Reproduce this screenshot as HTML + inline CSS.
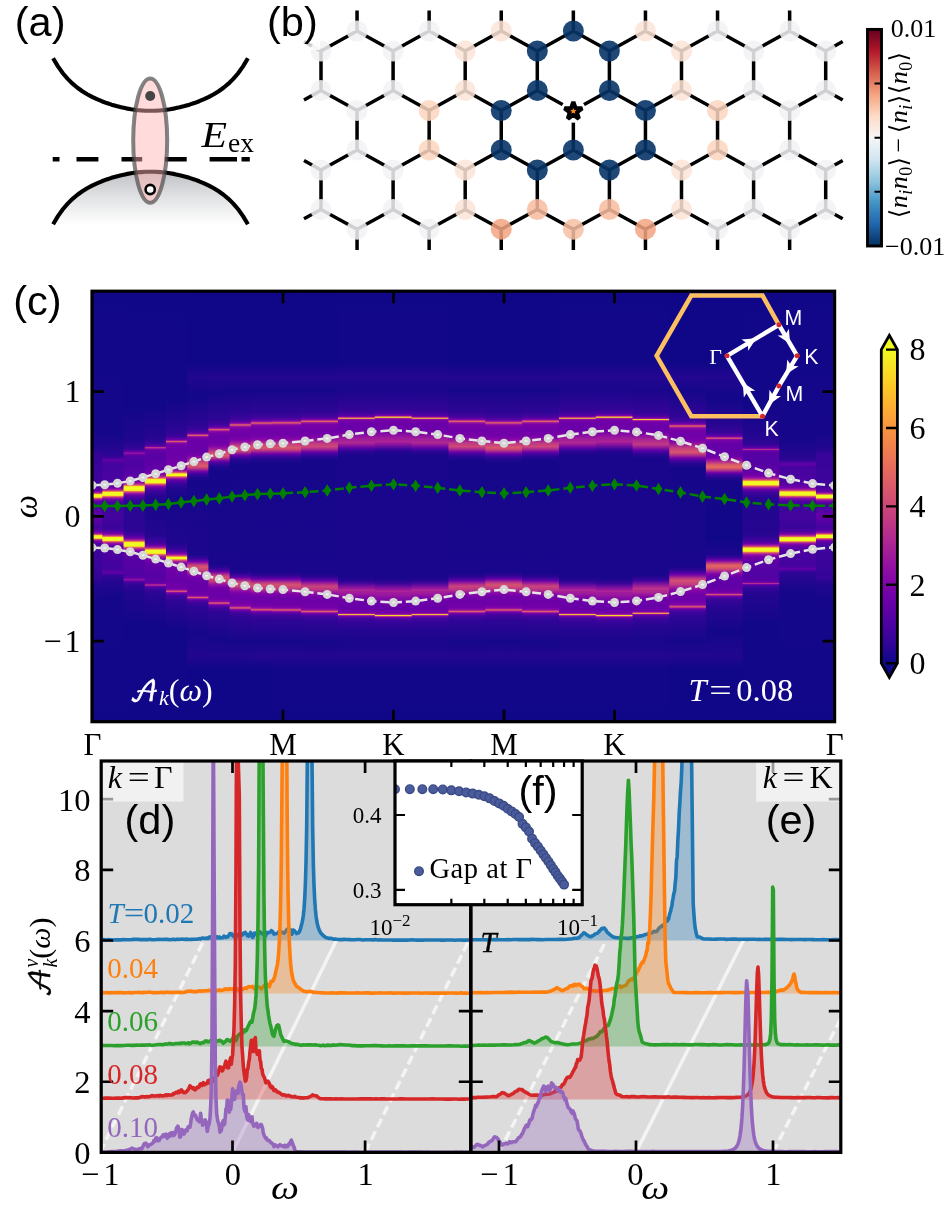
<!DOCTYPE html>
<html><head><meta charset="utf-8"><title>figure</title>
<style>html,body{margin:0;padding:0;background:#fff}svg{display:block}</style></head>
<body>
<svg width="945" height="1208" viewBox="0 0 945 1208">
<rect width="945" height="1208" fill="#fff"/>
<defs><linearGradient id="gval" x1="0" y1="0" x2="0" y2="1"><stop offset="0" stop-color="#bfc0c4"/><stop offset="0.45" stop-color="#dfe0e2"/><stop offset="1" stop-color="#ffffff"/></linearGradient></defs>
<text x="14.8" y="36.2" font-family='"Liberation Sans","DejaVu Sans",sans-serif' font-size="41.5">(a)</text>
<path d="M53.1,224.25L57.97,216.08L62.84,209.29L67.71,203.6L72.58,198.81L77.45,194.75L82.32,191.27L87.19,188.26L92.06,185.63L96.93,183.32L101.8,181.27L106.67,179.45L111.54,177.84L116.41,176.42L121.28,175.18L126.15,174.13L131.02,173.26L135.89,172.58L140.76,172.09L145.63,171.8L150.5,171.7L155.37,171.8L160.24,172.09L165.11,172.58L169.98,173.26L174.85,174.13L179.72,175.18L184.59,176.42L189.46,177.84L194.33,179.45L199.2,181.27L204.07,183.32L208.94,185.63L213.81,188.26L218.68,191.27L223.55,194.75L228.42,198.81L233.29,203.6L238.16,209.29L243.03,216.08L247.9,224.25Z" fill="url(#gval)"/>
<path d="M53.1,58.25L57.97,66.42L62.84,73.21L67.71,78.9L72.58,83.69L77.45,87.75L82.32,91.23L87.19,94.24L92.06,96.87L96.93,99.18L101.8,101.23L106.67,103.05L111.54,104.66L116.41,106.08L121.28,107.32L126.15,108.37L131.02,109.24L135.89,109.92L140.76,110.41L145.63,110.7L150.5,110.8L155.37,110.7L160.24,110.41L165.11,109.92L169.98,109.24L174.85,108.37L179.72,107.32L184.59,106.08L189.46,104.66L194.33,103.05L199.2,101.23L204.07,99.18L208.94,96.87L213.81,94.24L218.68,91.23L223.55,87.75L228.42,83.69L233.29,78.9L238.16,73.21L243.03,66.42L247.9,58.25" fill="none" stroke="#000" stroke-width="4.1" stroke-linejoin="round"/>
<path d="M53.1,224.25L57.97,216.08L62.84,209.29L67.71,203.6L72.58,198.81L77.45,194.75L82.32,191.27L87.19,188.26L92.06,185.63L96.93,183.32L101.8,181.27L106.67,179.45L111.54,177.84L116.41,176.42L121.28,175.18L126.15,174.13L131.02,173.26L135.89,172.58L140.76,172.09L145.63,171.8L150.5,171.7L155.37,171.8L160.24,172.09L165.11,172.58L169.98,173.26L174.85,174.13L179.72,175.18L184.59,176.42L189.46,177.84L194.33,179.45L199.2,181.27L204.07,183.32L208.94,185.63L213.81,188.26L218.68,191.27L223.55,194.75L228.42,198.81L233.29,203.6L238.16,209.29L243.03,216.08L247.9,224.25" fill="none" stroke="#000" stroke-width="4.1" stroke-linejoin="round"/>
<path d="M52.7,159.3H59.5M76.5,159.3H98.4M121.5,159.3H142.2M164.8,159.3H186.7M209.6,159.3H237M241.5,159.3H249.8" stroke="#000" stroke-width="4.6" fill="none"/>
<ellipse cx="150.2" cy="140.6" rx="17" ry="62.2" fill="#ffb4b4" fill-opacity="0.48" stroke="#4a4a4a" stroke-opacity="0.68" stroke-width="4"/>
<circle cx="150.2" cy="96" r="5" fill="#454545"/>
<circle cx="150.2" cy="189.5" r="4.6" fill="#fff" stroke="#000" stroke-width="2.6"/>
<text transform="translate(201.5,147.2) scale(1.16,1)" font-family='"Liberation Serif","DejaVu Serif","DejaVu Math TeX Gyre",serif' font-size="36" font-style="italic">E</text><text x="228" y="152.2" font-family='"Liberation Serif","DejaVu Serif","DejaVu Math TeX Gyre",serif' font-size="27.5">ex</text>
<path d="M357.05,31V10.5M357.05,229.2V250M357.05,110.5V150M429.15,31V10.5M429.15,229.2V250M429.15,110.5V150M501.25,31V10.5M501.25,229.2V250M501.25,110.5V150M573.35,31V10.5M573.35,229.2V250M573.35,110.5V150M645.45,31V10.5M645.45,229.2V250M645.45,110.5V150M717.55,31V10.5M717.55,229.2V250M717.55,110.5V150M789.65,31V10.5M789.65,229.2V250M789.65,110.5V150M321,51V90.5M321,170V209.5M393.1,51V90.5M393.1,170V209.5M465.2,51V90.5M465.2,170V209.5M537.3,51V90.5M537.3,170V209.5M609.4,51V90.5M609.4,170V209.5M681.5,51V90.5M681.5,170V209.5M753.6,51V90.5M753.6,170V209.5M825.7,51V90.5M825.7,170V209.5M321,51L304,41.57M321,51L357.05,31M393.1,51L357.05,31M393.1,51L429.15,31M465.2,51L429.15,31M465.2,51L501.25,31M537.3,51L501.25,31M537.3,51L573.35,31M609.4,51L573.35,31M609.4,51L645.45,31M681.5,51L645.45,31M681.5,51L717.55,31M753.6,51L717.55,31M753.6,51L789.65,31M825.7,51L789.65,31M825.7,51L842.7,41.57M321,90.5L304,99.93M321,90.5L357.05,110.5M393.1,90.5L357.05,110.5M393.1,90.5L429.15,110.5M465.2,90.5L429.15,110.5M465.2,90.5L501.25,110.5M537.3,90.5L501.25,110.5M537.3,90.5L573.35,110.5M609.4,90.5L573.35,110.5M609.4,90.5L645.45,110.5M681.5,90.5L645.45,110.5M681.5,90.5L717.55,110.5M753.6,90.5L717.55,110.5M753.6,90.5L789.65,110.5M825.7,90.5L789.65,110.5M825.7,90.5L842.7,99.93M321,170L304,160.57M321,170L357.05,150M393.1,170L357.05,150M393.1,170L429.15,150M465.2,170L429.15,150M465.2,170L501.25,150M537.3,170L501.25,150M537.3,170L573.35,150M609.4,170L573.35,150M609.4,170L645.45,150M681.5,170L645.45,150M681.5,170L717.55,150M753.6,170L717.55,150M753.6,170L789.65,150M825.7,170L789.65,150M825.7,170L842.7,160.57M321,209.5L304,218.79M321,209.5L357.05,229.2M393.1,209.5L357.05,229.2M393.1,209.5L429.15,229.2M465.2,209.5L429.15,229.2M465.2,209.5L501.25,229.2M537.3,209.5L501.25,229.2M537.3,209.5L573.35,229.2M609.4,209.5L573.35,229.2M609.4,209.5L645.45,229.2M681.5,209.5L645.45,229.2M681.5,209.5L717.55,229.2M753.6,209.5L717.55,229.2M753.6,209.5L789.65,229.2M825.7,209.5L789.65,229.2M825.7,209.5L842.7,218.79" stroke="#000" stroke-width="3.5" fill="none"/>
<circle cx="357.05" cy="31" r="10.5" fill="#f2f2f5" fill-opacity="0.86"/>
<circle cx="429.15" cy="31" r="10.5" fill="#f2f2f5" fill-opacity="0.86"/>
<circle cx="501.25" cy="31" r="10.5" fill="#fbe4d6" fill-opacity="0.86"/>
<circle cx="573.35" cy="31" r="10.5" fill="#073467" fill-opacity="0.9"/>
<circle cx="645.45" cy="31" r="10.5" fill="#fbe4d6" fill-opacity="0.86"/>
<circle cx="717.55" cy="31" r="10.5" fill="#f2f2f5" fill-opacity="0.86"/>
<circle cx="789.65" cy="31" r="10.5" fill="#f2f2f5" fill-opacity="0.86"/>
<circle cx="321" cy="51" r="10.5" fill="#f2f2f5" fill-opacity="0.86"/>
<circle cx="393.1" cy="51" r="10.5" fill="#f2f2f5" fill-opacity="0.86"/>
<circle cx="465.2" cy="51" r="10.5" fill="#fbe4d6" fill-opacity="0.86"/>
<circle cx="537.3" cy="51" r="10.5" fill="#073467" fill-opacity="0.9"/>
<circle cx="609.4" cy="51" r="10.5" fill="#073467" fill-opacity="0.9"/>
<circle cx="681.5" cy="51" r="10.5" fill="#fbe4d6" fill-opacity="0.86"/>
<circle cx="753.6" cy="51" r="10.5" fill="#f2f2f5" fill-opacity="0.86"/>
<circle cx="825.7" cy="51" r="10.5" fill="#f2f2f5" fill-opacity="0.86"/>
<circle cx="321" cy="90.5" r="10.5" fill="#f2f2f5" fill-opacity="0.86"/>
<circle cx="393.1" cy="90.5" r="10.5" fill="#f2f2f5" fill-opacity="0.86"/>
<circle cx="465.2" cy="90.5" r="10.5" fill="#fbe4d6" fill-opacity="0.86"/>
<circle cx="537.3" cy="90.5" r="10.5" fill="#073467" fill-opacity="0.9"/>
<circle cx="609.4" cy="90.5" r="10.5" fill="#073467" fill-opacity="0.9"/>
<circle cx="681.5" cy="90.5" r="10.5" fill="#fbe4d6" fill-opacity="0.86"/>
<circle cx="753.6" cy="90.5" r="10.5" fill="#f2f2f5" fill-opacity="0.86"/>
<circle cx="825.7" cy="90.5" r="10.5" fill="#f2f2f5" fill-opacity="0.86"/>
<circle cx="357.05" cy="110.5" r="10.5" fill="#f2f2f5" fill-opacity="0.86"/>
<circle cx="429.15" cy="110.5" r="10.5" fill="#fcd5bf" fill-opacity="0.86"/>
<circle cx="501.25" cy="110.5" r="10.5" fill="#073467" fill-opacity="0.9"/>
<circle cx="645.45" cy="110.5" r="10.5" fill="#073467" fill-opacity="0.9"/>
<circle cx="717.55" cy="110.5" r="10.5" fill="#fcd5bf" fill-opacity="0.86"/>
<circle cx="789.65" cy="110.5" r="10.5" fill="#f2f2f5" fill-opacity="0.86"/>
<circle cx="357.05" cy="150" r="10.5" fill="#f2f2f5" fill-opacity="0.86"/>
<circle cx="429.15" cy="150" r="10.5" fill="#fcd5bf" fill-opacity="0.86"/>
<circle cx="501.25" cy="150" r="10.5" fill="#073467" fill-opacity="0.9"/>
<circle cx="573.35" cy="150" r="10.5" fill="#073467" fill-opacity="0.9"/>
<circle cx="645.45" cy="150" r="10.5" fill="#073467" fill-opacity="0.9"/>
<circle cx="717.55" cy="150" r="10.5" fill="#fcd5bf" fill-opacity="0.86"/>
<circle cx="789.65" cy="150" r="10.5" fill="#f2f2f5" fill-opacity="0.86"/>
<circle cx="321" cy="170" r="10.5" fill="#f2f2f5" fill-opacity="0.86"/>
<circle cx="393.1" cy="170" r="10.5" fill="#f2f2f5" fill-opacity="0.86"/>
<circle cx="465.2" cy="170" r="10.5" fill="#fbe4d6" fill-opacity="0.86"/>
<circle cx="537.3" cy="170" r="10.5" fill="#073467" fill-opacity="0.9"/>
<circle cx="609.4" cy="170" r="10.5" fill="#073467" fill-opacity="0.9"/>
<circle cx="681.5" cy="170" r="10.5" fill="#fbe4d6" fill-opacity="0.86"/>
<circle cx="753.6" cy="170" r="10.5" fill="#f2f2f5" fill-opacity="0.86"/>
<circle cx="825.7" cy="170" r="10.5" fill="#f2f2f5" fill-opacity="0.86"/>
<circle cx="321" cy="209.5" r="10.5" fill="#f2f2f5" fill-opacity="0.86"/>
<circle cx="393.1" cy="209.5" r="10.5" fill="#f2f2f5" fill-opacity="0.86"/>
<circle cx="465.2" cy="209.5" r="10.5" fill="#fbe4d6" fill-opacity="0.86"/>
<circle cx="537.3" cy="209.5" r="10.5" fill="#f8bb9e" fill-opacity="0.86"/>
<circle cx="609.4" cy="209.5" r="10.5" fill="#f8bb9e" fill-opacity="0.86"/>
<circle cx="681.5" cy="209.5" r="10.5" fill="#fbe4d6" fill-opacity="0.86"/>
<circle cx="753.6" cy="209.5" r="10.5" fill="#f2f2f5" fill-opacity="0.86"/>
<circle cx="825.7" cy="209.5" r="10.5" fill="#f2f2f5" fill-opacity="0.86"/>
<circle cx="357.05" cy="229.2" r="10.5" fill="#f2f2f5" fill-opacity="0.86"/>
<circle cx="429.15" cy="229.2" r="10.5" fill="#f2f2f5" fill-opacity="0.86"/>
<circle cx="501.25" cy="229.2" r="10.5" fill="#f3a481" fill-opacity="0.86"/>
<circle cx="573.35" cy="229.2" r="10.5" fill="#f8bfa4" fill-opacity="0.86"/>
<circle cx="645.45" cy="229.2" r="10.5" fill="#f3a481" fill-opacity="0.86"/>
<circle cx="717.55" cy="229.2" r="10.5" fill="#f2f2f5" fill-opacity="0.86"/>
<circle cx="789.65" cy="229.2" r="10.5" fill="#f2f2f5" fill-opacity="0.86"/>
<circle cx="573.35" cy="110.5" r="12.2" fill="#fff"/>
<polygon points="573.35,101.9 575.52,108.21 582.19,108.33 576.87,112.34 578.82,118.72 573.35,114.9 567.88,118.72 569.83,112.34 564.51,108.33 571.18,108.21" fill="#000" stroke="#000" stroke-width="4.2" stroke-linejoin="bevel"/>
<polygon points="573.35,107.9 574.23,109.99 576.49,110.18 574.78,111.66 575.29,113.87 573.35,112.7 571.41,113.87 571.92,111.66 570.21,110.18 572.47,109.99" fill="#ff8c1a"/>
<rect x="264" y="2" width="56" height="48" fill="#fff" fill-opacity="0.8"/>
<text x="267" y="36.2" font-family='"Liberation Sans","DejaVu Sans",sans-serif' font-size="41.5">(b)</text>
<defs><linearGradient id="grdbu" x1="0" y1="1" x2="0" y2="0">
<stop offset="0.00" stop-color="#053061"/>
<stop offset="0.05" stop-color="#124984"/>
<stop offset="0.10" stop-color="#2065ab"/>
<stop offset="0.15" stop-color="#327cb7"/>
<stop offset="0.20" stop-color="#4393c3"/>
<stop offset="0.25" stop-color="#6bacd1"/>
<stop offset="0.30" stop-color="#90c4dd"/>
<stop offset="0.35" stop-color="#b1d5e7"/>
<stop offset="0.40" stop-color="#d1e5f0"/>
<stop offset="0.45" stop-color="#e4eef4"/>
<stop offset="0.50" stop-color="#f7f6f6"/>
<stop offset="0.55" stop-color="#fae9df"/>
<stop offset="0.60" stop-color="#fddbc7"/>
<stop offset="0.65" stop-color="#f8bfa4"/>
<stop offset="0.70" stop-color="#f3a481"/>
<stop offset="0.75" stop-color="#e48066"/>
<stop offset="0.80" stop-color="#d6604d"/>
<stop offset="0.85" stop-color="#c43b3c"/>
<stop offset="0.90" stop-color="#b1182b"/>
<stop offset="0.95" stop-color="#8a0b25"/>
<stop offset="1.00" stop-color="#67001f"/>
</linearGradient></defs>
<rect x="867.5" y="29.4" width="14" height="216.6" fill="url(#grdbu)" stroke="#000" stroke-width="2.9"/>
<path d="M874.5,83.6H881.5M874.5,137.7H881.5M874.5,191.8H881.5" stroke="#000" stroke-width="2"/>
<text x="890.7" y="36.5" font-family='"Liberation Serif","DejaVu Serif","DejaVu Math TeX Gyre",serif' font-size="26">0.01</text>
<text x="885" y="254.8" font-family='"Liberation Serif","DejaVu Serif","DejaVu Math TeX Gyre",serif' font-size="26">−0.01</text>
<text id="cblabel" transform="translate(907.3,134.8) rotate(-90)" text-anchor="middle" letter-spacing="0.45" font-family='"Liberation Serif","DejaVu Serif","DejaVu Math TeX Gyre",serif' font-size="26" font-style="italic"><tspan font-style="normal" font-size="24.5">⟨</tspan>n<tspan font-size="18" dy="5">i</tspan><tspan dy="-5">n</tspan><tspan font-size="18" dy="5" font-style="normal">0</tspan><tspan dy="-5" font-style="normal" font-size="24.5">⟩</tspan><tspan font-style="normal" dx="4">−</tspan><tspan font-style="normal" font-size="24.5" dx="4">⟨</tspan>n<tspan font-size="18" dy="5">i</tspan><tspan dy="-5" font-style="normal" font-size="24.5">⟩⟨</tspan>n<tspan font-size="18" dy="5" font-style="normal">0</tspan><tspan dy="-5" font-style="normal" font-size="24.5">⟩</tspan></text>
<defs>
<linearGradient id="hc0" gradientUnits="userSpaceOnUse" x1="0" y1="291.2" x2="0" y2="721.7">
<stop offset="0.0000" stop-color="#100788"/>
<stop offset="0.3252" stop-color="#16078a"/>
<stop offset="0.3635" stop-color="#20068f"/>
<stop offset="0.3786" stop-color="#350498"/>
<stop offset="0.4495" stop-color="#3f049c"/>
<stop offset="0.4599" stop-color="#5502a4"/>
<stop offset="0.4634" stop-color="#6700a8"/>
<stop offset="0.4657" stop-color="#8004a8"/>
<stop offset="0.4681" stop-color="#a82296"/>
<stop offset="0.4692" stop-color="#c5407e"/>
<stop offset="0.4704" stop-color="#e56b5d"/>
<stop offset="0.4715" stop-color="#febb2b"/>
<stop offset="0.4727" stop-color="#f0f921"/>
<stop offset="0.4785" stop-color="#f0f921"/>
<stop offset="0.4797" stop-color="#f89540"/>
<stop offset="0.4808" stop-color="#da5a6a"/>
<stop offset="0.4820" stop-color="#bc3587"/>
<stop offset="0.4832" stop-color="#a21d9a"/>
<stop offset="0.4866" stop-color="#6f00a8"/>
<stop offset="0.4901" stop-color="#5502a4"/>
<stop offset="0.4994" stop-color="#41049d"/>
<stop offset="0.5180" stop-color="#6001a6"/>
<stop offset="0.5250" stop-color="#6300a7"/>
<stop offset="0.5494" stop-color="#41049d"/>
<stop offset="0.5563" stop-color="#5502a4"/>
<stop offset="0.5610" stop-color="#7d03a8"/>
<stop offset="0.5633" stop-color="#a31e9a"/>
<stop offset="0.5645" stop-color="#be3885"/>
<stop offset="0.5656" stop-color="#dd5e66"/>
<stop offset="0.5679" stop-color="#f0f921"/>
<stop offset="0.5738" stop-color="#f0f921"/>
<stop offset="0.5761" stop-color="#db5c68"/>
<stop offset="0.5772" stop-color="#bb3488"/>
<stop offset="0.5796" stop-color="#8a09a5"/>
<stop offset="0.5819" stop-color="#6e00a8"/>
<stop offset="0.5854" stop-color="#5601a4"/>
<stop offset="0.5958" stop-color="#3f049c"/>
<stop offset="0.6667" stop-color="#350498"/>
<stop offset="0.6818" stop-color="#20068f"/>
<stop offset="0.7178" stop-color="#16078a"/>
<stop offset="1.0000" stop-color="#100788"/>
</linearGradient>
<linearGradient id="hc1" gradientUnits="userSpaceOnUse" x1="0" y1="291.2" x2="0" y2="721.7">
<stop offset="0.0000" stop-color="#100788"/>
<stop offset="0.3368" stop-color="#16078a"/>
<stop offset="0.3810" stop-color="#2c0594"/>
<stop offset="0.3868" stop-color="#3c049b"/>
<stop offset="0.3926" stop-color="#6600a7"/>
<stop offset="0.3972" stop-color="#4c02a1"/>
<stop offset="0.4030" stop-color="#44039e"/>
<stop offset="0.4413" stop-color="#4b03a1"/>
<stop offset="0.4530" stop-color="#6001a6"/>
<stop offset="0.4564" stop-color="#7100a8"/>
<stop offset="0.4599" stop-color="#8f0da4"/>
<stop offset="0.4623" stop-color="#b32c8e"/>
<stop offset="0.4634" stop-color="#c9447a"/>
<stop offset="0.4646" stop-color="#e3685f"/>
<stop offset="0.4657" stop-color="#fba238"/>
<stop offset="0.4669" stop-color="#f0f921"/>
<stop offset="0.4739" stop-color="#f0f921"/>
<stop offset="0.4750" stop-color="#fbd724"/>
<stop offset="0.4762" stop-color="#f3874a"/>
<stop offset="0.4774" stop-color="#d9586a"/>
<stop offset="0.4797" stop-color="#a82296"/>
<stop offset="0.4832" stop-color="#7701a8"/>
<stop offset="0.4890" stop-color="#4e02a2"/>
<stop offset="0.4994" stop-color="#3a049a"/>
<stop offset="0.5215" stop-color="#44039e"/>
<stop offset="0.5494" stop-color="#3a049a"/>
<stop offset="0.5575" stop-color="#4e02a2"/>
<stop offset="0.5633" stop-color="#7701a8"/>
<stop offset="0.5656" stop-color="#9511a1"/>
<stop offset="0.5679" stop-color="#c13b82"/>
<stop offset="0.5691" stop-color="#da5b69"/>
<stop offset="0.5703" stop-color="#f58c46"/>
<stop offset="0.5714" stop-color="#f8e125"/>
<stop offset="0.5726" stop-color="#f0f921"/>
<stop offset="0.5784" stop-color="#f0f921"/>
<stop offset="0.5796" stop-color="#f7e225"/>
<stop offset="0.5807" stop-color="#f58c46"/>
<stop offset="0.5819" stop-color="#da5b69"/>
<stop offset="0.5830" stop-color="#c13b82"/>
<stop offset="0.5842" stop-color="#ab2494"/>
<stop offset="0.5865" stop-color="#8a09a5"/>
<stop offset="0.5923" stop-color="#6100a7"/>
<stop offset="0.6028" stop-color="#4c02a1"/>
<stop offset="0.6423" stop-color="#43039e"/>
<stop offset="0.6481" stop-color="#4903a0"/>
<stop offset="0.6539" stop-color="#6300a7"/>
<stop offset="0.6585" stop-color="#3f049c"/>
<stop offset="0.6655" stop-color="#2a0593"/>
<stop offset="0.7062" stop-color="#16078a"/>
<stop offset="1.0000" stop-color="#100788"/>
</linearGradient>
<linearGradient id="hc2" gradientUnits="userSpaceOnUse" x1="0" y1="291.2" x2="0" y2="721.7">
<stop offset="0.0000" stop-color="#100788"/>
<stop offset="0.2718" stop-color="#130789"/>
<stop offset="0.3449" stop-color="#20068f"/>
<stop offset="0.3612" stop-color="#2c0594"/>
<stop offset="0.3682" stop-color="#3e049c"/>
<stop offset="0.3728" stop-color="#6100a7"/>
<stop offset="0.3751" stop-color="#8e0ca4"/>
<stop offset="0.3763" stop-color="#9a169f"/>
<stop offset="0.3798" stop-color="#6600a7"/>
<stop offset="0.3844" stop-color="#5302a3"/>
<stop offset="0.4019" stop-color="#4e02a2"/>
<stop offset="0.4262" stop-color="#5801a4"/>
<stop offset="0.4390" stop-color="#6e00a8"/>
<stop offset="0.4425" stop-color="#7e03a8"/>
<stop offset="0.4460" stop-color="#9a169f"/>
<stop offset="0.4483" stop-color="#b6308b"/>
<stop offset="0.4506" stop-color="#de5f65"/>
<stop offset="0.4518" stop-color="#f3874a"/>
<stop offset="0.4530" stop-color="#fdc627"/>
<stop offset="0.4541" stop-color="#f0f921"/>
<stop offset="0.4623" stop-color="#f0f921"/>
<stop offset="0.4634" stop-color="#fcce25"/>
<stop offset="0.4646" stop-color="#f58b47"/>
<stop offset="0.4657" stop-color="#de5f65"/>
<stop offset="0.4669" stop-color="#c7427c"/>
<stop offset="0.4692" stop-color="#a01a9c"/>
<stop offset="0.4739" stop-color="#6900a8"/>
<stop offset="0.4797" stop-color="#46039f"/>
<stop offset="0.4866" stop-color="#330597"/>
<stop offset="0.4959" stop-color="#2a0593"/>
<stop offset="0.5540" stop-color="#2c0594"/>
<stop offset="0.5656" stop-color="#41049d"/>
<stop offset="0.5703" stop-color="#5801a4"/>
<stop offset="0.5738" stop-color="#7201a8"/>
<stop offset="0.5772" stop-color="#a01a9c"/>
<stop offset="0.5796" stop-color="#c8437b"/>
<stop offset="0.5807" stop-color="#df6263"/>
<stop offset="0.5819" stop-color="#f68d45"/>
<stop offset="0.5830" stop-color="#fbd524"/>
<stop offset="0.5842" stop-color="#f0f921"/>
<stop offset="0.5923" stop-color="#f0f921"/>
<stop offset="0.5947" stop-color="#ec7754"/>
<stop offset="0.5958" stop-color="#d5546e"/>
<stop offset="0.5970" stop-color="#c23c81"/>
<stop offset="0.5993" stop-color="#a11b9b"/>
<stop offset="0.6028" stop-color="#8104a7"/>
<stop offset="0.6063" stop-color="#6f00a8"/>
<stop offset="0.6179" stop-color="#5801a4"/>
<stop offset="0.6609" stop-color="#5002a2"/>
<stop offset="0.6667" stop-color="#6600a7"/>
<stop offset="0.6702" stop-color="#9613a1"/>
<stop offset="0.6736" stop-color="#5b01a5"/>
<stop offset="0.6783" stop-color="#3a049a"/>
<stop offset="0.6852" stop-color="#2c0594"/>
<stop offset="0.6980" stop-color="#220690"/>
<stop offset="0.7666" stop-color="#130789"/>
<stop offset="1.0000" stop-color="#100788"/>
</linearGradient>
<linearGradient id="hc3" gradientUnits="userSpaceOnUse" x1="0" y1="291.2" x2="0" y2="721.7">
<stop offset="0.0000" stop-color="#100788"/>
<stop offset="0.2660" stop-color="#130789"/>
<stop offset="0.3380" stop-color="#260591"/>
<stop offset="0.3508" stop-color="#330597"/>
<stop offset="0.3577" stop-color="#4e02a2"/>
<stop offset="0.3600" stop-color="#6600a7"/>
<stop offset="0.3612" stop-color="#7d03a8"/>
<stop offset="0.3635" stop-color="#c6417d"/>
<stop offset="0.3647" stop-color="#b12a90"/>
<stop offset="0.3659" stop-color="#8a09a5"/>
<stop offset="0.3670" stop-color="#7501a8"/>
<stop offset="0.3705" stop-color="#6001a6"/>
<stop offset="0.3833" stop-color="#5801a4"/>
<stop offset="0.4111" stop-color="#6100a7"/>
<stop offset="0.4228" stop-color="#7501a8"/>
<stop offset="0.4262" stop-color="#8606a6"/>
<stop offset="0.4297" stop-color="#a11b9b"/>
<stop offset="0.4321" stop-color="#be3885"/>
<stop offset="0.4332" stop-color="#d04d73"/>
<stop offset="0.4344" stop-color="#e56a5d"/>
<stop offset="0.4355" stop-color="#f9983e"/>
<stop offset="0.4367" stop-color="#f8e125"/>
<stop offset="0.4379" stop-color="#f0f921"/>
<stop offset="0.4448" stop-color="#f0f921"/>
<stop offset="0.4460" stop-color="#fdc229"/>
<stop offset="0.4472" stop-color="#f1834c"/>
<stop offset="0.4483" stop-color="#da5b69"/>
<stop offset="0.4495" stop-color="#c43e7f"/>
<stop offset="0.4518" stop-color="#9d189d"/>
<stop offset="0.4541" stop-color="#7d03a8"/>
<stop offset="0.4576" stop-color="#5e01a6"/>
<stop offset="0.4646" stop-color="#3c049b"/>
<stop offset="0.4762" stop-color="#260591"/>
<stop offset="0.4971" stop-color="#19068c"/>
<stop offset="0.5679" stop-color="#240691"/>
<stop offset="0.5830" stop-color="#3f049c"/>
<stop offset="0.5877" stop-color="#5502a4"/>
<stop offset="0.5912" stop-color="#7100a8"/>
<stop offset="0.5947" stop-color="#9d189d"/>
<stop offset="0.5970" stop-color="#c5407e"/>
<stop offset="0.5981" stop-color="#db5c68"/>
<stop offset="0.5993" stop-color="#f3854b"/>
<stop offset="0.6005" stop-color="#fdc627"/>
<stop offset="0.6016" stop-color="#f0f921"/>
<stop offset="0.6086" stop-color="#f0f921"/>
<stop offset="0.6098" stop-color="#fdc527"/>
<stop offset="0.6109" stop-color="#f3854b"/>
<stop offset="0.6121" stop-color="#dd5e66"/>
<stop offset="0.6132" stop-color="#c9447a"/>
<stop offset="0.6156" stop-color="#a82296"/>
<stop offset="0.6179" stop-color="#910ea3"/>
<stop offset="0.6214" stop-color="#7b02a8"/>
<stop offset="0.6330" stop-color="#6100a7"/>
<stop offset="0.6609" stop-color="#5601a4"/>
<stop offset="0.6760" stop-color="#5e01a6"/>
<stop offset="0.6794" stop-color="#7501a8"/>
<stop offset="0.6806" stop-color="#8e0ca4"/>
<stop offset="0.6818" stop-color="#b42e8d"/>
<stop offset="0.6829" stop-color="#bf3984"/>
<stop offset="0.6841" stop-color="#9613a1"/>
<stop offset="0.6852" stop-color="#7501a8"/>
<stop offset="0.6864" stop-color="#6100a7"/>
<stop offset="0.6887" stop-color="#4b03a1"/>
<stop offset="0.6945" stop-color="#350498"/>
<stop offset="0.7062" stop-color="#280592"/>
<stop offset="0.7735" stop-color="#130789"/>
<stop offset="1.0000" stop-color="#100788"/>
</linearGradient>
<linearGradient id="hc4" gradientUnits="userSpaceOnUse" x1="0" y1="291.2" x2="0" y2="721.7">
<stop offset="0.0000" stop-color="#100788"/>
<stop offset="0.2532" stop-color="#130789"/>
<stop offset="0.3229" stop-color="#2c0594"/>
<stop offset="0.3357" stop-color="#3a049a"/>
<stop offset="0.3426" stop-color="#5901a5"/>
<stop offset="0.3449" stop-color="#7201a8"/>
<stop offset="0.3461" stop-color="#8707a6"/>
<stop offset="0.3473" stop-color="#a82296"/>
<stop offset="0.3484" stop-color="#d45270"/>
<stop offset="0.3496" stop-color="#de5f65"/>
<stop offset="0.3508" stop-color="#b83289"/>
<stop offset="0.3519" stop-color="#9814a0"/>
<stop offset="0.3542" stop-color="#7d03a8"/>
<stop offset="0.3566" stop-color="#7401a8"/>
<stop offset="0.3705" stop-color="#6a00a8"/>
<stop offset="0.4030" stop-color="#7201a8"/>
<stop offset="0.4123" stop-color="#8305a7"/>
<stop offset="0.4158" stop-color="#9410a2"/>
<stop offset="0.4181" stop-color="#aa2395"/>
<stop offset="0.4204" stop-color="#cb4679"/>
<stop offset="0.4216" stop-color="#e16462"/>
<stop offset="0.4228" stop-color="#f89441"/>
<stop offset="0.4239" stop-color="#f8df25"/>
<stop offset="0.4251" stop-color="#f0f921"/>
<stop offset="0.4286" stop-color="#f0f724"/>
<stop offset="0.4297" stop-color="#fba238"/>
<stop offset="0.4309" stop-color="#e56b5d"/>
<stop offset="0.4321" stop-color="#cc4778"/>
<stop offset="0.4332" stop-color="#b52f8c"/>
<stop offset="0.4355" stop-color="#8f0da4"/>
<stop offset="0.4379" stop-color="#7401a8"/>
<stop offset="0.4413" stop-color="#5601a4"/>
<stop offset="0.4495" stop-color="#310597"/>
<stop offset="0.4611" stop-color="#20068f"/>
<stop offset="0.4855" stop-color="#16078a"/>
<stop offset="0.5854" stop-color="#20068f"/>
<stop offset="0.5993" stop-color="#38049a"/>
<stop offset="0.6039" stop-color="#4e02a2"/>
<stop offset="0.6086" stop-color="#7201a8"/>
<stop offset="0.6121" stop-color="#a11b9b"/>
<stop offset="0.6144" stop-color="#cc4977"/>
<stop offset="0.6156" stop-color="#e76e5b"/>
<stop offset="0.6167" stop-color="#fca636"/>
<stop offset="0.6179" stop-color="#f0f921"/>
<stop offset="0.6214" stop-color="#f0f921"/>
<stop offset="0.6225" stop-color="#fdc328"/>
<stop offset="0.6237" stop-color="#f1814d"/>
<stop offset="0.6249" stop-color="#d9586a"/>
<stop offset="0.6272" stop-color="#b12a90"/>
<stop offset="0.6295" stop-color="#9814a0"/>
<stop offset="0.6318" stop-color="#8808a6"/>
<stop offset="0.6411" stop-color="#7201a8"/>
<stop offset="0.6725" stop-color="#6700a8"/>
<stop offset="0.6899" stop-color="#7100a8"/>
<stop offset="0.6922" stop-color="#7b02a8"/>
<stop offset="0.6945" stop-color="#9a169f"/>
<stop offset="0.6969" stop-color="#de5f65"/>
<stop offset="0.6980" stop-color="#c8437b"/>
<stop offset="0.6992" stop-color="#9d189d"/>
<stop offset="0.7003" stop-color="#8004a8"/>
<stop offset="0.7027" stop-color="#6001a6"/>
<stop offset="0.7085" stop-color="#3f049c"/>
<stop offset="0.7201" stop-color="#2e0595"/>
<stop offset="0.7851" stop-color="#130789"/>
<stop offset="1.0000" stop-color="#100788"/>
</linearGradient>
<linearGradient id="hc5" gradientUnits="userSpaceOnUse" x1="0" y1="291.2" x2="0" y2="721.7">
<stop offset="0.0000" stop-color="#100788"/>
<stop offset="0.1696" stop-color="#100788"/>
<stop offset="0.1986" stop-color="#220690"/>
<stop offset="0.2439" stop-color="#130789"/>
<stop offset="0.3113" stop-color="#2e0595"/>
<stop offset="0.3229" stop-color="#3e049c"/>
<stop offset="0.3287" stop-color="#5e01a6"/>
<stop offset="0.3310" stop-color="#7b02a8"/>
<stop offset="0.3322" stop-color="#9613a1"/>
<stop offset="0.3345" stop-color="#e56b5d"/>
<stop offset="0.3357" stop-color="#d24f71"/>
<stop offset="0.3368" stop-color="#aa2395"/>
<stop offset="0.3380" stop-color="#8f0da4"/>
<stop offset="0.3391" stop-color="#8104a7"/>
<stop offset="0.3426" stop-color="#7100a8"/>
<stop offset="0.3496" stop-color="#6900a8"/>
<stop offset="0.3717" stop-color="#6900a8"/>
<stop offset="0.3810" stop-color="#7401a8"/>
<stop offset="0.3879" stop-color="#910ea3"/>
<stop offset="0.3984" stop-color="#cc4977"/>
<stop offset="0.4042" stop-color="#d5546e"/>
<stop offset="0.4053" stop-color="#dd5e66"/>
<stop offset="0.4100" stop-color="#c9447a"/>
<stop offset="0.4193" stop-color="#6e00a8"/>
<stop offset="0.4239" stop-color="#44039e"/>
<stop offset="0.4309" stop-color="#240691"/>
<stop offset="0.4402" stop-color="#16078a"/>
<stop offset="0.6121" stop-color="#1d068e"/>
<stop offset="0.6190" stop-color="#310597"/>
<stop offset="0.6237" stop-color="#4e02a2"/>
<stop offset="0.6283" stop-color="#7a02a8"/>
<stop offset="0.6365" stop-color="#c7427c"/>
<stop offset="0.6411" stop-color="#da5a6a"/>
<stop offset="0.6423" stop-color="#d24f71"/>
<stop offset="0.6481" stop-color="#c8437b"/>
<stop offset="0.6597" stop-color="#8606a6"/>
<stop offset="0.6655" stop-color="#7100a8"/>
<stop offset="0.6760" stop-color="#6600a7"/>
<stop offset="0.7003" stop-color="#6a00a8"/>
<stop offset="0.7050" stop-color="#7201a8"/>
<stop offset="0.7073" stop-color="#8004a8"/>
<stop offset="0.7085" stop-color="#8f0da4"/>
<stop offset="0.7096" stop-color="#ad2793"/>
<stop offset="0.7108" stop-color="#d6556d"/>
<stop offset="0.7120" stop-color="#de5f65"/>
<stop offset="0.7131" stop-color="#b42e8d"/>
<stop offset="0.7143" stop-color="#8d0ba5"/>
<stop offset="0.7166" stop-color="#6600a7"/>
<stop offset="0.7224" stop-color="#3f049c"/>
<stop offset="0.7329" stop-color="#2e0595"/>
<stop offset="0.7956" stop-color="#16078a"/>
<stop offset="0.8479" stop-color="#220690"/>
<stop offset="0.8757" stop-color="#100788"/>
<stop offset="1.0000" stop-color="#100788"/>
</linearGradient>
<linearGradient id="hc6" gradientUnits="userSpaceOnUse" x1="0" y1="291.2" x2="0" y2="721.7">
<stop offset="0.0000" stop-color="#100788"/>
<stop offset="0.1696" stop-color="#100788"/>
<stop offset="0.1986" stop-color="#240691"/>
<stop offset="0.2346" stop-color="#16078a"/>
<stop offset="0.2973" stop-color="#2e0595"/>
<stop offset="0.3089" stop-color="#3e049c"/>
<stop offset="0.3148" stop-color="#5b01a5"/>
<stop offset="0.3182" stop-color="#8a09a5"/>
<stop offset="0.3194" stop-color="#a82296"/>
<stop offset="0.3206" stop-color="#ce4b75"/>
<stop offset="0.3217" stop-color="#e26660"/>
<stop offset="0.3240" stop-color="#aa2395"/>
<stop offset="0.3252" stop-color="#9410a2"/>
<stop offset="0.3264" stop-color="#8606a6"/>
<stop offset="0.3298" stop-color="#7501a8"/>
<stop offset="0.3380" stop-color="#6c00a8"/>
<stop offset="0.3508" stop-color="#6e00a8"/>
<stop offset="0.3589" stop-color="#7d03a8"/>
<stop offset="0.3647" stop-color="#9814a0"/>
<stop offset="0.3740" stop-color="#cc4778"/>
<stop offset="0.3798" stop-color="#d5536f"/>
<stop offset="0.3810" stop-color="#db5c68"/>
<stop offset="0.3856" stop-color="#c8437b"/>
<stop offset="0.3949" stop-color="#6e00a8"/>
<stop offset="0.3995" stop-color="#44039e"/>
<stop offset="0.4065" stop-color="#240691"/>
<stop offset="0.4158" stop-color="#16078a"/>
<stop offset="0.6341" stop-color="#19068c"/>
<stop offset="0.6411" stop-color="#280592"/>
<stop offset="0.6469" stop-color="#44039e"/>
<stop offset="0.6516" stop-color="#6e00a8"/>
<stop offset="0.6609" stop-color="#c6417d"/>
<stop offset="0.6655" stop-color="#d8576b"/>
<stop offset="0.6667" stop-color="#d14e72"/>
<stop offset="0.6725" stop-color="#c7427c"/>
<stop offset="0.6818" stop-color="#9410a2"/>
<stop offset="0.6876" stop-color="#7801a8"/>
<stop offset="0.6945" stop-color="#6c00a8"/>
<stop offset="0.7073" stop-color="#6a00a8"/>
<stop offset="0.7154" stop-color="#7100a8"/>
<stop offset="0.7201" stop-color="#8405a7"/>
<stop offset="0.7213" stop-color="#9410a2"/>
<stop offset="0.7224" stop-color="#ad2793"/>
<stop offset="0.7236" stop-color="#cf4c74"/>
<stop offset="0.7247" stop-color="#de6164"/>
<stop offset="0.7271" stop-color="#9d189d"/>
<stop offset="0.7282" stop-color="#8104a7"/>
<stop offset="0.7305" stop-color="#6100a7"/>
<stop offset="0.7364" stop-color="#3f049c"/>
<stop offset="0.7468" stop-color="#2e0595"/>
<stop offset="0.8072" stop-color="#16078a"/>
<stop offset="0.8479" stop-color="#220690"/>
<stop offset="0.8757" stop-color="#100788"/>
<stop offset="1.0000" stop-color="#100788"/>
</linearGradient>
<linearGradient id="hc7" gradientUnits="userSpaceOnUse" x1="0" y1="291.2" x2="0" y2="721.7">
<stop offset="0.0000" stop-color="#100788"/>
<stop offset="0.1684" stop-color="#100788"/>
<stop offset="0.1986" stop-color="#240691"/>
<stop offset="0.2288" stop-color="#16078a"/>
<stop offset="0.2811" stop-color="#2a0593"/>
<stop offset="0.2962" stop-color="#3c049b"/>
<stop offset="0.3031" stop-color="#5901a5"/>
<stop offset="0.3066" stop-color="#8405a7"/>
<stop offset="0.3078" stop-color="#9e199d"/>
<stop offset="0.3101" stop-color="#da5b69"/>
<stop offset="0.3113" stop-color="#da5a6a"/>
<stop offset="0.3136" stop-color="#a51f99"/>
<stop offset="0.3159" stop-color="#8707a6"/>
<stop offset="0.3206" stop-color="#7501a8"/>
<stop offset="0.3310" stop-color="#6f00a8"/>
<stop offset="0.3403" stop-color="#7401a8"/>
<stop offset="0.3461" stop-color="#8104a7"/>
<stop offset="0.3508" stop-color="#9613a1"/>
<stop offset="0.3600" stop-color="#c9447a"/>
<stop offset="0.3659" stop-color="#d35171"/>
<stop offset="0.3670" stop-color="#da5b69"/>
<stop offset="0.3717" stop-color="#c8437b"/>
<stop offset="0.3810" stop-color="#6f00a8"/>
<stop offset="0.3856" stop-color="#46039f"/>
<stop offset="0.3926" stop-color="#240691"/>
<stop offset="0.4019" stop-color="#16078a"/>
<stop offset="0.6469" stop-color="#19068c"/>
<stop offset="0.6551" stop-color="#280592"/>
<stop offset="0.6609" stop-color="#46039f"/>
<stop offset="0.6655" stop-color="#6f00a8"/>
<stop offset="0.6748" stop-color="#c6417d"/>
<stop offset="0.6794" stop-color="#d7566c"/>
<stop offset="0.6806" stop-color="#cf4c74"/>
<stop offset="0.6852" stop-color="#c9447a"/>
<stop offset="0.6957" stop-color="#920fa3"/>
<stop offset="0.7003" stop-color="#7e03a8"/>
<stop offset="0.7062" stop-color="#7100a8"/>
<stop offset="0.7154" stop-color="#6c00a8"/>
<stop offset="0.7259" stop-color="#7401a8"/>
<stop offset="0.7305" stop-color="#8606a6"/>
<stop offset="0.7329" stop-color="#a62098"/>
<stop offset="0.7352" stop-color="#da5a6a"/>
<stop offset="0.7364" stop-color="#d35171"/>
<stop offset="0.7387" stop-color="#9511a1"/>
<stop offset="0.7398" stop-color="#7d03a8"/>
<stop offset="0.7422" stop-color="#6001a6"/>
<stop offset="0.7480" stop-color="#3f049c"/>
<stop offset="0.7584" stop-color="#2e0595"/>
<stop offset="0.8142" stop-color="#16078a"/>
<stop offset="0.8479" stop-color="#220690"/>
<stop offset="0.8757" stop-color="#100788"/>
<stop offset="1.0000" stop-color="#100788"/>
</linearGradient>
<linearGradient id="hc8" gradientUnits="userSpaceOnUse" x1="0" y1="291.2" x2="0" y2="721.7">
<stop offset="0.0000" stop-color="#100788"/>
<stop offset="0.1684" stop-color="#100788"/>
<stop offset="0.1986" stop-color="#240691"/>
<stop offset="0.2288" stop-color="#16078a"/>
<stop offset="0.2811" stop-color="#2e0595"/>
<stop offset="0.2927" stop-color="#3e049c"/>
<stop offset="0.2985" stop-color="#5801a4"/>
<stop offset="0.3020" stop-color="#8004a8"/>
<stop offset="0.3031" stop-color="#9613a1"/>
<stop offset="0.3055" stop-color="#d5546e"/>
<stop offset="0.3066" stop-color="#de5f65"/>
<stop offset="0.3089" stop-color="#ab2494"/>
<stop offset="0.3101" stop-color="#9613a1"/>
<stop offset="0.3124" stop-color="#8104a7"/>
<stop offset="0.3171" stop-color="#7401a8"/>
<stop offset="0.3264" stop-color="#6f00a8"/>
<stop offset="0.3357" stop-color="#7201a8"/>
<stop offset="0.3426" stop-color="#8104a7"/>
<stop offset="0.3473" stop-color="#9613a1"/>
<stop offset="0.3566" stop-color="#c9447a"/>
<stop offset="0.3624" stop-color="#d35171"/>
<stop offset="0.3635" stop-color="#da5b69"/>
<stop offset="0.3682" stop-color="#c8437b"/>
<stop offset="0.3775" stop-color="#6f00a8"/>
<stop offset="0.3833" stop-color="#3f049c"/>
<stop offset="0.3902" stop-color="#220690"/>
<stop offset="0.3995" stop-color="#16078a"/>
<stop offset="0.6504" stop-color="#19068c"/>
<stop offset="0.6585" stop-color="#280592"/>
<stop offset="0.6643" stop-color="#46039f"/>
<stop offset="0.6690" stop-color="#6f00a8"/>
<stop offset="0.6783" stop-color="#c6417d"/>
<stop offset="0.6829" stop-color="#d7566c"/>
<stop offset="0.6841" stop-color="#cf4c74"/>
<stop offset="0.6887" stop-color="#c9447a"/>
<stop offset="0.6992" stop-color="#920fa3"/>
<stop offset="0.7038" stop-color="#7d03a8"/>
<stop offset="0.7108" stop-color="#6f00a8"/>
<stop offset="0.7201" stop-color="#6c00a8"/>
<stop offset="0.7294" stop-color="#7201a8"/>
<stop offset="0.7340" stop-color="#8004a8"/>
<stop offset="0.7364" stop-color="#9613a1"/>
<stop offset="0.7375" stop-color="#ac2694"/>
<stop offset="0.7398" stop-color="#db5c68"/>
<stop offset="0.7410" stop-color="#cc4977"/>
<stop offset="0.7422" stop-color="#ab2494"/>
<stop offset="0.7433" stop-color="#8e0ca4"/>
<stop offset="0.7445" stop-color="#7801a8"/>
<stop offset="0.7468" stop-color="#5c01a6"/>
<stop offset="0.7526" stop-color="#3f049c"/>
<stop offset="0.7619" stop-color="#2f0596"/>
<stop offset="0.8153" stop-color="#16078a"/>
<stop offset="0.8479" stop-color="#240691"/>
<stop offset="0.8757" stop-color="#100788"/>
<stop offset="1.0000" stop-color="#100788"/>
</linearGradient>
<linearGradient id="hc9" gradientUnits="userSpaceOnUse" x1="0" y1="291.2" x2="0" y2="721.7">
<stop offset="0.0000" stop-color="#100788"/>
<stop offset="0.1684" stop-color="#100788"/>
<stop offset="0.1986" stop-color="#240691"/>
<stop offset="0.2288" stop-color="#16078a"/>
<stop offset="0.2811" stop-color="#2e0595"/>
<stop offset="0.2927" stop-color="#3f049c"/>
<stop offset="0.2985" stop-color="#5c01a6"/>
<stop offset="0.3020" stop-color="#8a09a5"/>
<stop offset="0.3031" stop-color="#a51f99"/>
<stop offset="0.3055" stop-color="#de5f65"/>
<stop offset="0.3066" stop-color="#d5536f"/>
<stop offset="0.3078" stop-color="#b83289"/>
<stop offset="0.3089" stop-color="#a01a9c"/>
<stop offset="0.3113" stop-color="#8606a6"/>
<stop offset="0.3159" stop-color="#7501a8"/>
<stop offset="0.3252" stop-color="#6f00a8"/>
<stop offset="0.3357" stop-color="#7201a8"/>
<stop offset="0.3426" stop-color="#8104a7"/>
<stop offset="0.3473" stop-color="#9613a1"/>
<stop offset="0.3566" stop-color="#c9447a"/>
<stop offset="0.3624" stop-color="#d35171"/>
<stop offset="0.3635" stop-color="#da5b69"/>
<stop offset="0.3682" stop-color="#c8437b"/>
<stop offset="0.3775" stop-color="#6f00a8"/>
<stop offset="0.3833" stop-color="#3f049c"/>
<stop offset="0.3902" stop-color="#220690"/>
<stop offset="0.3995" stop-color="#16078a"/>
<stop offset="0.6504" stop-color="#19068c"/>
<stop offset="0.6585" stop-color="#280592"/>
<stop offset="0.6643" stop-color="#46039f"/>
<stop offset="0.6690" stop-color="#6f00a8"/>
<stop offset="0.6783" stop-color="#c6417d"/>
<stop offset="0.6829" stop-color="#d7566c"/>
<stop offset="0.6841" stop-color="#cf4c74"/>
<stop offset="0.6887" stop-color="#c9447a"/>
<stop offset="0.6992" stop-color="#920fa3"/>
<stop offset="0.7038" stop-color="#7d03a8"/>
<stop offset="0.7096" stop-color="#7100a8"/>
<stop offset="0.7189" stop-color="#6c00a8"/>
<stop offset="0.7294" stop-color="#7100a8"/>
<stop offset="0.7340" stop-color="#7d03a8"/>
<stop offset="0.7364" stop-color="#8e0ca4"/>
<stop offset="0.7375" stop-color="#a01a9c"/>
<stop offset="0.7398" stop-color="#d5546e"/>
<stop offset="0.7410" stop-color="#d8576b"/>
<stop offset="0.7433" stop-color="#9c179e"/>
<stop offset="0.7445" stop-color="#8305a7"/>
<stop offset="0.7468" stop-color="#6300a7"/>
<stop offset="0.7526" stop-color="#41049d"/>
<stop offset="0.7631" stop-color="#2f0596"/>
<stop offset="0.8153" stop-color="#16078a"/>
<stop offset="0.8479" stop-color="#240691"/>
<stop offset="0.8757" stop-color="#130789"/>
<stop offset="1.0000" stop-color="#100788"/>
</linearGradient>
<linearGradient id="hc10" gradientUnits="userSpaceOnUse" x1="0" y1="291.2" x2="0" y2="721.7">
<stop offset="0.0000" stop-color="#100788"/>
<stop offset="0.1684" stop-color="#100788"/>
<stop offset="0.1986" stop-color="#240691"/>
<stop offset="0.2276" stop-color="#16078a"/>
<stop offset="0.2787" stop-color="#2e0595"/>
<stop offset="0.2904" stop-color="#41049d"/>
<stop offset="0.2962" stop-color="#6400a7"/>
<stop offset="0.2985" stop-color="#8606a6"/>
<stop offset="0.2997" stop-color="#a21d9a"/>
<stop offset="0.3020" stop-color="#e56a5d"/>
<stop offset="0.3031" stop-color="#d9586a"/>
<stop offset="0.3043" stop-color="#b6308b"/>
<stop offset="0.3055" stop-color="#9c179e"/>
<stop offset="0.3078" stop-color="#8305a7"/>
<stop offset="0.3101" stop-color="#7801a8"/>
<stop offset="0.3240" stop-color="#6e00a8"/>
<stop offset="0.3368" stop-color="#7801a8"/>
<stop offset="0.3426" stop-color="#8d0ba5"/>
<stop offset="0.3542" stop-color="#c33d80"/>
<stop offset="0.3589" stop-color="#c7427c"/>
<stop offset="0.3600" stop-color="#cf4c74"/>
<stop offset="0.3647" stop-color="#bb3488"/>
<stop offset="0.3740" stop-color="#6600a7"/>
<stop offset="0.3786" stop-color="#41049d"/>
<stop offset="0.3856" stop-color="#240691"/>
<stop offset="0.3949" stop-color="#16078a"/>
<stop offset="0.6551" stop-color="#19068c"/>
<stop offset="0.6620" stop-color="#260591"/>
<stop offset="0.6678" stop-color="#41049d"/>
<stop offset="0.6725" stop-color="#6600a7"/>
<stop offset="0.6818" stop-color="#b83289"/>
<stop offset="0.6864" stop-color="#cc4778"/>
<stop offset="0.6876" stop-color="#c33d80"/>
<stop offset="0.6922" stop-color="#bf3984"/>
<stop offset="0.7038" stop-color="#8808a6"/>
<stop offset="0.7096" stop-color="#7501a8"/>
<stop offset="0.7213" stop-color="#6c00a8"/>
<stop offset="0.7352" stop-color="#7401a8"/>
<stop offset="0.7398" stop-color="#8b0aa5"/>
<stop offset="0.7410" stop-color="#9d189d"/>
<stop offset="0.7422" stop-color="#ba3388"/>
<stop offset="0.7433" stop-color="#da5b69"/>
<stop offset="0.7445" stop-color="#de5f65"/>
<stop offset="0.7468" stop-color="#9814a0"/>
<stop offset="0.7480" stop-color="#7e03a8"/>
<stop offset="0.7503" stop-color="#6001a6"/>
<stop offset="0.7561" stop-color="#3f049c"/>
<stop offset="0.7654" stop-color="#2f0596"/>
<stop offset="0.8165" stop-color="#16078a"/>
<stop offset="0.8479" stop-color="#240691"/>
<stop offset="0.8757" stop-color="#130789"/>
<stop offset="1.0000" stop-color="#100788"/>
</linearGradient>
<linearGradient id="hc11" gradientUnits="userSpaceOnUse" x1="0" y1="291.2" x2="0" y2="721.7">
<stop offset="0.0000" stop-color="#100788"/>
<stop offset="0.1684" stop-color="#130789"/>
<stop offset="0.1986" stop-color="#240691"/>
<stop offset="0.2276" stop-color="#19068c"/>
<stop offset="0.2787" stop-color="#350498"/>
<stop offset="0.2869" stop-color="#4c02a1"/>
<stop offset="0.2892" stop-color="#5c01a6"/>
<stop offset="0.2915" stop-color="#7a02a8"/>
<stop offset="0.2927" stop-color="#9a169f"/>
<stop offset="0.2938" stop-color="#de6164"/>
<stop offset="0.2950" stop-color="#f0f921"/>
<stop offset="0.2962" stop-color="#da5b69"/>
<stop offset="0.2973" stop-color="#9e199d"/>
<stop offset="0.2985" stop-color="#8606a6"/>
<stop offset="0.2997" stop-color="#7b02a8"/>
<stop offset="0.3043" stop-color="#6e00a8"/>
<stop offset="0.3171" stop-color="#6900a8"/>
<stop offset="0.3275" stop-color="#7100a8"/>
<stop offset="0.3438" stop-color="#a31e9a"/>
<stop offset="0.3496" stop-color="#a82296"/>
<stop offset="0.3508" stop-color="#b32c8e"/>
<stop offset="0.3554" stop-color="#a11b9b"/>
<stop offset="0.3647" stop-color="#5b01a5"/>
<stop offset="0.3693" stop-color="#3c049b"/>
<stop offset="0.3751" stop-color="#260591"/>
<stop offset="0.3833" stop-color="#19068c"/>
<stop offset="0.6632" stop-color="#19068c"/>
<stop offset="0.6713" stop-color="#260591"/>
<stop offset="0.6771" stop-color="#3c049b"/>
<stop offset="0.6911" stop-color="#9e199d"/>
<stop offset="0.6957" stop-color="#b12a90"/>
<stop offset="0.6969" stop-color="#a51f99"/>
<stop offset="0.7015" stop-color="#a11b9b"/>
<stop offset="0.7131" stop-color="#7b02a8"/>
<stop offset="0.7201" stop-color="#6c00a8"/>
<stop offset="0.7364" stop-color="#6700a8"/>
<stop offset="0.7456" stop-color="#7201a8"/>
<stop offset="0.7480" stop-color="#8606a6"/>
<stop offset="0.7491" stop-color="#a31e9a"/>
<stop offset="0.7503" stop-color="#e97158"/>
<stop offset="0.7515" stop-color="#f0f921"/>
<stop offset="0.7526" stop-color="#ca457a"/>
<stop offset="0.7538" stop-color="#8e0ca4"/>
<stop offset="0.7549" stop-color="#7401a8"/>
<stop offset="0.7573" stop-color="#5801a4"/>
<stop offset="0.7607" stop-color="#44039e"/>
<stop offset="0.7654" stop-color="#370499"/>
<stop offset="0.7840" stop-color="#260591"/>
<stop offset="0.8165" stop-color="#19068c"/>
<stop offset="0.8479" stop-color="#240691"/>
<stop offset="0.8757" stop-color="#130789"/>
<stop offset="1.0000" stop-color="#100788"/>
</linearGradient>
<linearGradient id="hc12" gradientUnits="userSpaceOnUse" x1="0" y1="291.2" x2="0" y2="721.7">
<stop offset="0.0000" stop-color="#100788"/>
<stop offset="0.1684" stop-color="#130789"/>
<stop offset="0.1986" stop-color="#240691"/>
<stop offset="0.2276" stop-color="#19068c"/>
<stop offset="0.2764" stop-color="#350498"/>
<stop offset="0.2846" stop-color="#4e02a2"/>
<stop offset="0.2869" stop-color="#6001a6"/>
<stop offset="0.2892" stop-color="#8305a7"/>
<stop offset="0.2904" stop-color="#ab2494"/>
<stop offset="0.2915" stop-color="#f68d45"/>
<stop offset="0.2927" stop-color="#f0f921"/>
<stop offset="0.2950" stop-color="#ae2892"/>
<stop offset="0.2962" stop-color="#8e0ca4"/>
<stop offset="0.2985" stop-color="#7801a8"/>
<stop offset="0.3031" stop-color="#6e00a8"/>
<stop offset="0.3252" stop-color="#7100a8"/>
<stop offset="0.3415" stop-color="#a01a9c"/>
<stop offset="0.3473" stop-color="#a51f99"/>
<stop offset="0.3484" stop-color="#b02991"/>
<stop offset="0.3531" stop-color="#9d189d"/>
<stop offset="0.3670" stop-color="#3c049b"/>
<stop offset="0.3728" stop-color="#260591"/>
<stop offset="0.3810" stop-color="#19068c"/>
<stop offset="0.6655" stop-color="#19068c"/>
<stop offset="0.6736" stop-color="#260591"/>
<stop offset="0.6794" stop-color="#3c049b"/>
<stop offset="0.6934" stop-color="#9c179e"/>
<stop offset="0.6980" stop-color="#ac2694"/>
<stop offset="0.6992" stop-color="#a11b9b"/>
<stop offset="0.7038" stop-color="#9e199d"/>
<stop offset="0.7224" stop-color="#6c00a8"/>
<stop offset="0.7387" stop-color="#6700a8"/>
<stop offset="0.7480" stop-color="#7701a8"/>
<stop offset="0.7503" stop-color="#8f0da4"/>
<stop offset="0.7515" stop-color="#b42e8d"/>
<stop offset="0.7526" stop-color="#fca835"/>
<stop offset="0.7538" stop-color="#f0f921"/>
<stop offset="0.7549" stop-color="#e16462"/>
<stop offset="0.7561" stop-color="#9d189d"/>
<stop offset="0.7573" stop-color="#7b02a8"/>
<stop offset="0.7607" stop-color="#5102a3"/>
<stop offset="0.7677" stop-color="#370499"/>
<stop offset="0.7863" stop-color="#260591"/>
<stop offset="0.8177" stop-color="#19068c"/>
<stop offset="0.8479" stop-color="#240691"/>
<stop offset="0.8769" stop-color="#130789"/>
<stop offset="1.0000" stop-color="#100788"/>
</linearGradient>
<linearGradient id="hc13" gradientUnits="userSpaceOnUse" x1="0" y1="291.2" x2="0" y2="721.7">
<stop offset="0.0000" stop-color="#100788"/>
<stop offset="0.1684" stop-color="#130789"/>
<stop offset="0.1986" stop-color="#240691"/>
<stop offset="0.2276" stop-color="#19068c"/>
<stop offset="0.2787" stop-color="#350498"/>
<stop offset="0.2869" stop-color="#4c02a1"/>
<stop offset="0.2892" stop-color="#5c01a6"/>
<stop offset="0.2915" stop-color="#7a02a8"/>
<stop offset="0.2927" stop-color="#9a169f"/>
<stop offset="0.2938" stop-color="#de6164"/>
<stop offset="0.2950" stop-color="#f0f921"/>
<stop offset="0.2962" stop-color="#da5b69"/>
<stop offset="0.2973" stop-color="#9e199d"/>
<stop offset="0.2985" stop-color="#8606a6"/>
<stop offset="0.2997" stop-color="#7b02a8"/>
<stop offset="0.3043" stop-color="#6e00a8"/>
<stop offset="0.3171" stop-color="#6900a8"/>
<stop offset="0.3275" stop-color="#7100a8"/>
<stop offset="0.3438" stop-color="#a31e9a"/>
<stop offset="0.3496" stop-color="#a82296"/>
<stop offset="0.3508" stop-color="#b32c8e"/>
<stop offset="0.3554" stop-color="#a11b9b"/>
<stop offset="0.3647" stop-color="#5b01a5"/>
<stop offset="0.3693" stop-color="#3c049b"/>
<stop offset="0.3751" stop-color="#260591"/>
<stop offset="0.3833" stop-color="#19068c"/>
<stop offset="0.6632" stop-color="#19068c"/>
<stop offset="0.6713" stop-color="#260591"/>
<stop offset="0.6771" stop-color="#3c049b"/>
<stop offset="0.6911" stop-color="#9e199d"/>
<stop offset="0.6957" stop-color="#b12a90"/>
<stop offset="0.6969" stop-color="#a51f99"/>
<stop offset="0.7015" stop-color="#a11b9b"/>
<stop offset="0.7131" stop-color="#7b02a8"/>
<stop offset="0.7201" stop-color="#6c00a8"/>
<stop offset="0.7364" stop-color="#6700a8"/>
<stop offset="0.7456" stop-color="#7201a8"/>
<stop offset="0.7480" stop-color="#8606a6"/>
<stop offset="0.7491" stop-color="#a31e9a"/>
<stop offset="0.7503" stop-color="#e97158"/>
<stop offset="0.7515" stop-color="#f0f921"/>
<stop offset="0.7526" stop-color="#ca457a"/>
<stop offset="0.7538" stop-color="#8e0ca4"/>
<stop offset="0.7549" stop-color="#7401a8"/>
<stop offset="0.7573" stop-color="#5801a4"/>
<stop offset="0.7607" stop-color="#44039e"/>
<stop offset="0.7654" stop-color="#370499"/>
<stop offset="0.7840" stop-color="#260591"/>
<stop offset="0.8165" stop-color="#19068c"/>
<stop offset="0.8479" stop-color="#240691"/>
<stop offset="0.8757" stop-color="#130789"/>
<stop offset="1.0000" stop-color="#100788"/>
</linearGradient>
<linearGradient id="hc14" gradientUnits="userSpaceOnUse" x1="0" y1="291.2" x2="0" y2="721.7">
<stop offset="0.0000" stop-color="#100788"/>
<stop offset="0.1684" stop-color="#100788"/>
<stop offset="0.1986" stop-color="#240691"/>
<stop offset="0.2276" stop-color="#16078a"/>
<stop offset="0.2787" stop-color="#2e0595"/>
<stop offset="0.2904" stop-color="#41049d"/>
<stop offset="0.2962" stop-color="#6400a7"/>
<stop offset="0.2985" stop-color="#8606a6"/>
<stop offset="0.2997" stop-color="#a21d9a"/>
<stop offset="0.3020" stop-color="#e56a5d"/>
<stop offset="0.3031" stop-color="#d9586a"/>
<stop offset="0.3043" stop-color="#b6308b"/>
<stop offset="0.3055" stop-color="#9c179e"/>
<stop offset="0.3078" stop-color="#8305a7"/>
<stop offset="0.3101" stop-color="#7801a8"/>
<stop offset="0.3240" stop-color="#6e00a8"/>
<stop offset="0.3368" stop-color="#7801a8"/>
<stop offset="0.3426" stop-color="#8d0ba5"/>
<stop offset="0.3542" stop-color="#c33d80"/>
<stop offset="0.3589" stop-color="#c7427c"/>
<stop offset="0.3600" stop-color="#cf4c74"/>
<stop offset="0.3647" stop-color="#bb3488"/>
<stop offset="0.3740" stop-color="#6600a7"/>
<stop offset="0.3786" stop-color="#41049d"/>
<stop offset="0.3856" stop-color="#240691"/>
<stop offset="0.3949" stop-color="#16078a"/>
<stop offset="0.6551" stop-color="#19068c"/>
<stop offset="0.6620" stop-color="#260591"/>
<stop offset="0.6678" stop-color="#41049d"/>
<stop offset="0.6725" stop-color="#6600a7"/>
<stop offset="0.6818" stop-color="#b83289"/>
<stop offset="0.6864" stop-color="#cc4778"/>
<stop offset="0.6876" stop-color="#c33d80"/>
<stop offset="0.6922" stop-color="#bf3984"/>
<stop offset="0.7038" stop-color="#8808a6"/>
<stop offset="0.7096" stop-color="#7501a8"/>
<stop offset="0.7213" stop-color="#6c00a8"/>
<stop offset="0.7352" stop-color="#7401a8"/>
<stop offset="0.7398" stop-color="#8b0aa5"/>
<stop offset="0.7410" stop-color="#9d189d"/>
<stop offset="0.7422" stop-color="#ba3388"/>
<stop offset="0.7433" stop-color="#da5b69"/>
<stop offset="0.7445" stop-color="#de5f65"/>
<stop offset="0.7468" stop-color="#9814a0"/>
<stop offset="0.7480" stop-color="#7e03a8"/>
<stop offset="0.7503" stop-color="#6001a6"/>
<stop offset="0.7561" stop-color="#3f049c"/>
<stop offset="0.7654" stop-color="#2f0596"/>
<stop offset="0.8165" stop-color="#16078a"/>
<stop offset="0.8479" stop-color="#240691"/>
<stop offset="0.8757" stop-color="#130789"/>
<stop offset="1.0000" stop-color="#100788"/>
</linearGradient>
<linearGradient id="hc15" gradientUnits="userSpaceOnUse" x1="0" y1="291.2" x2="0" y2="721.7">
<stop offset="0.0000" stop-color="#100788"/>
<stop offset="0.1684" stop-color="#100788"/>
<stop offset="0.1986" stop-color="#240691"/>
<stop offset="0.2288" stop-color="#16078a"/>
<stop offset="0.2811" stop-color="#2e0595"/>
<stop offset="0.2927" stop-color="#3f049c"/>
<stop offset="0.2985" stop-color="#5c01a6"/>
<stop offset="0.3020" stop-color="#8a09a5"/>
<stop offset="0.3031" stop-color="#a51f99"/>
<stop offset="0.3055" stop-color="#de5f65"/>
<stop offset="0.3066" stop-color="#d5536f"/>
<stop offset="0.3078" stop-color="#b83289"/>
<stop offset="0.3089" stop-color="#a01a9c"/>
<stop offset="0.3113" stop-color="#8606a6"/>
<stop offset="0.3159" stop-color="#7501a8"/>
<stop offset="0.3252" stop-color="#6f00a8"/>
<stop offset="0.3357" stop-color="#7201a8"/>
<stop offset="0.3426" stop-color="#8104a7"/>
<stop offset="0.3473" stop-color="#9613a1"/>
<stop offset="0.3566" stop-color="#c9447a"/>
<stop offset="0.3624" stop-color="#d35171"/>
<stop offset="0.3635" stop-color="#da5b69"/>
<stop offset="0.3682" stop-color="#c8437b"/>
<stop offset="0.3775" stop-color="#6f00a8"/>
<stop offset="0.3833" stop-color="#3f049c"/>
<stop offset="0.3902" stop-color="#220690"/>
<stop offset="0.3995" stop-color="#16078a"/>
<stop offset="0.6504" stop-color="#19068c"/>
<stop offset="0.6585" stop-color="#280592"/>
<stop offset="0.6643" stop-color="#46039f"/>
<stop offset="0.6690" stop-color="#6f00a8"/>
<stop offset="0.6783" stop-color="#c6417d"/>
<stop offset="0.6829" stop-color="#d7566c"/>
<stop offset="0.6841" stop-color="#cf4c74"/>
<stop offset="0.6887" stop-color="#c9447a"/>
<stop offset="0.6992" stop-color="#920fa3"/>
<stop offset="0.7038" stop-color="#7d03a8"/>
<stop offset="0.7096" stop-color="#7100a8"/>
<stop offset="0.7189" stop-color="#6c00a8"/>
<stop offset="0.7294" stop-color="#7100a8"/>
<stop offset="0.7340" stop-color="#7d03a8"/>
<stop offset="0.7364" stop-color="#8e0ca4"/>
<stop offset="0.7375" stop-color="#a01a9c"/>
<stop offset="0.7398" stop-color="#d5546e"/>
<stop offset="0.7410" stop-color="#d8576b"/>
<stop offset="0.7433" stop-color="#9c179e"/>
<stop offset="0.7445" stop-color="#8305a7"/>
<stop offset="0.7468" stop-color="#6300a7"/>
<stop offset="0.7526" stop-color="#41049d"/>
<stop offset="0.7631" stop-color="#2f0596"/>
<stop offset="0.8153" stop-color="#16078a"/>
<stop offset="0.8479" stop-color="#240691"/>
<stop offset="0.8757" stop-color="#130789"/>
<stop offset="1.0000" stop-color="#100788"/>
</linearGradient>
<linearGradient id="hc16" gradientUnits="userSpaceOnUse" x1="0" y1="291.2" x2="0" y2="721.7">
<stop offset="0.0000" stop-color="#100788"/>
<stop offset="0.1684" stop-color="#100788"/>
<stop offset="0.1986" stop-color="#240691"/>
<stop offset="0.2276" stop-color="#16078a"/>
<stop offset="0.2787" stop-color="#2e0595"/>
<stop offset="0.2904" stop-color="#41049d"/>
<stop offset="0.2962" stop-color="#6400a7"/>
<stop offset="0.2985" stop-color="#8606a6"/>
<stop offset="0.2997" stop-color="#a21d9a"/>
<stop offset="0.3020" stop-color="#e56a5d"/>
<stop offset="0.3031" stop-color="#d9586a"/>
<stop offset="0.3043" stop-color="#b6308b"/>
<stop offset="0.3055" stop-color="#9c179e"/>
<stop offset="0.3078" stop-color="#8305a7"/>
<stop offset="0.3101" stop-color="#7801a8"/>
<stop offset="0.3240" stop-color="#6e00a8"/>
<stop offset="0.3368" stop-color="#7801a8"/>
<stop offset="0.3426" stop-color="#8d0ba5"/>
<stop offset="0.3542" stop-color="#c33d80"/>
<stop offset="0.3589" stop-color="#c7427c"/>
<stop offset="0.3600" stop-color="#cf4c74"/>
<stop offset="0.3647" stop-color="#bb3488"/>
<stop offset="0.3740" stop-color="#6600a7"/>
<stop offset="0.3786" stop-color="#41049d"/>
<stop offset="0.3856" stop-color="#240691"/>
<stop offset="0.3949" stop-color="#16078a"/>
<stop offset="0.6551" stop-color="#19068c"/>
<stop offset="0.6620" stop-color="#260591"/>
<stop offset="0.6678" stop-color="#41049d"/>
<stop offset="0.6725" stop-color="#6600a7"/>
<stop offset="0.6818" stop-color="#b83289"/>
<stop offset="0.6864" stop-color="#cc4778"/>
<stop offset="0.6876" stop-color="#c33d80"/>
<stop offset="0.6922" stop-color="#bf3984"/>
<stop offset="0.7038" stop-color="#8808a6"/>
<stop offset="0.7096" stop-color="#7501a8"/>
<stop offset="0.7213" stop-color="#6c00a8"/>
<stop offset="0.7352" stop-color="#7401a8"/>
<stop offset="0.7398" stop-color="#8b0aa5"/>
<stop offset="0.7410" stop-color="#9d189d"/>
<stop offset="0.7422" stop-color="#ba3388"/>
<stop offset="0.7433" stop-color="#da5b69"/>
<stop offset="0.7445" stop-color="#de5f65"/>
<stop offset="0.7468" stop-color="#9814a0"/>
<stop offset="0.7480" stop-color="#7e03a8"/>
<stop offset="0.7503" stop-color="#6001a6"/>
<stop offset="0.7561" stop-color="#3f049c"/>
<stop offset="0.7654" stop-color="#2f0596"/>
<stop offset="0.8165" stop-color="#16078a"/>
<stop offset="0.8479" stop-color="#240691"/>
<stop offset="0.8757" stop-color="#130789"/>
<stop offset="1.0000" stop-color="#100788"/>
</linearGradient>
<linearGradient id="hc17" gradientUnits="userSpaceOnUse" x1="0" y1="291.2" x2="0" y2="721.7">
<stop offset="0.0000" stop-color="#100788"/>
<stop offset="0.1684" stop-color="#130789"/>
<stop offset="0.1986" stop-color="#240691"/>
<stop offset="0.2276" stop-color="#19068c"/>
<stop offset="0.2787" stop-color="#350498"/>
<stop offset="0.2869" stop-color="#4c02a1"/>
<stop offset="0.2892" stop-color="#5c01a6"/>
<stop offset="0.2915" stop-color="#7a02a8"/>
<stop offset="0.2927" stop-color="#9a169f"/>
<stop offset="0.2938" stop-color="#de6164"/>
<stop offset="0.2950" stop-color="#f0f921"/>
<stop offset="0.2962" stop-color="#da5b69"/>
<stop offset="0.2973" stop-color="#9e199d"/>
<stop offset="0.2985" stop-color="#8606a6"/>
<stop offset="0.2997" stop-color="#7b02a8"/>
<stop offset="0.3043" stop-color="#6e00a8"/>
<stop offset="0.3171" stop-color="#6900a8"/>
<stop offset="0.3275" stop-color="#7100a8"/>
<stop offset="0.3438" stop-color="#a31e9a"/>
<stop offset="0.3496" stop-color="#a82296"/>
<stop offset="0.3508" stop-color="#b32c8e"/>
<stop offset="0.3554" stop-color="#a11b9b"/>
<stop offset="0.3647" stop-color="#5b01a5"/>
<stop offset="0.3693" stop-color="#3c049b"/>
<stop offset="0.3751" stop-color="#260591"/>
<stop offset="0.3833" stop-color="#19068c"/>
<stop offset="0.6632" stop-color="#19068c"/>
<stop offset="0.6713" stop-color="#260591"/>
<stop offset="0.6771" stop-color="#3c049b"/>
<stop offset="0.6911" stop-color="#9e199d"/>
<stop offset="0.6957" stop-color="#b12a90"/>
<stop offset="0.6969" stop-color="#a51f99"/>
<stop offset="0.7015" stop-color="#a11b9b"/>
<stop offset="0.7131" stop-color="#7b02a8"/>
<stop offset="0.7201" stop-color="#6c00a8"/>
<stop offset="0.7364" stop-color="#6700a8"/>
<stop offset="0.7456" stop-color="#7201a8"/>
<stop offset="0.7480" stop-color="#8606a6"/>
<stop offset="0.7491" stop-color="#a31e9a"/>
<stop offset="0.7503" stop-color="#e97158"/>
<stop offset="0.7515" stop-color="#f0f921"/>
<stop offset="0.7526" stop-color="#ca457a"/>
<stop offset="0.7538" stop-color="#8e0ca4"/>
<stop offset="0.7549" stop-color="#7401a8"/>
<stop offset="0.7573" stop-color="#5801a4"/>
<stop offset="0.7607" stop-color="#44039e"/>
<stop offset="0.7654" stop-color="#370499"/>
<stop offset="0.7840" stop-color="#260591"/>
<stop offset="0.8165" stop-color="#19068c"/>
<stop offset="0.8479" stop-color="#240691"/>
<stop offset="0.8757" stop-color="#130789"/>
<stop offset="1.0000" stop-color="#100788"/>
</linearGradient>
<linearGradient id="hc18" gradientUnits="userSpaceOnUse" x1="0" y1="291.2" x2="0" y2="721.7">
<stop offset="0.0000" stop-color="#100788"/>
<stop offset="0.1684" stop-color="#130789"/>
<stop offset="0.1986" stop-color="#240691"/>
<stop offset="0.2276" stop-color="#19068c"/>
<stop offset="0.2764" stop-color="#350498"/>
<stop offset="0.2846" stop-color="#4e02a2"/>
<stop offset="0.2869" stop-color="#6001a6"/>
<stop offset="0.2892" stop-color="#8305a7"/>
<stop offset="0.2904" stop-color="#ab2494"/>
<stop offset="0.2915" stop-color="#f68d45"/>
<stop offset="0.2927" stop-color="#f0f921"/>
<stop offset="0.2950" stop-color="#ae2892"/>
<stop offset="0.2962" stop-color="#8e0ca4"/>
<stop offset="0.2985" stop-color="#7801a8"/>
<stop offset="0.3031" stop-color="#6e00a8"/>
<stop offset="0.3252" stop-color="#7100a8"/>
<stop offset="0.3415" stop-color="#a01a9c"/>
<stop offset="0.3473" stop-color="#a51f99"/>
<stop offset="0.3484" stop-color="#b02991"/>
<stop offset="0.3531" stop-color="#9d189d"/>
<stop offset="0.3670" stop-color="#3c049b"/>
<stop offset="0.3728" stop-color="#260591"/>
<stop offset="0.3810" stop-color="#19068c"/>
<stop offset="0.6655" stop-color="#19068c"/>
<stop offset="0.6736" stop-color="#260591"/>
<stop offset="0.6794" stop-color="#3c049b"/>
<stop offset="0.6934" stop-color="#9c179e"/>
<stop offset="0.6980" stop-color="#ac2694"/>
<stop offset="0.6992" stop-color="#a11b9b"/>
<stop offset="0.7038" stop-color="#9e199d"/>
<stop offset="0.7224" stop-color="#6c00a8"/>
<stop offset="0.7387" stop-color="#6700a8"/>
<stop offset="0.7480" stop-color="#7701a8"/>
<stop offset="0.7503" stop-color="#8f0da4"/>
<stop offset="0.7515" stop-color="#b42e8d"/>
<stop offset="0.7526" stop-color="#fca835"/>
<stop offset="0.7538" stop-color="#f0f921"/>
<stop offset="0.7549" stop-color="#e16462"/>
<stop offset="0.7561" stop-color="#9d189d"/>
<stop offset="0.7573" stop-color="#7b02a8"/>
<stop offset="0.7607" stop-color="#5102a3"/>
<stop offset="0.7677" stop-color="#370499"/>
<stop offset="0.7863" stop-color="#260591"/>
<stop offset="0.8177" stop-color="#19068c"/>
<stop offset="0.8479" stop-color="#240691"/>
<stop offset="0.8769" stop-color="#130789"/>
<stop offset="1.0000" stop-color="#100788"/>
</linearGradient>
<linearGradient id="hc19" gradientUnits="userSpaceOnUse" x1="0" y1="291.2" x2="0" y2="721.7">
<stop offset="0.0000" stop-color="#100788"/>
<stop offset="0.1684" stop-color="#130789"/>
<stop offset="0.1986" stop-color="#240691"/>
<stop offset="0.2288" stop-color="#19068c"/>
<stop offset="0.2822" stop-color="#350498"/>
<stop offset="0.2904" stop-color="#4e02a2"/>
<stop offset="0.2927" stop-color="#6001a6"/>
<stop offset="0.2950" stop-color="#8004a8"/>
<stop offset="0.2962" stop-color="#a72197"/>
<stop offset="0.2973" stop-color="#f58c46"/>
<stop offset="0.2985" stop-color="#f1f525"/>
<stop offset="0.2997" stop-color="#c7427c"/>
<stop offset="0.3008" stop-color="#9613a1"/>
<stop offset="0.3020" stop-color="#8305a7"/>
<stop offset="0.3031" stop-color="#7801a8"/>
<stop offset="0.3078" stop-color="#6c00a8"/>
<stop offset="0.3206" stop-color="#6a00a8"/>
<stop offset="0.3298" stop-color="#7501a8"/>
<stop offset="0.3473" stop-color="#b12a90"/>
<stop offset="0.3531" stop-color="#b7318a"/>
<stop offset="0.3542" stop-color="#c23c81"/>
<stop offset="0.3589" stop-color="#b22b8f"/>
<stop offset="0.3693" stop-color="#6300a7"/>
<stop offset="0.3740" stop-color="#43039e"/>
<stop offset="0.3810" stop-color="#260591"/>
<stop offset="0.3891" stop-color="#19068c"/>
<stop offset="0.6574" stop-color="#19068c"/>
<stop offset="0.6655" stop-color="#260591"/>
<stop offset="0.6725" stop-color="#43039e"/>
<stop offset="0.6864" stop-color="#aa2395"/>
<stop offset="0.6922" stop-color="#be3885"/>
<stop offset="0.6934" stop-color="#b42e8d"/>
<stop offset="0.6992" stop-color="#ad2793"/>
<stop offset="0.7108" stop-color="#8104a7"/>
<stop offset="0.7178" stop-color="#6f00a8"/>
<stop offset="0.7329" stop-color="#6700a8"/>
<stop offset="0.7422" stop-color="#7201a8"/>
<stop offset="0.7445" stop-color="#8104a7"/>
<stop offset="0.7456" stop-color="#99159f"/>
<stop offset="0.7468" stop-color="#d35171"/>
<stop offset="0.7480" stop-color="#f0f921"/>
<stop offset="0.7491" stop-color="#e06363"/>
<stop offset="0.7503" stop-color="#99159f"/>
<stop offset="0.7515" stop-color="#7801a8"/>
<stop offset="0.7549" stop-color="#5102a3"/>
<stop offset="0.7619" stop-color="#370499"/>
<stop offset="0.7816" stop-color="#240691"/>
<stop offset="0.8153" stop-color="#19068c"/>
<stop offset="0.8479" stop-color="#240691"/>
<stop offset="0.8757" stop-color="#130789"/>
<stop offset="1.0000" stop-color="#100788"/>
</linearGradient>
<linearGradient id="hc20" gradientUnits="userSpaceOnUse" x1="0" y1="291.2" x2="0" y2="721.7">
<stop offset="0.0000" stop-color="#100788"/>
<stop offset="0.1684" stop-color="#100788"/>
<stop offset="0.1986" stop-color="#240691"/>
<stop offset="0.2311" stop-color="#16078a"/>
<stop offset="0.2880" stop-color="#2e0595"/>
<stop offset="0.2997" stop-color="#3e049c"/>
<stop offset="0.3055" stop-color="#5801a4"/>
<stop offset="0.3089" stop-color="#8004a8"/>
<stop offset="0.3101" stop-color="#9613a1"/>
<stop offset="0.3124" stop-color="#d5546e"/>
<stop offset="0.3136" stop-color="#de5f65"/>
<stop offset="0.3159" stop-color="#ab2494"/>
<stop offset="0.3182" stop-color="#8a09a5"/>
<stop offset="0.3229" stop-color="#7501a8"/>
<stop offset="0.3310" stop-color="#6f00a8"/>
<stop offset="0.3415" stop-color="#7201a8"/>
<stop offset="0.3496" stop-color="#8104a7"/>
<stop offset="0.3659" stop-color="#c9447a"/>
<stop offset="0.3717" stop-color="#d04d73"/>
<stop offset="0.3728" stop-color="#d9586a"/>
<stop offset="0.3775" stop-color="#c9447a"/>
<stop offset="0.3879" stop-color="#7201a8"/>
<stop offset="0.3937" stop-color="#44039e"/>
<stop offset="0.4007" stop-color="#260591"/>
<stop offset="0.4111" stop-color="#16078a"/>
<stop offset="0.6388" stop-color="#19068c"/>
<stop offset="0.6469" stop-color="#2a0593"/>
<stop offset="0.6527" stop-color="#44039e"/>
<stop offset="0.6585" stop-color="#7201a8"/>
<stop offset="0.6678" stop-color="#c13b82"/>
<stop offset="0.6736" stop-color="#d5546e"/>
<stop offset="0.6748" stop-color="#cc4977"/>
<stop offset="0.6806" stop-color="#c43e7f"/>
<stop offset="0.6911" stop-color="#9511a1"/>
<stop offset="0.6969" stop-color="#7e03a8"/>
<stop offset="0.7050" stop-color="#6f00a8"/>
<stop offset="0.7154" stop-color="#6c00a8"/>
<stop offset="0.7236" stop-color="#7401a8"/>
<stop offset="0.7282" stop-color="#8808a6"/>
<stop offset="0.7305" stop-color="#ac2694"/>
<stop offset="0.7329" stop-color="#db5c68"/>
<stop offset="0.7340" stop-color="#cc4977"/>
<stop offset="0.7352" stop-color="#ac2694"/>
<stop offset="0.7364" stop-color="#8e0ca4"/>
<stop offset="0.7375" stop-color="#7801a8"/>
<stop offset="0.7398" stop-color="#5c01a6"/>
<stop offset="0.7456" stop-color="#3f049c"/>
<stop offset="0.7549" stop-color="#2f0596"/>
<stop offset="0.8130" stop-color="#16078a"/>
<stop offset="0.8479" stop-color="#220690"/>
<stop offset="0.8757" stop-color="#100788"/>
<stop offset="1.0000" stop-color="#100788"/>
</linearGradient>
<linearGradient id="hc21" gradientUnits="userSpaceOnUse" x1="0" y1="291.2" x2="0" y2="721.7">
<stop offset="0.0000" stop-color="#100788"/>
<stop offset="0.1696" stop-color="#100788"/>
<stop offset="0.1986" stop-color="#220690"/>
<stop offset="0.2474" stop-color="#130789"/>
<stop offset="0.3159" stop-color="#2a0593"/>
<stop offset="0.3287" stop-color="#3a049a"/>
<stop offset="0.3357" stop-color="#5c01a6"/>
<stop offset="0.3380" stop-color="#7b02a8"/>
<stop offset="0.3391" stop-color="#99159f"/>
<stop offset="0.3403" stop-color="#c6417d"/>
<stop offset="0.3415" stop-color="#de6164"/>
<stop offset="0.3438" stop-color="#99159f"/>
<stop offset="0.3449" stop-color="#8405a7"/>
<stop offset="0.3473" stop-color="#7201a8"/>
<stop offset="0.3566" stop-color="#6400a7"/>
<stop offset="0.3763" stop-color="#6400a7"/>
<stop offset="0.3833" stop-color="#6a00a8"/>
<stop offset="0.3891" stop-color="#8104a7"/>
<stop offset="0.3937" stop-color="#a11b9b"/>
<stop offset="0.4019" stop-color="#d6556d"/>
<stop offset="0.4065" stop-color="#e16462"/>
<stop offset="0.4077" stop-color="#e87059"/>
<stop offset="0.4123" stop-color="#d5546e"/>
<stop offset="0.4216" stop-color="#7401a8"/>
<stop offset="0.4262" stop-color="#46039f"/>
<stop offset="0.4321" stop-color="#280592"/>
<stop offset="0.4413" stop-color="#16078a"/>
<stop offset="0.5761" stop-color="#100788"/>
<stop offset="0.6109" stop-color="#1d068e"/>
<stop offset="0.6167" stop-color="#310597"/>
<stop offset="0.6214" stop-color="#5002a2"/>
<stop offset="0.6260" stop-color="#8104a7"/>
<stop offset="0.6341" stop-color="#d45270"/>
<stop offset="0.6388" stop-color="#e56a5d"/>
<stop offset="0.6400" stop-color="#dd5e66"/>
<stop offset="0.6446" stop-color="#d24f71"/>
<stop offset="0.6527" stop-color="#9c179e"/>
<stop offset="0.6574" stop-color="#7d03a8"/>
<stop offset="0.6632" stop-color="#6900a8"/>
<stop offset="0.6702" stop-color="#6100a7"/>
<stop offset="0.6899" stop-color="#6300a7"/>
<stop offset="0.6992" stop-color="#7100a8"/>
<stop offset="0.7015" stop-color="#8405a7"/>
<stop offset="0.7027" stop-color="#9c179e"/>
<stop offset="0.7038" stop-color="#c43e7f"/>
<stop offset="0.7050" stop-color="#da5b69"/>
<stop offset="0.7073" stop-color="#8e0ca4"/>
<stop offset="0.7085" stop-color="#7401a8"/>
<stop offset="0.7108" stop-color="#5801a4"/>
<stop offset="0.7166" stop-color="#3a049a"/>
<stop offset="0.7282" stop-color="#2a0593"/>
<stop offset="0.7921" stop-color="#130789"/>
<stop offset="0.8479" stop-color="#220690"/>
<stop offset="0.8757" stop-color="#100788"/>
<stop offset="1.0000" stop-color="#100788"/>
</linearGradient>
<linearGradient id="hc22" gradientUnits="userSpaceOnUse" x1="0" y1="291.2" x2="0" y2="721.7">
<stop offset="0.0000" stop-color="#100788"/>
<stop offset="0.2706" stop-color="#130789"/>
<stop offset="0.3426" stop-color="#260591"/>
<stop offset="0.3554" stop-color="#310597"/>
<stop offset="0.3624" stop-color="#4e02a2"/>
<stop offset="0.3647" stop-color="#6900a8"/>
<stop offset="0.3659" stop-color="#8a09a5"/>
<stop offset="0.3670" stop-color="#bc3587"/>
<stop offset="0.3682" stop-color="#b12a90"/>
<stop offset="0.3693" stop-color="#8305a7"/>
<stop offset="0.3705" stop-color="#6c00a8"/>
<stop offset="0.3740" stop-color="#5901a5"/>
<stop offset="0.3891" stop-color="#5302a3"/>
<stop offset="0.4158" stop-color="#5c01a6"/>
<stop offset="0.4274" stop-color="#7100a8"/>
<stop offset="0.4309" stop-color="#8104a7"/>
<stop offset="0.4344" stop-color="#9d189d"/>
<stop offset="0.4367" stop-color="#bb3488"/>
<stop offset="0.4379" stop-color="#cd4a76"/>
<stop offset="0.4390" stop-color="#e3685f"/>
<stop offset="0.4402" stop-color="#f89441"/>
<stop offset="0.4413" stop-color="#f9dd25"/>
<stop offset="0.4425" stop-color="#f0f921"/>
<stop offset="0.4495" stop-color="#f0f921"/>
<stop offset="0.4506" stop-color="#febd2a"/>
<stop offset="0.4518" stop-color="#f07f4f"/>
<stop offset="0.4530" stop-color="#d9586a"/>
<stop offset="0.4541" stop-color="#c23c81"/>
<stop offset="0.4564" stop-color="#9a169f"/>
<stop offset="0.4611" stop-color="#6400a7"/>
<stop offset="0.4681" stop-color="#3f049c"/>
<stop offset="0.4762" stop-color="#2c0594"/>
<stop offset="0.4890" stop-color="#220690"/>
<stop offset="0.5645" stop-color="#260591"/>
<stop offset="0.5784" stop-color="#3f049c"/>
<stop offset="0.5830" stop-color="#5502a4"/>
<stop offset="0.5865" stop-color="#6f00a8"/>
<stop offset="0.5900" stop-color="#9a169f"/>
<stop offset="0.5923" stop-color="#c33d80"/>
<stop offset="0.5935" stop-color="#da5a6a"/>
<stop offset="0.5947" stop-color="#f1834c"/>
<stop offset="0.5958" stop-color="#fdc328"/>
<stop offset="0.5970" stop-color="#f0f921"/>
<stop offset="0.6039" stop-color="#f0f921"/>
<stop offset="0.6051" stop-color="#fec029"/>
<stop offset="0.6063" stop-color="#f1814d"/>
<stop offset="0.6074" stop-color="#da5b69"/>
<stop offset="0.6086" stop-color="#c6417d"/>
<stop offset="0.6109" stop-color="#a51f99"/>
<stop offset="0.6132" stop-color="#8d0ba5"/>
<stop offset="0.6167" stop-color="#7701a8"/>
<stop offset="0.6283" stop-color="#5c01a6"/>
<stop offset="0.6551" stop-color="#5102a3"/>
<stop offset="0.6725" stop-color="#5801a4"/>
<stop offset="0.6760" stop-color="#6c00a8"/>
<stop offset="0.6771" stop-color="#8707a6"/>
<stop offset="0.6783" stop-color="#b6308b"/>
<stop offset="0.6794" stop-color="#b02991"/>
<stop offset="0.6806" stop-color="#7e03a8"/>
<stop offset="0.6818" stop-color="#6300a7"/>
<stop offset="0.6841" stop-color="#4b03a1"/>
<stop offset="0.6899" stop-color="#330597"/>
<stop offset="0.7015" stop-color="#260591"/>
<stop offset="0.7689" stop-color="#130789"/>
<stop offset="1.0000" stop-color="#100788"/>
</linearGradient>
<linearGradient id="hc23" gradientUnits="userSpaceOnUse" x1="0" y1="291.2" x2="0" y2="721.7">
<stop offset="0.0000" stop-color="#100788"/>
<stop offset="0.3449" stop-color="#16078a"/>
<stop offset="0.3891" stop-color="#2a0593"/>
<stop offset="0.3949" stop-color="#3a049a"/>
<stop offset="0.4019" stop-color="#6600a7"/>
<stop offset="0.4053" stop-color="#5002a2"/>
<stop offset="0.4111" stop-color="#46039f"/>
<stop offset="0.4413" stop-color="#4c02a1"/>
<stop offset="0.4530" stop-color="#6300a7"/>
<stop offset="0.4564" stop-color="#7401a8"/>
<stop offset="0.4599" stop-color="#9613a1"/>
<stop offset="0.4623" stop-color="#be3885"/>
<stop offset="0.4634" stop-color="#d5546e"/>
<stop offset="0.4646" stop-color="#f0804e"/>
<stop offset="0.4657" stop-color="#fccd25"/>
<stop offset="0.4669" stop-color="#f0f921"/>
<stop offset="0.4739" stop-color="#f0f921"/>
<stop offset="0.4762" stop-color="#e66c5c"/>
<stop offset="0.4774" stop-color="#cc4778"/>
<stop offset="0.4785" stop-color="#b42e8d"/>
<stop offset="0.4820" stop-color="#7d03a8"/>
<stop offset="0.4878" stop-color="#5002a2"/>
<stop offset="0.4983" stop-color="#3a049a"/>
<stop offset="0.5215" stop-color="#44039e"/>
<stop offset="0.5494" stop-color="#3a049a"/>
<stop offset="0.5587" stop-color="#5002a2"/>
<stop offset="0.5645" stop-color="#7d03a8"/>
<stop offset="0.5668" stop-color="#a01a9c"/>
<stop offset="0.5691" stop-color="#cd4a76"/>
<stop offset="0.5703" stop-color="#e87059"/>
<stop offset="0.5726" stop-color="#f0f921"/>
<stop offset="0.5796" stop-color="#f0f921"/>
<stop offset="0.5819" stop-color="#e87059"/>
<stop offset="0.5830" stop-color="#cd4a76"/>
<stop offset="0.5842" stop-color="#b52f8c"/>
<stop offset="0.5865" stop-color="#910ea3"/>
<stop offset="0.5889" stop-color="#7801a8"/>
<stop offset="0.5923" stop-color="#6400a7"/>
<stop offset="0.6039" stop-color="#4b03a1"/>
<stop offset="0.6353" stop-color="#44039e"/>
<stop offset="0.6400" stop-color="#4b03a1"/>
<stop offset="0.6446" stop-color="#6400a7"/>
<stop offset="0.6504" stop-color="#3e049c"/>
<stop offset="0.6562" stop-color="#2c0594"/>
<stop offset="0.6980" stop-color="#16078a"/>
<stop offset="1.0000" stop-color="#100788"/>
</linearGradient>
<linearGradient id="hc24" gradientUnits="userSpaceOnUse" x1="0" y1="291.2" x2="0" y2="721.7">
<stop offset="0.0000" stop-color="#100788"/>
<stop offset="0.3252" stop-color="#16078a"/>
<stop offset="0.3635" stop-color="#20068f"/>
<stop offset="0.3798" stop-color="#370499"/>
<stop offset="0.4506" stop-color="#3f049c"/>
<stop offset="0.4623" stop-color="#5801a4"/>
<stop offset="0.4657" stop-color="#6f00a8"/>
<stop offset="0.4681" stop-color="#8d0ba5"/>
<stop offset="0.4704" stop-color="#bd3786"/>
<stop offset="0.4715" stop-color="#dd5e66"/>
<stop offset="0.4739" stop-color="#f0f921"/>
<stop offset="0.4797" stop-color="#f0f921"/>
<stop offset="0.4820" stop-color="#e26561"/>
<stop offset="0.4832" stop-color="#c33d80"/>
<stop offset="0.4843" stop-color="#a82296"/>
<stop offset="0.4855" stop-color="#920fa3"/>
<stop offset="0.4878" stop-color="#7201a8"/>
<stop offset="0.4913" stop-color="#5801a4"/>
<stop offset="0.4959" stop-color="#48039f"/>
<stop offset="0.5006" stop-color="#44039e"/>
<stop offset="0.5180" stop-color="#6100a7"/>
<stop offset="0.5250" stop-color="#6300a7"/>
<stop offset="0.5482" stop-color="#44039e"/>
<stop offset="0.5552" stop-color="#5601a4"/>
<stop offset="0.5598" stop-color="#8104a7"/>
<stop offset="0.5621" stop-color="#aa2395"/>
<stop offset="0.5633" stop-color="#c5407e"/>
<stop offset="0.5645" stop-color="#e56a5d"/>
<stop offset="0.5656" stop-color="#feb72d"/>
<stop offset="0.5668" stop-color="#f0f921"/>
<stop offset="0.5714" stop-color="#f0f921"/>
<stop offset="0.5726" stop-color="#f0f921"/>
<stop offset="0.5738" stop-color="#f48948"/>
<stop offset="0.5749" stop-color="#d35171"/>
<stop offset="0.5761" stop-color="#b42e8d"/>
<stop offset="0.5784" stop-color="#8606a6"/>
<stop offset="0.5807" stop-color="#6a00a8"/>
<stop offset="0.5842" stop-color="#5502a4"/>
<stop offset="0.5947" stop-color="#3f049c"/>
<stop offset="0.6667" stop-color="#350498"/>
<stop offset="0.6818" stop-color="#20068f"/>
<stop offset="0.7178" stop-color="#16078a"/>
<stop offset="1.0000" stop-color="#100788"/>
</linearGradient>
</defs>
<rect x="92.0" y="291.2" width="742.6" height="430.5" fill="#0d0887"/>
<rect x="91.7" y="291.2" width="11.21" height="430.5" fill="url(#hc0)"/>
<rect x="102.31" y="291.2" width="21.82" height="430.5" fill="url(#hc1)"/>
<rect x="123.53" y="291.2" width="21.82" height="430.5" fill="url(#hc2)"/>
<rect x="144.75" y="291.2" width="21.82" height="430.5" fill="url(#hc3)"/>
<rect x="165.97" y="291.2" width="21.82" height="430.5" fill="url(#hc4)"/>
<rect x="187.19" y="291.2" width="21.82" height="430.5" fill="url(#hc5)"/>
<rect x="208.41" y="291.2" width="21.82" height="430.5" fill="url(#hc6)"/>
<rect x="229.63" y="291.2" width="21.82" height="430.5" fill="url(#hc7)"/>
<rect x="250.85" y="291.2" width="21.82" height="430.5" fill="url(#hc8)"/>
<rect x="272.07" y="291.2" width="29.63" height="430.5" fill="url(#hc9)"/>
<rect x="301.1" y="291.2" width="37.44" height="430.5" fill="url(#hc10)"/>
<rect x="337.94" y="291.2" width="37.43" height="430.5" fill="url(#hc11)"/>
<rect x="374.77" y="291.2" width="37.43" height="430.5" fill="url(#hc12)"/>
<rect x="411.61" y="291.2" width="37.44" height="430.5" fill="url(#hc13)"/>
<rect x="448.44" y="291.2" width="37.43" height="430.5" fill="url(#hc14)"/>
<rect x="485.27" y="291.2" width="37.44" height="430.5" fill="url(#hc15)"/>
<rect x="522.11" y="291.2" width="37.43" height="430.5" fill="url(#hc16)"/>
<rect x="558.95" y="291.2" width="37.43" height="430.5" fill="url(#hc17)"/>
<rect x="595.78" y="291.2" width="37.36" height="430.5" fill="url(#hc18)"/>
<rect x="632.54" y="291.2" width="37.28" height="430.5" fill="url(#hc19)"/>
<rect x="669.22" y="291.2" width="37.28" height="430.5" fill="url(#hc20)"/>
<rect x="705.9" y="291.2" width="37.28" height="430.5" fill="url(#hc21)"/>
<rect x="742.58" y="291.2" width="37.28" height="430.5" fill="url(#hc22)"/>
<rect x="779.26" y="291.2" width="37.28" height="430.5" fill="url(#hc23)"/>
<rect x="815.94" y="291.2" width="18.96" height="430.5" fill="url(#hc24)"/>
<clipPath id="clipc"><rect x="92.0" y="291.2" width="742.6" height="430.5"/></clipPath>
<g clip-path="url(#clipc)">
<path d="M92,485.2L104.73,484.8L117.47,483.2L130.2,481L142.93,477.5L155.67,473.7L168.4,469.8L181.13,465.7L193.87,461.6L206.6,457.1L219.33,453.7L232.07,449.8L244.8,447L257.53,444.8L270.27,443.8L283,443.2L305.1,441L327.2,438.4L349.3,434.6L371.4,431.7L393.5,430.3L415.6,431.7L437.7,434.6L459.8,438.4L481.9,441L504,443.2L526.1,441L548.2,438.4L570.3,434.6L592.4,431.7L614.5,430.3L636.51,431.9L658.52,435.4L680.53,441.2L702.54,448.2L724.55,456.8L746.56,465.2L768.57,473.1L790.58,479.2L812.59,483.6L834.6,485.5" fill="none" stroke="#e6e6e8" stroke-width="2.5" stroke-dasharray="8.9,3.83" stroke-dashoffset="10.8"/>
<path d="M92,547.6L104.73,548L117.47,549.6L130.2,551.8L142.93,555.3L155.67,559.1L168.4,563L181.13,567.1L193.87,571.2L206.6,575.7L219.33,579.1L232.07,583L244.8,585.8L257.53,588L270.27,589L283,589.6L305.1,591.8L327.2,594.4L349.3,598.2L371.4,601.1L393.5,602.5L415.6,601.1L437.7,598.2L459.8,594.4L481.9,591.8L504,589.6L526.1,591.8L548.2,594.4L570.3,598.2L592.4,601.1L614.5,602.5L636.51,600.9L658.52,597.4L680.53,591.6L702.54,584.6L724.55,576L746.56,567.6L768.57,559.7L790.58,553.6L812.59,549.2L834.6,547.3" fill="none" stroke="#e6e6e8" stroke-width="2.5" stroke-dasharray="8.9,3.83" stroke-dashoffset="10.8"/>
<circle cx="92" cy="485.2" r="4.5" fill="#d6d6d6"/>
<circle cx="104.73" cy="484.8" r="4.5" fill="#d6d6d6"/>
<circle cx="117.47" cy="483.2" r="4.5" fill="#d6d6d6"/>
<circle cx="130.2" cy="481" r="4.5" fill="#d6d6d6"/>
<circle cx="142.93" cy="477.5" r="4.5" fill="#d6d6d6"/>
<circle cx="155.67" cy="473.7" r="4.5" fill="#d6d6d6"/>
<circle cx="168.4" cy="469.8" r="4.5" fill="#d6d6d6"/>
<circle cx="181.13" cy="465.7" r="4.5" fill="#d6d6d6"/>
<circle cx="193.87" cy="461.6" r="4.5" fill="#d6d6d6"/>
<circle cx="206.6" cy="457.1" r="4.5" fill="#d6d6d6"/>
<circle cx="219.33" cy="453.7" r="4.5" fill="#d6d6d6"/>
<circle cx="232.07" cy="449.8" r="4.5" fill="#d6d6d6"/>
<circle cx="244.8" cy="447" r="4.5" fill="#d6d6d6"/>
<circle cx="257.53" cy="444.8" r="4.5" fill="#d6d6d6"/>
<circle cx="270.27" cy="443.8" r="4.5" fill="#d6d6d6"/>
<circle cx="283" cy="443.2" r="4.5" fill="#d6d6d6"/>
<circle cx="305.1" cy="441" r="4.5" fill="#d6d6d6"/>
<circle cx="327.2" cy="438.4" r="4.5" fill="#d6d6d6"/>
<circle cx="349.3" cy="434.6" r="4.5" fill="#d6d6d6"/>
<circle cx="371.4" cy="431.7" r="4.5" fill="#d6d6d6"/>
<circle cx="393.5" cy="430.3" r="4.5" fill="#d6d6d6"/>
<circle cx="415.6" cy="431.7" r="4.5" fill="#d6d6d6"/>
<circle cx="437.7" cy="434.6" r="4.5" fill="#d6d6d6"/>
<circle cx="459.8" cy="438.4" r="4.5" fill="#d6d6d6"/>
<circle cx="481.9" cy="441" r="4.5" fill="#d6d6d6"/>
<circle cx="504" cy="443.2" r="4.5" fill="#d6d6d6"/>
<circle cx="526.1" cy="441" r="4.5" fill="#d6d6d6"/>
<circle cx="548.2" cy="438.4" r="4.5" fill="#d6d6d6"/>
<circle cx="570.3" cy="434.6" r="4.5" fill="#d6d6d6"/>
<circle cx="592.4" cy="431.7" r="4.5" fill="#d6d6d6"/>
<circle cx="614.5" cy="430.3" r="4.5" fill="#d6d6d6"/>
<circle cx="636.51" cy="431.9" r="4.5" fill="#d6d6d6"/>
<circle cx="658.52" cy="435.4" r="4.5" fill="#d6d6d6"/>
<circle cx="680.53" cy="441.2" r="4.5" fill="#d6d6d6"/>
<circle cx="702.54" cy="448.2" r="4.5" fill="#d6d6d6"/>
<circle cx="724.55" cy="456.8" r="4.5" fill="#d6d6d6"/>
<circle cx="746.56" cy="465.2" r="4.5" fill="#d6d6d6"/>
<circle cx="768.57" cy="473.1" r="4.5" fill="#d6d6d6"/>
<circle cx="790.58" cy="479.2" r="4.5" fill="#d6d6d6"/>
<circle cx="812.59" cy="483.6" r="4.5" fill="#d6d6d6"/>
<circle cx="834.6" cy="485.5" r="4.5" fill="#d6d6d6"/>
<circle cx="92" cy="547.6" r="4.5" fill="#d6d6d6"/>
<circle cx="104.73" cy="548" r="4.5" fill="#d6d6d6"/>
<circle cx="117.47" cy="549.6" r="4.5" fill="#d6d6d6"/>
<circle cx="130.2" cy="551.8" r="4.5" fill="#d6d6d6"/>
<circle cx="142.93" cy="555.3" r="4.5" fill="#d6d6d6"/>
<circle cx="155.67" cy="559.1" r="4.5" fill="#d6d6d6"/>
<circle cx="168.4" cy="563" r="4.5" fill="#d6d6d6"/>
<circle cx="181.13" cy="567.1" r="4.5" fill="#d6d6d6"/>
<circle cx="193.87" cy="571.2" r="4.5" fill="#d6d6d6"/>
<circle cx="206.6" cy="575.7" r="4.5" fill="#d6d6d6"/>
<circle cx="219.33" cy="579.1" r="4.5" fill="#d6d6d6"/>
<circle cx="232.07" cy="583" r="4.5" fill="#d6d6d6"/>
<circle cx="244.8" cy="585.8" r="4.5" fill="#d6d6d6"/>
<circle cx="257.53" cy="588" r="4.5" fill="#d6d6d6"/>
<circle cx="270.27" cy="589" r="4.5" fill="#d6d6d6"/>
<circle cx="283" cy="589.6" r="4.5" fill="#d6d6d6"/>
<circle cx="305.1" cy="591.8" r="4.5" fill="#d6d6d6"/>
<circle cx="327.2" cy="594.4" r="4.5" fill="#d6d6d6"/>
<circle cx="349.3" cy="598.2" r="4.5" fill="#d6d6d6"/>
<circle cx="371.4" cy="601.1" r="4.5" fill="#d6d6d6"/>
<circle cx="393.5" cy="602.5" r="4.5" fill="#d6d6d6"/>
<circle cx="415.6" cy="601.1" r="4.5" fill="#d6d6d6"/>
<circle cx="437.7" cy="598.2" r="4.5" fill="#d6d6d6"/>
<circle cx="459.8" cy="594.4" r="4.5" fill="#d6d6d6"/>
<circle cx="481.9" cy="591.8" r="4.5" fill="#d6d6d6"/>
<circle cx="504" cy="589.6" r="4.5" fill="#d6d6d6"/>
<circle cx="526.1" cy="591.8" r="4.5" fill="#d6d6d6"/>
<circle cx="548.2" cy="594.4" r="4.5" fill="#d6d6d6"/>
<circle cx="570.3" cy="598.2" r="4.5" fill="#d6d6d6"/>
<circle cx="592.4" cy="601.1" r="4.5" fill="#d6d6d6"/>
<circle cx="614.5" cy="602.5" r="4.5" fill="#d6d6d6"/>
<circle cx="636.51" cy="600.9" r="4.5" fill="#d6d6d6"/>
<circle cx="658.52" cy="597.4" r="4.5" fill="#d6d6d6"/>
<circle cx="680.53" cy="591.6" r="4.5" fill="#d6d6d6"/>
<circle cx="702.54" cy="584.6" r="4.5" fill="#d6d6d6"/>
<circle cx="724.55" cy="576" r="4.5" fill="#d6d6d6"/>
<circle cx="746.56" cy="567.6" r="4.5" fill="#d6d6d6"/>
<circle cx="768.57" cy="559.7" r="4.5" fill="#d6d6d6"/>
<circle cx="790.58" cy="553.6" r="4.5" fill="#d6d6d6"/>
<circle cx="812.59" cy="549.2" r="4.5" fill="#d6d6d6"/>
<circle cx="834.6" cy="547.3" r="4.5" fill="#d6d6d6"/>
<path d="M91.2,485.2h1.6M103.93,484.8h1.6M116.67,483.2h1.6M129.4,481h1.6M142.13,477.5h1.6M154.87,473.7h1.6M167.6,469.8h1.6M180.33,465.7h1.6M193.07,461.6h1.6M205.8,457.1h1.6M218.53,453.7h1.6M231.27,449.8h1.6M244,447h1.6M256.73,444.8h1.6M269.47,443.8h1.6M282.2,443.2h1.6M304.3,441h1.6M326.4,438.4h1.6M348.5,434.6h1.6M370.6,431.7h1.6M392.7,430.3h1.6M414.8,431.7h1.6M436.9,434.6h1.6M459,438.4h1.6M481.1,441h1.6M503.2,443.2h1.6M525.3,441h1.6M547.4,438.4h1.6M569.5,434.6h1.6M591.6,431.7h1.6M613.7,430.3h1.6M635.71,431.9h1.6M657.72,435.4h1.6M679.73,441.2h1.6M701.74,448.2h1.6M723.75,456.8h1.6M745.76,465.2h1.6M767.77,473.1h1.6M789.78,479.2h1.6M811.79,483.6h1.6M833.8,485.5h1.6M91.2,547.6h1.6M103.93,548h1.6M116.67,549.6h1.6M129.4,551.8h1.6M142.13,555.3h1.6M154.87,559.1h1.6M167.6,563h1.6M180.33,567.1h1.6M193.07,571.2h1.6M205.8,575.7h1.6M218.53,579.1h1.6M231.27,583h1.6M244,585.8h1.6M256.73,588h1.6M269.47,589h1.6M282.2,589.6h1.6M304.3,591.8h1.6M326.4,594.4h1.6M348.5,598.2h1.6M370.6,601.1h1.6M392.7,602.5h1.6M414.8,601.1h1.6M436.9,598.2h1.6M459,594.4h1.6M481.1,591.8h1.6M503.2,589.6h1.6M525.3,591.8h1.6M547.4,594.4h1.6M569.5,598.2h1.6M591.6,601.1h1.6M613.7,602.5h1.6M635.71,600.9h1.6M657.72,597.4h1.6M679.73,591.6h1.6M701.74,584.6h1.6M723.75,576h1.6M745.76,567.6h1.6M767.77,559.7h1.6M789.78,553.6h1.6M811.79,549.2h1.6M833.8,547.3h1.6" stroke="#f4f4f4" stroke-width="1.6" stroke-linecap="round"/>
<path d="M92,506L104.73,506L117.47,506L130.2,505.8L142.93,505.6L155.67,504.9L168.4,504.1L181.13,502.4L193.87,501.1L206.6,499.6L219.33,498.4L232.07,496.5L244.8,495.2L257.53,494.1L270.27,493.7L283,493.4L305.1,492.2L327.2,490.5L349.3,487.8L371.4,485.7L393.5,484.2L415.6,485.7L437.7,487.8L459.8,490.5L481.9,492.2L504,493.4L526.1,492.2L548.2,490.5L570.3,487.8L592.4,485.7L614.5,484.2L636.51,485.5L658.52,489L680.53,492.4L702.54,496.6L724.55,499L746.56,502.5L768.57,504.3L790.58,505.3L812.59,505.7L834.6,505.8" fill="none" stroke="#008000" stroke-width="2.5" stroke-dasharray="8.9,3.83" stroke-dashoffset="10.8"/>
<path d="M92,499.7l3.9,6.3l-3.9,6.3l-3.9,-6.3zM104.73,499.7l3.9,6.3l-3.9,6.3l-3.9,-6.3zM117.47,499.7l3.9,6.3l-3.9,6.3l-3.9,-6.3zM130.2,499.5l3.9,6.3l-3.9,6.3l-3.9,-6.3zM142.93,499.3l3.9,6.3l-3.9,6.3l-3.9,-6.3zM155.67,498.6l3.9,6.3l-3.9,6.3l-3.9,-6.3zM168.4,497.8l3.9,6.3l-3.9,6.3l-3.9,-6.3zM181.13,496.1l3.9,6.3l-3.9,6.3l-3.9,-6.3zM193.87,494.8l3.9,6.3l-3.9,6.3l-3.9,-6.3zM206.6,493.3l3.9,6.3l-3.9,6.3l-3.9,-6.3zM219.33,492.1l3.9,6.3l-3.9,6.3l-3.9,-6.3zM232.07,490.2l3.9,6.3l-3.9,6.3l-3.9,-6.3zM244.8,488.9l3.9,6.3l-3.9,6.3l-3.9,-6.3zM257.53,487.8l3.9,6.3l-3.9,6.3l-3.9,-6.3zM270.27,487.4l3.9,6.3l-3.9,6.3l-3.9,-6.3zM283,487.1l3.9,6.3l-3.9,6.3l-3.9,-6.3zM305.1,485.9l3.9,6.3l-3.9,6.3l-3.9,-6.3zM327.2,484.2l3.9,6.3l-3.9,6.3l-3.9,-6.3zM349.3,481.5l3.9,6.3l-3.9,6.3l-3.9,-6.3zM371.4,479.4l3.9,6.3l-3.9,6.3l-3.9,-6.3zM393.5,477.9l3.9,6.3l-3.9,6.3l-3.9,-6.3zM415.6,479.4l3.9,6.3l-3.9,6.3l-3.9,-6.3zM437.7,481.5l3.9,6.3l-3.9,6.3l-3.9,-6.3zM459.8,484.2l3.9,6.3l-3.9,6.3l-3.9,-6.3zM481.9,485.9l3.9,6.3l-3.9,6.3l-3.9,-6.3zM504,487.1l3.9,6.3l-3.9,6.3l-3.9,-6.3zM526.1,485.9l3.9,6.3l-3.9,6.3l-3.9,-6.3zM548.2,484.2l3.9,6.3l-3.9,6.3l-3.9,-6.3zM570.3,481.5l3.9,6.3l-3.9,6.3l-3.9,-6.3zM592.4,479.4l3.9,6.3l-3.9,6.3l-3.9,-6.3zM614.5,477.9l3.9,6.3l-3.9,6.3l-3.9,-6.3zM636.51,479.2l3.9,6.3l-3.9,6.3l-3.9,-6.3zM658.52,482.7l3.9,6.3l-3.9,6.3l-3.9,-6.3zM680.53,486.1l3.9,6.3l-3.9,6.3l-3.9,-6.3zM702.54,490.3l3.9,6.3l-3.9,6.3l-3.9,-6.3zM724.55,492.7l3.9,6.3l-3.9,6.3l-3.9,-6.3zM746.56,496.2l3.9,6.3l-3.9,6.3l-3.9,-6.3zM768.57,498l3.9,6.3l-3.9,6.3l-3.9,-6.3zM790.58,499l3.9,6.3l-3.9,6.3l-3.9,-6.3zM812.59,499.4l3.9,6.3l-3.9,6.3l-3.9,-6.3zM834.6,499.5l3.9,6.3l-3.9,6.3l-3.9,-6.3z" fill="#008000"/>
</g>
<path d="M778.9,324.8L762.5,295.6L691.3,295.6L656.6,355.8L691.3,416.2L762.5,416.2" fill="none" stroke="#fdc060" stroke-width="4.5" stroke-linejoin="miter"/>
<path d="M727,355.8L778.9,324.8L797.2,355.8L778.9,386.1L762.5,416.2Z" fill="none" stroke="#fff" stroke-width="4.4" stroke-linejoin="round"/>
<path transform="translate(752.95,340.3) rotate(-30.85)" d="M4,0L-9.5,-6.6L-6,0L-9.5,6.6Z" fill="#fff"/>
<path transform="translate(788.05,340.3) rotate(59.45)" d="M4,0L-9.5,-6.6L-6,0L-9.5,6.6Z" fill="#fff"/>
<path transform="translate(788.05,370.95) rotate(121.13)" d="M4,0L-9.5,-6.6L-6,0L-9.5,6.6Z" fill="#fff"/>
<path transform="translate(770.7,401.15) rotate(118.58)" d="M4,0L-9.5,-6.6L-6,0L-9.5,6.6Z" fill="#fff"/>
<path transform="translate(744.75,386) rotate(-120.44)" d="M4,0L-9.5,-6.6L-6,0L-9.5,6.6Z" fill="#fff"/>
<circle cx="727" cy="355.8" r="2.5" fill="#d62728"/>
<circle cx="778.9" cy="324.8" r="2.5" fill="#d62728"/>
<circle cx="797.2" cy="355.8" r="2.5" fill="#d62728"/>
<circle cx="778.9" cy="386.1" r="2.5" fill="#d62728"/>
<circle cx="762.5" cy="416.2" r="2.5" fill="#d62728"/>
<text x="784.4" y="325.2" fill="#fff" font-family='"Liberation Sans","DejaVu Sans",sans-serif' font-size="21.3">M</text>
<text x="804.2" y="363.8" fill="#fff" font-family='"Liberation Sans","DejaVu Sans",sans-serif' font-size="21.3">K</text>
<text x="785.5" y="401.4" fill="#fff" font-family='"Liberation Sans","DejaVu Sans",sans-serif' font-size="21.3">M</text>
<text x="764.4" y="435.8" fill="#fff" font-family='"Liberation Sans","DejaVu Sans",sans-serif' font-size="21.3">K</text>
<text x="709.3" y="364.3" fill="#fff" font-family='"Liberation Serif","DejaVu Serif","DejaVu Math TeX Gyre",serif' font-size="22">Γ</text>
<path d="M283,291.2v12M283,721.7v-12M393.5,291.2v12M393.5,721.7v-12M504,291.2v12M504,721.7v-12M614.5,291.2v12M614.5,721.7v-12M92.0,391.6h12M834.6,391.6h-12M92.0,516.4h12M834.6,516.4h-12M92.0,641.2h12M834.6,641.2h-12" stroke="#000" stroke-width="2.7"/>
<rect x="92.0" y="291.2" width="742.6" height="430.5" fill="none" stroke="#000" stroke-width="3.2"/>
<text x="80.5" y="402.2" text-anchor="end" font-family='"Liberation Serif","DejaVu Serif","DejaVu Math TeX Gyre",serif' font-size="32">1</text>
<text x="80.5" y="527" text-anchor="end" font-family='"Liberation Serif","DejaVu Serif","DejaVu Math TeX Gyre",serif' font-size="32">0</text>
<text x="80.5" y="651.8" text-anchor="end" font-family='"Liberation Serif","DejaVu Serif","DejaVu Math TeX Gyre",serif' font-size="32">−<tspan dx="3">1</tspan></text>
<text transform="translate(37,506.5) rotate(-90)" text-anchor="middle" font-family='"Liberation Serif","DejaVu Serif","DejaVu Math TeX Gyre",serif' font-size="33" font-style="italic">ω</text>
<text x="92.5" y="755" text-anchor="middle" font-family='"Liberation Serif","DejaVu Serif","DejaVu Math TeX Gyre",serif' font-size="31">Γ</text>
<text x="283" y="755" text-anchor="middle" font-family='"Liberation Serif","DejaVu Serif","DejaVu Math TeX Gyre",serif' font-size="31">M</text>
<text x="393.5" y="755" text-anchor="middle" font-family='"Liberation Serif","DejaVu Serif","DejaVu Math TeX Gyre",serif' font-size="31">K</text>
<text x="504" y="755" text-anchor="middle" font-family='"Liberation Serif","DejaVu Serif","DejaVu Math TeX Gyre",serif' font-size="31">M</text>
<text x="614.5" y="755" text-anchor="middle" font-family='"Liberation Serif","DejaVu Serif","DejaVu Math TeX Gyre",serif' font-size="31">K</text>
<text x="834.6" y="755" text-anchor="middle" font-family='"Liberation Serif","DejaVu Serif","DejaVu Math TeX Gyre",serif' font-size="31">Γ</text>
<text x="13.2" y="315" font-family='"Liberation Sans","DejaVu Sans",sans-serif' font-size="41.5">(c)</text>
<text x="129.5" y="700.5" fill="#fff" font-family='"Liberation Serif","DejaVu Serif","DejaVu Math TeX Gyre",serif' font-size="32" font-style="italic"><tspan font-family='"DejaVu Math TeX Gyre","DejaVu Serif",serif' font-style="normal" font-size="27.5" stroke="#fff" stroke-width="0.6">𝒜</tspan><tspan font-size="22" dy="4">k</tspan><tspan dy="-4" font-style="normal">(</tspan>ω<tspan font-style="normal">)</tspan></text>
<text x="688.5" y="701" fill="#fff" font-family='"Liberation Serif","DejaVu Serif","DejaVu Math TeX Gyre",serif' font-size="32.5" font-style="italic">T</text><text x="709.3" y="701" fill="#fff" font-family='"Liberation Serif","DejaVu Serif","DejaVu Math TeX Gyre",serif' font-size="32.5" textLength="22.5" lengthAdjust="spacingAndGlyphs">=</text><text x="736.3" y="701" fill="#fff" font-family='"Liberation Serif","DejaVu Serif","DejaVu Math TeX Gyre",serif' font-size="32.5">0.08</text>
<defs><linearGradient id="gpl" x1="0" y1="1" x2="0" y2="0">
<stop offset="0.0000" stop-color="#0d0887"/>
<stop offset="0.0625" stop-color="#310597"/>
<stop offset="0.1250" stop-color="#4c02a1"/>
<stop offset="0.1875" stop-color="#6600a7"/>
<stop offset="0.2500" stop-color="#7e03a8"/>
<stop offset="0.3125" stop-color="#9511a1"/>
<stop offset="0.3750" stop-color="#aa2395"/>
<stop offset="0.4375" stop-color="#bc3587"/>
<stop offset="0.5000" stop-color="#cc4778"/>
<stop offset="0.5625" stop-color="#da5a6a"/>
<stop offset="0.6250" stop-color="#e66c5c"/>
<stop offset="0.6875" stop-color="#f0804e"/>
<stop offset="0.7500" stop-color="#f89540"/>
<stop offset="0.8125" stop-color="#fdac33"/>
<stop offset="0.8750" stop-color="#fdc527"/>
<stop offset="0.9375" stop-color="#f8df25"/>
<stop offset="1.0000" stop-color="#f0f921"/>
</linearGradient></defs>
<rect x="881.3" y="349.6" width="16.1" height="313.6" fill="url(#gpl)"/>
<path d="M881.3,350.1L889.35,335.3L897.4,350.1Z" fill="#f0f921"/>
<path d="M881.3,662.8L889.35,677.5L897.4,662.8Z" fill="#0d0887"/>
<path d="M881.3,349.6L889.35,335.3L897.4,349.6V663.2L889.35,677.5L881.3,663.2Z" fill="none" stroke="#000" stroke-width="2.8" stroke-linejoin="miter"/>
<path d="M886,349.6H897.4M886,428H897.4M886,506.4H897.4M886,584.8H897.4M886,663.2H897.4" stroke="#000" stroke-width="2.4"/>
<text x="909.5" y="360.4" font-family='"Liberation Serif","DejaVu Serif","DejaVu Math TeX Gyre",serif' font-size="32">8</text>
<text x="909.5" y="438.8" font-family='"Liberation Serif","DejaVu Serif","DejaVu Math TeX Gyre",serif' font-size="32">6</text>
<text x="909.5" y="517.2" font-family='"Liberation Serif","DejaVu Serif","DejaVu Math TeX Gyre",serif' font-size="32">4</text>
<text x="909.5" y="595.6" font-family='"Liberation Serif","DejaVu Serif","DejaVu Math TeX Gyre",serif' font-size="32">2</text>
<text x="909.5" y="674" font-family='"Liberation Serif","DejaVu Serif","DejaVu Math TeX Gyre",serif' font-size="32">0</text>
<clipPath id="clipd"><rect x="101.2" y="761.0" width="369.6" height="391.4"/></clipPath>
<rect x="101.2" y="761.0" width="369.6" height="391.4" fill="#dcdcdc"/>
<g clip-path="url(#clipd)">
<path d="M99.9,1152.4L203.68,940.48" stroke="#fff" stroke-opacity="0.68" stroke-width="3.5" stroke-dasharray="9.5,4.5"/>
<path d="M232.5,1152.4L336.28,940.48" stroke="#fff" stroke-opacity="0.68" stroke-width="3.5"/>
<path d="M365.1,1152.4L468.88,940.48" stroke="#fff" stroke-opacity="0.68" stroke-width="3.5" stroke-dasharray="9.5,4.5"/>
<path d="M101.2,939.55L103.87,939.64L106.54,939.97L107.87,939.62L110.54,939.68L113.21,939.94L115.88,939.81L118.55,939.89L121.21,939.92L123.22,939.57L125.88,939.68L128.55,939.79L131.22,939.73L133.22,939.39L135.89,939.36L138.56,939.39L140.56,939.66L143.23,939.5L145.9,939.6L148.57,939.61L149.9,939.34L151.9,939.76L154.57,939.79L156.57,939.52L159.24,939.32L161.91,939.5L164.58,939.37L167.25,939.37L169.92,939.77L171.92,939.42L174.59,939.4L175.92,939.66L177.25,939.12L178.59,939.49L179.92,939.19L182.59,939.17L185.26,939.4L186.59,939.14L188.6,939.47L191.26,939.35L193.93,939.26L196.6,939.22L199.27,938.64L200.61,939.07L201.27,938.68L202.61,937.95L204.61,938.49L206.61,938.11L207.94,938.59L208.61,937.5L209.95,936.93L210.61,937.7L211.28,938.26L212.61,938.64L213.28,938.31L213.95,938.59L215.28,938.03L215.95,937.18L216.62,936.71L217.28,937.65L217.95,938L218.62,937.5L219.29,936.99L219.95,937.8L220.62,938.07L223.29,937.42L223.96,936.06L224.62,936.36L225.96,937.41L226.62,936.75L227.29,937.02L228.63,935.93L229.29,934.54L229.96,933.54L231.96,934.07L232.63,935.52L233.3,936.16L234.63,937.15L235.3,937.74L235.96,937.11L236.63,936.1L237.3,935.47L237.97,935.05L238.63,934.6L239.3,933.7L241.3,934.64L241.97,935.1L242.64,934.71L243.3,933.4L243.97,933.66L244.64,932.7L245.3,932.4L245.97,933.5L246.64,933.93L247.31,935.71L247.97,935.07L248.64,936.16L249.31,935.5L249.97,933.6L250.64,932.51L251.31,934.26L251.98,935.52L252.64,937.52L253.31,935.96L253.98,935.19L254.64,933.07L255.98,934.06L256.65,932.88L257.31,933.5L257.98,934.15L259.31,932.78L259.98,931.88L260.65,932.35L261.32,932.89L261.98,933.32L264.65,935.3L265.32,936.28L265.99,934.56L266.65,933.04L267.32,932.35L267.99,932.84L269.99,932.2L270.66,931.84L271.32,930.67L272.66,931.55L273.32,932.88L273.99,934.02L274.66,933.47L275.33,933.84L277.33,933.18L277.99,932.9L278.66,931.93L279.33,930.98L280,930.67L280.66,931.8L281.33,932.68L282,932.15L284,933.19L286,930.93L286.67,929.81L287.33,929.4L288,928.53L288.67,929.63L289.34,928.87L290,929.71L290.67,929.96L291.34,932.93L292,934.11L292.67,932.17L293.34,930L294.01,930.34L295.34,932.14L296.01,932.43L296.67,933.54L297.34,933.08L298.68,932.8L299.34,931.82L300.01,930.26L300.68,928.17L301.34,925.47L302.01,922.86L302.68,919.67L303.35,915.3L304.01,908.94L304.68,899.09L305.35,884.91L306.01,862.91L306.68,826.03L307.35,757.36L308.02,710.9L310.68,710.9L312.02,760.65L312.69,827.99L313.35,864.32L314.02,885.74L314.69,899.63L315.35,908.73L316.02,915.63L316.69,920.38L317.36,924.02L318.02,926.65L318.69,928.63L319.36,930.48L320.02,931.56L320.69,932.76L321.36,933.63L322.03,934.3L322.69,935.06L323.36,935.48L324.03,936.2L324.69,936.67L325.36,937.23L326.03,937.61L327.36,937.97L328.7,938.35L331.37,938.41L332.03,938.75L333.37,939.1L336.04,939.16L338.7,939.58L341.37,939.62L344.04,939.4L346.71,939.51L349.38,939.64L352.05,939.74L354.72,939.74L357.38,939.45L360.05,939.53L362.72,939.94L365.39,939.7L368.06,939.75L370.73,939.75L373.4,939.87L375.4,939.57L377.4,939.97L380.07,939.79L382.74,939.94L385.41,939.97L388.07,940L390.74,940.06L393.41,940.17L396.08,940.13L398.75,940.09L401.42,939.99L404.09,940.11L406.75,940.12L409.42,939.95L412.09,939.9L414.76,939.93L417.43,940.11L420.1,939.93L422.77,940.08L425.43,939.94L428.1,939.96L430.77,939.94L433.44,940.03L436.11,940L438.78,939.95L441.45,940.12L444.11,940.11L446.78,939.97L449.45,939.99L452.12,939.96L454.79,940.22L457.46,940.04L460.13,940.07L462.79,940.16L465.46,940.13L468.13,939.98L470.8,940.03L470.8,940.48L101.2,940.48Z" fill="#1f77b4" fill-opacity="0.32"/>
<path d="M101.2,939.55L103.87,939.64L106.54,939.97L107.87,939.62L110.54,939.68L113.21,939.94L115.88,939.81L118.55,939.89L121.21,939.92L123.22,939.57L125.88,939.68L128.55,939.79L131.22,939.73L133.22,939.39L135.89,939.36L138.56,939.39L140.56,939.66L143.23,939.5L145.9,939.6L148.57,939.61L149.9,939.34L151.9,939.76L154.57,939.79L156.57,939.52L159.24,939.32L161.91,939.5L164.58,939.37L167.25,939.37L169.92,939.77L171.92,939.42L174.59,939.4L175.92,939.66L177.25,939.12L178.59,939.49L179.92,939.19L182.59,939.17L185.26,939.4L186.59,939.14L188.6,939.47L191.26,939.35L193.93,939.26L196.6,939.22L199.27,938.64L200.61,939.07L201.27,938.68L202.61,937.95L204.61,938.49L206.61,938.11L207.94,938.59L208.61,937.5L209.95,936.93L210.61,937.7L211.28,938.26L212.61,938.64L213.28,938.31L213.95,938.59L215.28,938.03L215.95,937.18L216.62,936.71L217.28,937.65L217.95,938L218.62,937.5L219.29,936.99L219.95,937.8L220.62,938.07L223.29,937.42L223.96,936.06L224.62,936.36L225.96,937.41L226.62,936.75L227.29,937.02L228.63,935.93L229.29,934.54L229.96,933.54L231.96,934.07L232.63,935.52L233.3,936.16L234.63,937.15L235.3,937.74L235.96,937.11L236.63,936.1L237.3,935.47L237.97,935.05L238.63,934.6L239.3,933.7L241.3,934.64L241.97,935.1L242.64,934.71L243.3,933.4L243.97,933.66L244.64,932.7L245.3,932.4L245.97,933.5L246.64,933.93L247.31,935.71L247.97,935.07L248.64,936.16L249.31,935.5L249.97,933.6L250.64,932.51L251.31,934.26L251.98,935.52L252.64,937.52L253.31,935.96L253.98,935.19L254.64,933.07L255.98,934.06L256.65,932.88L257.31,933.5L257.98,934.15L259.31,932.78L259.98,931.88L260.65,932.35L261.32,932.89L261.98,933.32L264.65,935.3L265.32,936.28L265.99,934.56L266.65,933.04L267.32,932.35L267.99,932.84L269.99,932.2L270.66,931.84L271.32,930.67L272.66,931.55L273.32,932.88L273.99,934.02L274.66,933.47L275.33,933.84L277.33,933.18L277.99,932.9L278.66,931.93L279.33,930.98L280,930.67L280.66,931.8L281.33,932.68L282,932.15L284,933.19L286,930.93L286.67,929.81L287.33,929.4L288,928.53L288.67,929.63L289.34,928.87L290,929.71L290.67,929.96L291.34,932.93L292,934.11L292.67,932.17L293.34,930L294.01,930.34L295.34,932.14L296.01,932.43L296.67,933.54L297.34,933.08L298.68,932.8L299.34,931.82L300.01,930.26L300.68,928.17L301.34,925.47L302.01,922.86L302.68,919.67L303.35,915.3L304.01,908.94L304.68,899.09L305.35,884.91L306.01,862.91L306.68,826.03L307.35,757.36L308.02,710.9L310.68,710.9L312.02,760.65L312.69,827.99L313.35,864.32L314.02,885.74L314.69,899.63L315.35,908.73L316.02,915.63L316.69,920.38L317.36,924.02L318.02,926.65L318.69,928.63L319.36,930.48L320.02,931.56L320.69,932.76L321.36,933.63L322.03,934.3L322.69,935.06L323.36,935.48L324.03,936.2L324.69,936.67L325.36,937.23L326.03,937.61L327.36,937.97L328.7,938.35L331.37,938.41L332.03,938.75L333.37,939.1L336.04,939.16L338.7,939.58L341.37,939.62L344.04,939.4L346.71,939.51L349.38,939.64L352.05,939.74L354.72,939.74L357.38,939.45L360.05,939.53L362.72,939.94L365.39,939.7L368.06,939.75L370.73,939.75L373.4,939.87L375.4,939.57L377.4,939.97L380.07,939.79L382.74,939.94L385.41,939.97L388.07,940L390.74,940.06L393.41,940.17L396.08,940.13L398.75,940.09L401.42,939.99L404.09,940.11L406.75,940.12L409.42,939.95L412.09,939.9L414.76,939.93L417.43,940.11L420.1,939.93L422.77,940.08L425.43,939.94L428.1,939.96L430.77,939.94L433.44,940.03L436.11,940L438.78,939.95L441.45,940.12L444.11,940.11L446.78,939.97L449.45,939.99L452.12,939.96L454.79,940.22L457.46,940.04L460.13,940.07L462.79,940.16L465.46,940.13L468.13,939.98L470.8,940.03" fill="none" stroke="#1f77b4" stroke-width="3.6" stroke-linejoin="round"/>
<path d="M101.2,992.74L102.53,992.47L104.54,992.74L107.2,992.53L109.21,992.93L111.21,992.65L113.88,992.81L116.54,992.59L119.21,992.66L121.88,992.58L123.88,992.84L126.55,992.82L129.22,992.65L131.89,992.88L133.89,992.48L136.56,992.54L138.56,992.28L140.56,992.67L143.23,992.66L143.9,992.4L146.57,992.48L147.9,992.12L150.57,992.33L152.57,992.63L155.24,992.65L157.91,992.73L159.24,992.48L161.91,992.39L163.91,992.65L165.91,992.39L166.58,992.09L168.58,992.41L171.25,992.35L171.92,992.65L174.59,992.3L177.25,992.36L179.92,992.21L182.59,992.58L184.59,992.24L185.93,991.77L187.26,991.23L189.93,991.13L192.6,991.35L193.93,991.65L196.6,991.62L197.94,991.08L199.27,990.82L199.94,991.09L200.61,990.8L202.61,991.14L203.94,990.79L206.61,990.7L209.28,990.19L211.28,990.5L213.28,991.02L213.95,990.74L215.28,990.23L217.28,990.53L219.29,989.83L219.95,990.47L222.62,990.11L223.29,989.82L223.96,989.49L224.62,989.1L225.29,989.59L225.96,988.83L227.29,989.1L228.63,989.37L229.96,988.65L231.96,989.11L232.63,989.48L233.3,988.74L234.63,988.36L235.3,989.28L235.96,989.65L236.63,988.43L237.97,989.82L238.63,990.57L239.97,989.72L240.63,990.26L241.97,989.7L242.64,989.25L243.3,988.8L245.97,987.76L246.64,988.41L247.31,987.53L247.97,987.1L248.64,986.49L250.64,987.01L252.64,986.38L253.31,987.2L253.98,988.23L254.64,988.78L255.31,988.24L255.98,987.93L256.65,987.61L257.31,986.75L259.31,987.25L259.98,987.57L260.65,988.21L261.32,988.66L261.98,987.99L262.65,987.35L263.32,987.1L263.98,985.71L264.65,986.63L265.32,986.34L265.99,986.06L266.65,984.82L267.32,984.07L267.99,985.2L268.65,985.79L269.32,986.84L269.99,984.77L270.66,981.83L271.32,981.14L272.66,981.48L273.32,980.27L273.99,978.38L274.66,977.02L275.33,973.47L275.99,970.79L276.66,967.69L277.33,965.14L277.99,960.31L278.66,952.69L279.33,941.69L280,925.86L280.66,901.26L281.33,859.73L282,784.12L282.66,710.9L285.33,710.9L286.67,731.71L287.33,835.22L288,890.31L288.67,921.35L289.34,941.95L290,954.44L290.67,964.16L291.34,970.32L292,974.73L292.67,977.75L293.34,980.28L294.01,981.58L294.67,983.3L295.34,983.85L296.01,985.59L296.67,986.29L297.34,986.72L298.01,987.24L299.34,987.9L300.01,988.62L300.68,989.36L301.34,989.8L302.68,990.51L303.35,990.98L304.68,991.34L306.68,991.79L309.35,991.42L312.02,991.53L312.69,992.2L315.35,992.36L318.02,992.46L320.69,992.8L323.36,992.83L326.03,993.02L328.7,992.93L331.37,992.9L334.03,993L336.7,993.15L338.7,992.89L341.37,992.9L344.04,992.9L346.71,993.04L349.38,992.95L352.05,993.05L354.72,993.06L357.38,992.9L360.05,992.97L362.72,993.01L365.39,992.89L368.06,992.84L370.73,993.09L373.4,993.09L376.06,993.03L378.73,993.04L380.07,992.75L381.4,993.01L384.07,992.93L386.74,992.93L389.41,992.85L392.08,993.08L394.75,993.08L397.41,992.99L400.08,993L402.75,993.14L405.42,993.14L408.09,993.08L410.76,992.96L413.43,992.97L416.09,992.94L418.76,993.07L421.43,993.27L424.1,993.05L426.77,992.99L429.44,993.13L432.11,993.11L434.77,993.07L437.44,993.12L440.11,993.11L442.78,993.03L445.45,993.09L448.12,993.05L450.79,993.03L453.45,993.07L456.12,993.15L458.79,993.26L460.79,992.84L463.46,993.1L466.13,993.15L468.8,993.19L470.8,993.11L470.8,993.46L101.2,993.46Z" fill="#ff7f0e" fill-opacity="0.32"/>
<path d="M101.2,992.74L102.53,992.47L104.54,992.74L107.2,992.53L109.21,992.93L111.21,992.65L113.88,992.81L116.54,992.59L119.21,992.66L121.88,992.58L123.88,992.84L126.55,992.82L129.22,992.65L131.89,992.88L133.89,992.48L136.56,992.54L138.56,992.28L140.56,992.67L143.23,992.66L143.9,992.4L146.57,992.48L147.9,992.12L150.57,992.33L152.57,992.63L155.24,992.65L157.91,992.73L159.24,992.48L161.91,992.39L163.91,992.65L165.91,992.39L166.58,992.09L168.58,992.41L171.25,992.35L171.92,992.65L174.59,992.3L177.25,992.36L179.92,992.21L182.59,992.58L184.59,992.24L185.93,991.77L187.26,991.23L189.93,991.13L192.6,991.35L193.93,991.65L196.6,991.62L197.94,991.08L199.27,990.82L199.94,991.09L200.61,990.8L202.61,991.14L203.94,990.79L206.61,990.7L209.28,990.19L211.28,990.5L213.28,991.02L213.95,990.74L215.28,990.23L217.28,990.53L219.29,989.83L219.95,990.47L222.62,990.11L223.29,989.82L223.96,989.49L224.62,989.1L225.29,989.59L225.96,988.83L227.29,989.1L228.63,989.37L229.96,988.65L231.96,989.11L232.63,989.48L233.3,988.74L234.63,988.36L235.3,989.28L235.96,989.65L236.63,988.43L237.97,989.82L238.63,990.57L239.97,989.72L240.63,990.26L241.97,989.7L242.64,989.25L243.3,988.8L245.97,987.76L246.64,988.41L247.31,987.53L247.97,987.1L248.64,986.49L250.64,987.01L252.64,986.38L253.31,987.2L253.98,988.23L254.64,988.78L255.31,988.24L255.98,987.93L256.65,987.61L257.31,986.75L259.31,987.25L259.98,987.57L260.65,988.21L261.32,988.66L261.98,987.99L262.65,987.35L263.32,987.1L263.98,985.71L264.65,986.63L265.32,986.34L265.99,986.06L266.65,984.82L267.32,984.07L267.99,985.2L268.65,985.79L269.32,986.84L269.99,984.77L270.66,981.83L271.32,981.14L272.66,981.48L273.32,980.27L273.99,978.38L274.66,977.02L275.33,973.47L275.99,970.79L276.66,967.69L277.33,965.14L277.99,960.31L278.66,952.69L279.33,941.69L280,925.86L280.66,901.26L281.33,859.73L282,784.12L282.66,710.9L285.33,710.9L286.67,731.71L287.33,835.22L288,890.31L288.67,921.35L289.34,941.95L290,954.44L290.67,964.16L291.34,970.32L292,974.73L292.67,977.75L293.34,980.28L294.01,981.58L294.67,983.3L295.34,983.85L296.01,985.59L296.67,986.29L297.34,986.72L298.01,987.24L299.34,987.9L300.01,988.62L300.68,989.36L301.34,989.8L302.68,990.51L303.35,990.98L304.68,991.34L306.68,991.79L309.35,991.42L312.02,991.53L312.69,992.2L315.35,992.36L318.02,992.46L320.69,992.8L323.36,992.83L326.03,993.02L328.7,992.93L331.37,992.9L334.03,993L336.7,993.15L338.7,992.89L341.37,992.9L344.04,992.9L346.71,993.04L349.38,992.95L352.05,993.05L354.72,993.06L357.38,992.9L360.05,992.97L362.72,993.01L365.39,992.89L368.06,992.84L370.73,993.09L373.4,993.09L376.06,993.03L378.73,993.04L380.07,992.75L381.4,993.01L384.07,992.93L386.74,992.93L389.41,992.85L392.08,993.08L394.75,993.08L397.41,992.99L400.08,993L402.75,993.14L405.42,993.14L408.09,993.08L410.76,992.96L413.43,992.97L416.09,992.94L418.76,993.07L421.43,993.27L424.1,993.05L426.77,992.99L429.44,993.13L432.11,993.11L434.77,993.07L437.44,993.12L440.11,993.11L442.78,993.03L445.45,993.09L448.12,993.05L450.79,993.03L453.45,993.07L456.12,993.15L458.79,993.26L460.79,992.84L463.46,993.1L466.13,993.15L468.8,993.19L470.8,993.11" fill="none" stroke="#ff7f0e" stroke-width="3.6" stroke-linejoin="round"/>
<path d="M101.2,1045.65L103.87,1045.48L106.54,1045.57L109.21,1045.48L111.87,1045.5L114.54,1045.68L115.88,1045.42L118.55,1045.63L121.21,1045.6L123.88,1045.56L126.55,1045.26L129.22,1045.2L131.89,1045.38L134.56,1045.36L136.56,1045.03L139.23,1045.31L141.9,1045.08L144.56,1045.12L147.23,1045.01L149.23,1044.75L151.24,1045.16L151.9,1045.46L153.9,1045.04L156.57,1044.78L157.91,1044.49L160.58,1044.43L162.58,1044.74L164.58,1044.11L167.25,1044.07L168.58,1043.77L169.25,1043.42L171.25,1043.68L171.92,1044.17L174.59,1043.77L175.92,1043.52L178.59,1043.55L179.92,1043.28L180.59,1043.53L181.92,1043.03L184.59,1043.05L185.93,1043.5L187.26,1043.23L188.6,1042.79L189.26,1043.92L189.93,1043.66L191.26,1042.84L192.6,1041.97L194.6,1042.33L195.27,1041.96L196.6,1042.54L197.27,1042.08L199.27,1043.23L200.61,1043.68L201.27,1042.9L202.61,1042.48L203.27,1042.81L203.94,1042.45L204.61,1041.62L205.28,1040.92L206.61,1041.55L207.28,1041.08L207.94,1041.99L209.95,1041.34L210.61,1040.45L211.28,1040.78L211.95,1040.03L213.28,1040.52L213.95,1040.94L214.62,1041.27L215.28,1040.97L215.95,1040.63L216.62,1041.72L218.62,1040.73L219.95,1040.23L220.62,1040.92L221.95,1041.5L222.62,1042.05L223.29,1043.25L223.96,1042.55L224.62,1042.03L225.29,1041.63L225.96,1040.79L226.62,1039.91L227.29,1039.51L227.96,1040.01L229.29,1040.61L229.96,1041.24L230.63,1040.42L231.96,1039.69L232.63,1038.78L233.3,1037.56L233.96,1036.37L234.63,1037.63L235.3,1038.53L235.96,1040.63L236.63,1039.06L237.3,1036.88L237.97,1035.64L238.63,1035.25L239.97,1033.8L240.63,1034.81L241.3,1034.01L241.97,1033.33L243.3,1032.83L243.97,1031.79L244.64,1029.81L245.3,1030.28L245.97,1030.9L246.64,1029.42L247.31,1028.27L247.97,1026.57L248.64,1025.4L249.31,1024.07L249.97,1022.38L250.64,1021.84L251.31,1020.81L251.98,1022.07L252.64,1018.43L253.31,1014.14L253.98,1011.39L254.64,1008.96L255.31,1003.83L255.98,995.69L256.65,980.29L257.31,957.55L257.98,922.41L258.65,863.26L259.31,731.17L259.98,710.9L262.65,710.9L263.32,809.72L263.98,899.24L264.65,947.43L265.32,975.83L265.99,987.92L266.65,998.06L267.32,1006.86L267.99,1010.9L268.65,1015.82L269.32,1019.92L269.99,1023.37L270.66,1025.78L271.32,1028.58L271.99,1032.16L272.66,1034.89L273.32,1035.82L273.99,1036.28L274.66,1032.8L275.33,1030.2L275.99,1028.11L276.66,1025.9L277.33,1026.36L277.99,1024.88L278.66,1025.32L279.33,1028.25L280,1031.12L280.66,1034.74L281.33,1035.81L282,1037.36L282.66,1038.75L283.33,1040.08L284,1041.33L284.67,1040.75L286,1041.03L288.67,1041.69L289.34,1042.19L290,1042.65L290.67,1042.93L291.34,1043.23L292,1043.5L293.34,1043.75L294.67,1044.03L295.34,1044.38L298.01,1044.31L298.68,1044.74L301.34,1045.35L302.68,1045.09L303.35,1044.74L305.35,1045L308.02,1044.8L310.68,1044.92L313.35,1044.99L315.35,1044.71L316.69,1045.05L318.69,1045.34L320.02,1045.59L322.69,1045.43L323.36,1045.13L324.03,1045.39L325.36,1045.72L326.03,1045.4L327.36,1045.14L329.36,1045.39L332.03,1045.33L332.7,1044.87L335.37,1045.24L337.37,1044.92L340.04,1044.57L342.71,1044.78L345.38,1045.02L348.04,1045.03L350.71,1045.31L352.05,1045.66L354.72,1045.65L357.38,1045.88L360.05,1045.74L362.72,1045.87L365.39,1045.76L368.06,1045.75L370.73,1045.77L373.4,1045.67L376.06,1045.62L378.73,1045.73L381.4,1045.84L384.07,1045.99L386.74,1046.02L389.41,1045.87L392.08,1045.94L394.75,1045.83L397.41,1045.88L400.08,1045.84L402.75,1045.68L405.42,1045.91L408.09,1046L410.76,1045.87L413.43,1045.87L416.09,1045.84L418.76,1045.91L421.43,1045.92L424.1,1045.88L426.77,1045.84L429.44,1046.04L432.11,1046.06L434.77,1046.06L437.44,1045.98L440.11,1045.97L442.78,1045.96L445.45,1046.04L448.12,1045.9L450.79,1045.92L453.45,1046.02L456.12,1046.03L458.79,1046.06L461.46,1046.23L464.13,1046.16L466.8,1046.06L469.47,1046.11L470.8,1046.06L470.8,1046.44L101.2,1046.44Z" fill="#2ca02c" fill-opacity="0.32"/>
<path d="M101.2,1045.65L103.87,1045.48L106.54,1045.57L109.21,1045.48L111.87,1045.5L114.54,1045.68L115.88,1045.42L118.55,1045.63L121.21,1045.6L123.88,1045.56L126.55,1045.26L129.22,1045.2L131.89,1045.38L134.56,1045.36L136.56,1045.03L139.23,1045.31L141.9,1045.08L144.56,1045.12L147.23,1045.01L149.23,1044.75L151.24,1045.16L151.9,1045.46L153.9,1045.04L156.57,1044.78L157.91,1044.49L160.58,1044.43L162.58,1044.74L164.58,1044.11L167.25,1044.07L168.58,1043.77L169.25,1043.42L171.25,1043.68L171.92,1044.17L174.59,1043.77L175.92,1043.52L178.59,1043.55L179.92,1043.28L180.59,1043.53L181.92,1043.03L184.59,1043.05L185.93,1043.5L187.26,1043.23L188.6,1042.79L189.26,1043.92L189.93,1043.66L191.26,1042.84L192.6,1041.97L194.6,1042.33L195.27,1041.96L196.6,1042.54L197.27,1042.08L199.27,1043.23L200.61,1043.68L201.27,1042.9L202.61,1042.48L203.27,1042.81L203.94,1042.45L204.61,1041.62L205.28,1040.92L206.61,1041.55L207.28,1041.08L207.94,1041.99L209.95,1041.34L210.61,1040.45L211.28,1040.78L211.95,1040.03L213.28,1040.52L213.95,1040.94L214.62,1041.27L215.28,1040.97L215.95,1040.63L216.62,1041.72L218.62,1040.73L219.95,1040.23L220.62,1040.92L221.95,1041.5L222.62,1042.05L223.29,1043.25L223.96,1042.55L224.62,1042.03L225.29,1041.63L225.96,1040.79L226.62,1039.91L227.29,1039.51L227.96,1040.01L229.29,1040.61L229.96,1041.24L230.63,1040.42L231.96,1039.69L232.63,1038.78L233.3,1037.56L233.96,1036.37L234.63,1037.63L235.3,1038.53L235.96,1040.63L236.63,1039.06L237.3,1036.88L237.97,1035.64L238.63,1035.25L239.97,1033.8L240.63,1034.81L241.3,1034.01L241.97,1033.33L243.3,1032.83L243.97,1031.79L244.64,1029.81L245.3,1030.28L245.97,1030.9L246.64,1029.42L247.31,1028.27L247.97,1026.57L248.64,1025.4L249.31,1024.07L249.97,1022.38L250.64,1021.84L251.31,1020.81L251.98,1022.07L252.64,1018.43L253.31,1014.14L253.98,1011.39L254.64,1008.96L255.31,1003.83L255.98,995.69L256.65,980.29L257.31,957.55L257.98,922.41L258.65,863.26L259.31,731.17L259.98,710.9L262.65,710.9L263.32,809.72L263.98,899.24L264.65,947.43L265.32,975.83L265.99,987.92L266.65,998.06L267.32,1006.86L267.99,1010.9L268.65,1015.82L269.32,1019.92L269.99,1023.37L270.66,1025.78L271.32,1028.58L271.99,1032.16L272.66,1034.89L273.32,1035.82L273.99,1036.28L274.66,1032.8L275.33,1030.2L275.99,1028.11L276.66,1025.9L277.33,1026.36L277.99,1024.88L278.66,1025.32L279.33,1028.25L280,1031.12L280.66,1034.74L281.33,1035.81L282,1037.36L282.66,1038.75L283.33,1040.08L284,1041.33L284.67,1040.75L286,1041.03L288.67,1041.69L289.34,1042.19L290,1042.65L290.67,1042.93L291.34,1043.23L292,1043.5L293.34,1043.75L294.67,1044.03L295.34,1044.38L298.01,1044.31L298.68,1044.74L301.34,1045.35L302.68,1045.09L303.35,1044.74L305.35,1045L308.02,1044.8L310.68,1044.92L313.35,1044.99L315.35,1044.71L316.69,1045.05L318.69,1045.34L320.02,1045.59L322.69,1045.43L323.36,1045.13L324.03,1045.39L325.36,1045.72L326.03,1045.4L327.36,1045.14L329.36,1045.39L332.03,1045.33L332.7,1044.87L335.37,1045.24L337.37,1044.92L340.04,1044.57L342.71,1044.78L345.38,1045.02L348.04,1045.03L350.71,1045.31L352.05,1045.66L354.72,1045.65L357.38,1045.88L360.05,1045.74L362.72,1045.87L365.39,1045.76L368.06,1045.75L370.73,1045.77L373.4,1045.67L376.06,1045.62L378.73,1045.73L381.4,1045.84L384.07,1045.99L386.74,1046.02L389.41,1045.87L392.08,1045.94L394.75,1045.83L397.41,1045.88L400.08,1045.84L402.75,1045.68L405.42,1045.91L408.09,1046L410.76,1045.87L413.43,1045.87L416.09,1045.84L418.76,1045.91L421.43,1045.92L424.1,1045.88L426.77,1045.84L429.44,1046.04L432.11,1046.06L434.77,1046.06L437.44,1045.98L440.11,1045.97L442.78,1045.96L445.45,1046.04L448.12,1045.9L450.79,1045.92L453.45,1046.02L456.12,1046.03L458.79,1046.06L461.46,1046.23L464.13,1046.16L466.8,1046.06L469.47,1046.11L470.8,1046.06" fill="none" stroke="#2ca02c" stroke-width="3.6" stroke-linejoin="round"/>
<path d="M101.2,1098.18L103.87,1098.15L106.54,1097.99L109.21,1098.09L111.87,1098.2L114.54,1098.32L116.54,1098.05L119.21,1098.08L121.88,1098.23L123.22,1097.83L125.88,1097.65L128.55,1097.45L131.22,1097.7L133.22,1097.97L135.89,1097.87L138.56,1097.83L139.23,1097.4L141.23,1096.95L141.9,1096.48L143.9,1096.75L145.23,1097.12L145.9,1096.83L147.23,1096.55L148.57,1096.87L150.57,1096.2L151.9,1095.63L153.9,1096.06L156.57,1096.04L157.24,1095.6L159.24,1096.1L159.91,1095.3L162.58,1095.89L164.58,1095.62L165.25,1095.07L166.58,1094.71L167.25,1095.47L167.91,1094.82L169.25,1095.08L171.92,1094.96L172.58,1094.69L173.25,1093.59L173.92,1093.92L174.59,1093.55L175.25,1092.94L175.92,1092.27L177.25,1092.8L177.92,1092.08L178.59,1091.25L179.26,1092.53L179.92,1092.04L181.26,1089.87L181.92,1090.53L183.26,1092.33L183.93,1092.04L184.59,1092.67L185.93,1092.24L186.59,1091.28L187.26,1090.88L188.6,1088.93L189.26,1087.67L189.93,1085.75L190.6,1086.55L191.26,1087.27L191.93,1087.7L192.6,1088.27L193.27,1087.62L193.93,1089.18L194.6,1088.16L195.27,1089.8L195.94,1089.03L197.27,1087.23L197.94,1087.58L199.27,1086.86L199.94,1084.53L200.61,1083.78L201.27,1084.15L201.94,1085.49L203.27,1082.74L203.94,1083.69L204.61,1084.69L205.94,1083.98L206.61,1083.08L207.28,1083.41L207.94,1080.83L208.61,1081.15L209.28,1080.19L209.95,1082.68L210.61,1081.14L211.28,1080.46L211.95,1078.58L212.61,1080.16L213.28,1081.17L213.95,1079.23L214.62,1078.13L215.28,1076.82L215.95,1075.12L216.62,1073.3L217.28,1075.32L217.95,1074.08L218.62,1070.97L219.29,1068.71L219.95,1066.92L221.29,1067.3L221.95,1071.04L222.62,1070.72L223.29,1068.74L224.62,1065.99L225.29,1063.31L225.96,1061.17L226.62,1063.5L227.29,1067.66L227.96,1067.11L228.63,1067.79L229.29,1062.87L230.63,1057.92L231.29,1064.24L231.96,1058.47L232.63,1054.7L233.3,1040.9L233.96,1029.96L234.63,1004.74L235.3,963.21L235.96,873.7L236.63,710.9L239.3,794.56L239.97,929.66L240.63,995.85L241.3,1024.56L241.97,1047.23L242.64,1055.65L243.3,1066.05L243.97,1071.52L244.64,1076.65L245.3,1081.11L245.97,1080.58L246.64,1077.22L247.31,1069.44L247.97,1068.52L248.64,1062.46L249.31,1059.64L249.97,1052.19L250.64,1045.78L251.31,1040.22L251.98,1042.01L252.64,1043.36L253.31,1051.58L253.98,1039.54L254.64,1043.96L255.31,1037.6L255.98,1049L257.31,1054.31L257.98,1052.23L258.65,1053.92L259.31,1050.71L259.98,1059.96L260.65,1061.61L261.32,1068.24L261.98,1069.12L262.65,1073.74L263.32,1075.72L263.98,1076.86L264.65,1078.22L265.32,1080.79L265.99,1082.92L266.65,1081.3L267.32,1081.85L267.99,1081.1L268.65,1082.84L269.32,1083.14L269.99,1086.13L270.66,1087.05L271.32,1087.81L271.99,1086.37L272.66,1087.1L273.32,1088.77L273.99,1090.65L275.33,1089.76L275.99,1090.3L276.66,1091.37L277.33,1092.13L277.99,1092.51L278.66,1092.09L279.33,1092.65L280.66,1093.53L281.33,1094.23L282.66,1095.07L283.33,1094.75L285.33,1095.14L286,1095.97L288,1095.37L289.34,1095.65L290.67,1096.31L292,1096.73L292.67,1097.04L294.01,1096.73L294.67,1096.25L295.34,1096.61L296.67,1097.28L299.34,1097.51L300.01,1097.89L302.68,1097.8L303.35,1098.08L305.35,1097.7L308.02,1097.69L308.68,1097.09L310.02,1096.63L311.35,1095.97L312.02,1095.53L312.69,1094.76L314.02,1095.47L316.69,1095.88L317.36,1096.57L318.02,1097.12L318.69,1097.74L319.36,1098.08L320.02,1098.63L322.69,1098.76L325.36,1098.9L328.03,1098.83L330.7,1098.88L333.37,1099.04L336.04,1098.79L338.7,1099.01L341.37,1098.85L344.04,1098.97L346.71,1098.97L349.38,1098.98L352.05,1098.93L354.72,1098.97L357.38,1098.97L360.05,1098.86L362.72,1098.88L365.39,1098.74L368.06,1098.89L370.73,1098.92L373.4,1098.93L376.06,1098.91L378.73,1099L381.4,1098.87L384.07,1098.91L386.74,1098.97L389.41,1098.98L392.08,1099L394.75,1098.97L397.41,1098.96L400.08,1098.88L402.75,1098.86L405.42,1098.93L408.09,1099.01L410.76,1099.01L413.43,1098.94L416.09,1098.94L418.76,1098.97L421.43,1099.04L424.1,1098.99L426.77,1098.97L429.44,1098.99L432.11,1098.91L434.77,1098.99L437.44,1098.99L440.11,1099L442.78,1098.98L445.45,1099.09L448.12,1099.16L450.79,1099.09L453.45,1099.03L456.12,1099.07L458.79,1099.22L461.46,1099.11L464.13,1099.1L466.8,1099.02L469.47,1099.07L470.8,1099.06L470.8,1099.42L101.2,1099.42Z" fill="#d62728" fill-opacity="0.32"/>
<path d="M101.2,1098.18L103.87,1098.15L106.54,1097.99L109.21,1098.09L111.87,1098.2L114.54,1098.32L116.54,1098.05L119.21,1098.08L121.88,1098.23L123.22,1097.83L125.88,1097.65L128.55,1097.45L131.22,1097.7L133.22,1097.97L135.89,1097.87L138.56,1097.83L139.23,1097.4L141.23,1096.95L141.9,1096.48L143.9,1096.75L145.23,1097.12L145.9,1096.83L147.23,1096.55L148.57,1096.87L150.57,1096.2L151.9,1095.63L153.9,1096.06L156.57,1096.04L157.24,1095.6L159.24,1096.1L159.91,1095.3L162.58,1095.89L164.58,1095.62L165.25,1095.07L166.58,1094.71L167.25,1095.47L167.91,1094.82L169.25,1095.08L171.92,1094.96L172.58,1094.69L173.25,1093.59L173.92,1093.92L174.59,1093.55L175.25,1092.94L175.92,1092.27L177.25,1092.8L177.92,1092.08L178.59,1091.25L179.26,1092.53L179.92,1092.04L181.26,1089.87L181.92,1090.53L183.26,1092.33L183.93,1092.04L184.59,1092.67L185.93,1092.24L186.59,1091.28L187.26,1090.88L188.6,1088.93L189.26,1087.67L189.93,1085.75L190.6,1086.55L191.26,1087.27L191.93,1087.7L192.6,1088.27L193.27,1087.62L193.93,1089.18L194.6,1088.16L195.27,1089.8L195.94,1089.03L197.27,1087.23L197.94,1087.58L199.27,1086.86L199.94,1084.53L200.61,1083.78L201.27,1084.15L201.94,1085.49L203.27,1082.74L203.94,1083.69L204.61,1084.69L205.94,1083.98L206.61,1083.08L207.28,1083.41L207.94,1080.83L208.61,1081.15L209.28,1080.19L209.95,1082.68L210.61,1081.14L211.28,1080.46L211.95,1078.58L212.61,1080.16L213.28,1081.17L213.95,1079.23L214.62,1078.13L215.28,1076.82L215.95,1075.12L216.62,1073.3L217.28,1075.32L217.95,1074.08L218.62,1070.97L219.29,1068.71L219.95,1066.92L221.29,1067.3L221.95,1071.04L222.62,1070.72L223.29,1068.74L224.62,1065.99L225.29,1063.31L225.96,1061.17L226.62,1063.5L227.29,1067.66L227.96,1067.11L228.63,1067.79L229.29,1062.87L230.63,1057.92L231.29,1064.24L231.96,1058.47L232.63,1054.7L233.3,1040.9L233.96,1029.96L234.63,1004.74L235.3,963.21L235.96,873.7L236.63,710.9L239.3,794.56L239.97,929.66L240.63,995.85L241.3,1024.56L241.97,1047.23L242.64,1055.65L243.3,1066.05L243.97,1071.52L244.64,1076.65L245.3,1081.11L245.97,1080.58L246.64,1077.22L247.31,1069.44L247.97,1068.52L248.64,1062.46L249.31,1059.64L249.97,1052.19L250.64,1045.78L251.31,1040.22L251.98,1042.01L252.64,1043.36L253.31,1051.58L253.98,1039.54L254.64,1043.96L255.31,1037.6L255.98,1049L257.31,1054.31L257.98,1052.23L258.65,1053.92L259.31,1050.71L259.98,1059.96L260.65,1061.61L261.32,1068.24L261.98,1069.12L262.65,1073.74L263.32,1075.72L263.98,1076.86L264.65,1078.22L265.32,1080.79L265.99,1082.92L266.65,1081.3L267.32,1081.85L267.99,1081.1L268.65,1082.84L269.32,1083.14L269.99,1086.13L270.66,1087.05L271.32,1087.81L271.99,1086.37L272.66,1087.1L273.32,1088.77L273.99,1090.65L275.33,1089.76L275.99,1090.3L276.66,1091.37L277.33,1092.13L277.99,1092.51L278.66,1092.09L279.33,1092.65L280.66,1093.53L281.33,1094.23L282.66,1095.07L283.33,1094.75L285.33,1095.14L286,1095.97L288,1095.37L289.34,1095.65L290.67,1096.31L292,1096.73L292.67,1097.04L294.01,1096.73L294.67,1096.25L295.34,1096.61L296.67,1097.28L299.34,1097.51L300.01,1097.89L302.68,1097.8L303.35,1098.08L305.35,1097.7L308.02,1097.69L308.68,1097.09L310.02,1096.63L311.35,1095.97L312.02,1095.53L312.69,1094.76L314.02,1095.47L316.69,1095.88L317.36,1096.57L318.02,1097.12L318.69,1097.74L319.36,1098.08L320.02,1098.63L322.69,1098.76L325.36,1098.9L328.03,1098.83L330.7,1098.88L333.37,1099.04L336.04,1098.79L338.7,1099.01L341.37,1098.85L344.04,1098.97L346.71,1098.97L349.38,1098.98L352.05,1098.93L354.72,1098.97L357.38,1098.97L360.05,1098.86L362.72,1098.88L365.39,1098.74L368.06,1098.89L370.73,1098.92L373.4,1098.93L376.06,1098.91L378.73,1099L381.4,1098.87L384.07,1098.91L386.74,1098.97L389.41,1098.98L392.08,1099L394.75,1098.97L397.41,1098.96L400.08,1098.88L402.75,1098.86L405.42,1098.93L408.09,1099.01L410.76,1099.01L413.43,1098.94L416.09,1098.94L418.76,1098.97L421.43,1099.04L424.1,1098.99L426.77,1098.97L429.44,1098.99L432.11,1098.91L434.77,1098.99L437.44,1098.99L440.11,1099L442.78,1098.98L445.45,1099.09L448.12,1099.16L450.79,1099.09L453.45,1099.03L456.12,1099.07L458.79,1099.22L461.46,1099.11L464.13,1099.1L466.8,1099.02L469.47,1099.07L470.8,1099.06" fill="none" stroke="#d62728" stroke-width="3.6" stroke-linejoin="round"/>
<path d="M101.2,1152.35L103.87,1152.23L106.54,1152.14L109.21,1151.87L111.87,1151.63L114.54,1151.6L117.21,1151.3L118.55,1151.02L121.21,1150.88L123.22,1151.28L123.88,1150.92L125.88,1150.42L127.89,1150.14L128.55,1149.77L129.22,1149.41L130.55,1149.09L131.22,1148.8L131.89,1148.06L132.56,1148.42L133.22,1148.72L133.89,1149.03L136.56,1149.44L137.89,1150.09L139.23,1148.72L140.56,1148.37L141.23,1148.94L141.9,1148.61L142.56,1147.54L143.23,1145.83L143.9,1144.31L144.56,1143.54L145.9,1143.16L146.57,1143.89L147.23,1145.56L147.9,1146.75L148.57,1146.07L149.23,1145L150.57,1144.55L152.57,1143.16L153.24,1142.52L153.9,1140.58L154.57,1141.51L155.24,1140.19L155.91,1137.87L156.57,1137.56L157.24,1138.16L157.91,1140.72L159.24,1140.25L159.91,1138.5L161.24,1137.35L161.91,1136.84L163.24,1134.85L163.91,1136.27L164.58,1135.72L165.25,1134.64L165.91,1134.06L166.58,1134.89L167.25,1138.35L167.91,1135.9L168.58,1135.34L169.25,1133.88L169.92,1136.34L171.25,1132.79L171.92,1133.53L172.58,1132.54L173.25,1135.59L174.59,1134.86L175.25,1132.85L175.92,1130.5L176.59,1127.83L177.25,1128.81L177.92,1126.14L178.59,1128L179.26,1132.7L179.92,1137.26L180.59,1136.63L181.26,1132.11L181.92,1129.51L182.59,1130.21L183.26,1133.44L183.93,1134L185.26,1131.73L185.93,1129.75L187.26,1130.51L187.93,1127.26L188.6,1126.75L189.26,1126.07L189.93,1127.15L190.6,1123.62L191.26,1118.87L191.93,1116.02L192.6,1112.92L193.27,1111.96L193.93,1115.15L194.6,1115.66L195.27,1114.99L196.6,1118.24L197.27,1119.94L197.94,1119.32L198.6,1121.02L199.27,1121.9L199.94,1119.84L200.61,1113.2L201.27,1117.85L201.94,1120.67L202.61,1125.14L203.27,1122.47L203.94,1123.45L205.28,1119.91L205.94,1121.69L206.61,1126.88L207.28,1131.34L207.94,1127.3L208.61,1125.38L209.28,1122.92L209.95,1118.76L210.61,1107.41L211.28,1090.46L211.95,1045.55L212.61,906.95L213.28,710.9L214.62,961.73L215.28,1060.98L215.95,1096.83L216.62,1113.07L217.28,1117.8L217.95,1121.85L218.62,1123.26L219.29,1126.13L219.95,1132.1L220.62,1130.2L221.29,1130.6L221.95,1126.23L222.62,1121.85L223.29,1120.72L223.96,1124.95L224.62,1123.84L225.29,1117.15L225.96,1108.85L226.62,1107.8L227.29,1100.01L227.96,1101.8L228.63,1100.68L229.29,1112.17L229.96,1105.18L230.63,1109.64L231.29,1104.31L231.96,1096.09L232.63,1088.83L233.3,1093.46L233.96,1092.02L234.63,1099.32L235.3,1093.35L235.96,1092.26L236.63,1090.78L237.3,1092.54L237.97,1093.41L238.63,1086.74L239.3,1084.23L239.97,1082.15L240.63,1083L241.3,1086.82L241.97,1091.54L242.64,1094.97L243.3,1094.61L243.97,1107.33L244.64,1110.51L245.3,1111.88L245.97,1106.69L246.64,1116.15L247.31,1118.7L247.97,1120.03L248.64,1114.62L249.31,1118.12L249.97,1121.1L250.64,1121.56L251.31,1121.18L251.98,1116.8L252.64,1122.98L253.98,1126.18L255.31,1124.3L255.98,1125.47L256.65,1123.29L257.31,1126.59L257.98,1127.46L258.65,1126.76L259.31,1125.32L259.98,1124.78L260.65,1126.09L261.32,1124.69L261.98,1126.13L262.65,1128.52L263.32,1132.98L263.98,1134.82L264.65,1136.51L265.32,1137.3L265.99,1138.59L266.65,1138.25L267.32,1140.22L269.32,1140.62L269.99,1141.56L270.66,1142.55L271.32,1142.82L272.66,1143.74L273.32,1144.81L273.99,1146.56L274.66,1145.73L275.33,1144.87L277.33,1146.33L277.99,1146.79L278.66,1145.8L280,1144.72L280.66,1145.25L282.66,1146.29L284,1145.58L284.67,1146.9L285.33,1145.45L286,1146.63L286.67,1145.94L287.33,1146.68L288,1145.67L288.67,1144.28L289.34,1143.52L290,1144.07L290.67,1141.26L291.34,1140.1L292,1142.08L292.67,1143.62L293.34,1145.45L294.01,1147.1L294.67,1149.38L295.34,1151.06L296.01,1151.42L298.68,1151.72L301.34,1151.9L304.01,1152.08L306.68,1152.04L309.35,1152.08L312.02,1151.98L314.69,1151.99L317.36,1152.1L320.02,1152.12L322.69,1152.1L325.36,1152.14L328.03,1152.06L330.7,1152.09L333.37,1152.12L336.04,1152.1L338.7,1152.14L341.37,1152.13L344.04,1152.08L346.71,1152.15L349.38,1152.18L352.05,1152.1L354.72,1152.1L357.38,1152.14L360.05,1152.18L362.72,1152.18L365.39,1152.09L368.06,1152.07L370.73,1152.16L373.4,1152.15L376.06,1152.17L378.73,1152.15L381.4,1152.15L384.07,1152.12L386.74,1152.11L389.41,1152.1L392.08,1152.04L394.75,1152.12L397.41,1152.06L400.08,1152.1L402.75,1152.13L405.42,1152.19L408.09,1152.14L410.76,1152.07L413.43,1152.1L416.09,1152.14L418.76,1152.16L421.43,1152.14L424.1,1152.18L426.77,1152.16L429.44,1152.18L432.11,1152.22L434.77,1152.18L437.44,1152.21L440.11,1152.22L442.78,1152.2L445.45,1152.19L448.12,1152.19L450.79,1152.21L453.45,1152.28L456.12,1152.15L458.79,1152.22L461.46,1152.16L464.13,1152.25L466.8,1152.2L469.47,1152.18L470.8,1152.22L470.8,1152.4L101.2,1152.4Z" fill="#9467bd" fill-opacity="0.32"/>
<path d="M101.2,1152.35L103.87,1152.23L106.54,1152.14L109.21,1151.87L111.87,1151.63L114.54,1151.6L117.21,1151.3L118.55,1151.02L121.21,1150.88L123.22,1151.28L123.88,1150.92L125.88,1150.42L127.89,1150.14L128.55,1149.77L129.22,1149.41L130.55,1149.09L131.22,1148.8L131.89,1148.06L132.56,1148.42L133.22,1148.72L133.89,1149.03L136.56,1149.44L137.89,1150.09L139.23,1148.72L140.56,1148.37L141.23,1148.94L141.9,1148.61L142.56,1147.54L143.23,1145.83L143.9,1144.31L144.56,1143.54L145.9,1143.16L146.57,1143.89L147.23,1145.56L147.9,1146.75L148.57,1146.07L149.23,1145L150.57,1144.55L152.57,1143.16L153.24,1142.52L153.9,1140.58L154.57,1141.51L155.24,1140.19L155.91,1137.87L156.57,1137.56L157.24,1138.16L157.91,1140.72L159.24,1140.25L159.91,1138.5L161.24,1137.35L161.91,1136.84L163.24,1134.85L163.91,1136.27L164.58,1135.72L165.25,1134.64L165.91,1134.06L166.58,1134.89L167.25,1138.35L167.91,1135.9L168.58,1135.34L169.25,1133.88L169.92,1136.34L171.25,1132.79L171.92,1133.53L172.58,1132.54L173.25,1135.59L174.59,1134.86L175.25,1132.85L175.92,1130.5L176.59,1127.83L177.25,1128.81L177.92,1126.14L178.59,1128L179.26,1132.7L179.92,1137.26L180.59,1136.63L181.26,1132.11L181.92,1129.51L182.59,1130.21L183.26,1133.44L183.93,1134L185.26,1131.73L185.93,1129.75L187.26,1130.51L187.93,1127.26L188.6,1126.75L189.26,1126.07L189.93,1127.15L190.6,1123.62L191.26,1118.87L191.93,1116.02L192.6,1112.92L193.27,1111.96L193.93,1115.15L194.6,1115.66L195.27,1114.99L196.6,1118.24L197.27,1119.94L197.94,1119.32L198.6,1121.02L199.27,1121.9L199.94,1119.84L200.61,1113.2L201.27,1117.85L201.94,1120.67L202.61,1125.14L203.27,1122.47L203.94,1123.45L205.28,1119.91L205.94,1121.69L206.61,1126.88L207.28,1131.34L207.94,1127.3L208.61,1125.38L209.28,1122.92L209.95,1118.76L210.61,1107.41L211.28,1090.46L211.95,1045.55L212.61,906.95L213.28,710.9L214.62,961.73L215.28,1060.98L215.95,1096.83L216.62,1113.07L217.28,1117.8L217.95,1121.85L218.62,1123.26L219.29,1126.13L219.95,1132.1L220.62,1130.2L221.29,1130.6L221.95,1126.23L222.62,1121.85L223.29,1120.72L223.96,1124.95L224.62,1123.84L225.29,1117.15L225.96,1108.85L226.62,1107.8L227.29,1100.01L227.96,1101.8L228.63,1100.68L229.29,1112.17L229.96,1105.18L230.63,1109.64L231.29,1104.31L231.96,1096.09L232.63,1088.83L233.3,1093.46L233.96,1092.02L234.63,1099.32L235.3,1093.35L235.96,1092.26L236.63,1090.78L237.3,1092.54L237.97,1093.41L238.63,1086.74L239.3,1084.23L239.97,1082.15L240.63,1083L241.3,1086.82L241.97,1091.54L242.64,1094.97L243.3,1094.61L243.97,1107.33L244.64,1110.51L245.3,1111.88L245.97,1106.69L246.64,1116.15L247.31,1118.7L247.97,1120.03L248.64,1114.62L249.31,1118.12L249.97,1121.1L250.64,1121.56L251.31,1121.18L251.98,1116.8L252.64,1122.98L253.98,1126.18L255.31,1124.3L255.98,1125.47L256.65,1123.29L257.31,1126.59L257.98,1127.46L258.65,1126.76L259.31,1125.32L259.98,1124.78L260.65,1126.09L261.32,1124.69L261.98,1126.13L262.65,1128.52L263.32,1132.98L263.98,1134.82L264.65,1136.51L265.32,1137.3L265.99,1138.59L266.65,1138.25L267.32,1140.22L269.32,1140.62L269.99,1141.56L270.66,1142.55L271.32,1142.82L272.66,1143.74L273.32,1144.81L273.99,1146.56L274.66,1145.73L275.33,1144.87L277.33,1146.33L277.99,1146.79L278.66,1145.8L280,1144.72L280.66,1145.25L282.66,1146.29L284,1145.58L284.67,1146.9L285.33,1145.45L286,1146.63L286.67,1145.94L287.33,1146.68L288,1145.67L288.67,1144.28L289.34,1143.52L290,1144.07L290.67,1141.26L291.34,1140.1L292,1142.08L292.67,1143.62L293.34,1145.45L294.01,1147.1L294.67,1149.38L295.34,1151.06L296.01,1151.42L298.68,1151.72L301.34,1151.9L304.01,1152.08L306.68,1152.04L309.35,1152.08L312.02,1151.98L314.69,1151.99L317.36,1152.1L320.02,1152.12L322.69,1152.1L325.36,1152.14L328.03,1152.06L330.7,1152.09L333.37,1152.12L336.04,1152.1L338.7,1152.14L341.37,1152.13L344.04,1152.08L346.71,1152.15L349.38,1152.18L352.05,1152.1L354.72,1152.1L357.38,1152.14L360.05,1152.18L362.72,1152.18L365.39,1152.09L368.06,1152.07L370.73,1152.16L373.4,1152.15L376.06,1152.17L378.73,1152.15L381.4,1152.15L384.07,1152.12L386.74,1152.11L389.41,1152.1L392.08,1152.04L394.75,1152.12L397.41,1152.06L400.08,1152.1L402.75,1152.13L405.42,1152.19L408.09,1152.14L410.76,1152.07L413.43,1152.1L416.09,1152.14L418.76,1152.16L421.43,1152.14L424.1,1152.18L426.77,1152.16L429.44,1152.18L432.11,1152.22L434.77,1152.18L437.44,1152.21L440.11,1152.22L442.78,1152.2L445.45,1152.19L448.12,1152.19L450.79,1152.21L453.45,1152.28L456.12,1152.15L458.79,1152.22L461.46,1152.16L464.13,1152.25L466.8,1152.2L469.47,1152.18L470.8,1152.22" fill="none" stroke="#9467bd" stroke-width="3.6" stroke-linejoin="round"/>
</g>
<clipPath id="clipe"><rect x="470.8" y="761.0" width="370" height="391.4"/></clipPath>
<rect x="470.8" y="761.0" width="370" height="391.4" fill="#dcdcdc"/>
<g clip-path="url(#clipe)">
<path d="M499,1152.4L606.22,940.48" stroke="#fff" stroke-opacity="0.68" stroke-width="3.5" stroke-dasharray="9.5,4.5"/>
<path d="M636,1152.4L743.22,940.48" stroke="#fff" stroke-opacity="0.68" stroke-width="3.5"/>
<path d="M773,1152.4L880.22,940.48" stroke="#fff" stroke-opacity="0.68" stroke-width="3.5" stroke-dasharray="9.5,4.5"/>
<path d="M470.8,939.74L473.47,939.79L476.14,939.68L478.81,939.73L481.49,939.77L484.16,939.77L486.83,939.69L489.5,939.76L492.17,939.75L494.84,939.65L497.51,939.66L500.19,939.77L502.86,939.71L505.53,939.68L508.2,939.64L510.87,939.79L513.54,939.48L516.22,939.53L518.89,939.65L521.56,939.54L524.23,939.62L526.9,939.57L529.57,939.66L532.24,939.38L534.92,939.44L537.59,939.58L540.26,939.63L542.93,939.68L545.6,939.53L548.27,939.5L550.94,939.52L553.62,939.54L556.29,939.45L558.96,939.33L561.63,939.36L564.3,939.5L566.97,939.28L569.64,939.03L572.32,938.77L574.32,938.27L576.99,938.13L578.99,937.69L579.66,936.95L580.33,936.37L581,935.68L581.67,935.17L582.33,934.17L583,933.73L583.67,932.88L585.01,933.18L585.67,933.81L586.34,934.61L587.68,935.26L588.35,935.7L589.01,936.21L590.35,936.82L591.68,936.54L592.35,935.81L593.69,935.38L594.36,934.55L595.02,934.11L595.69,933.73L597.03,933.38L597.7,932.94L598.36,932.18L599.03,931.56L599.7,930.79L600.37,930.13L601.03,929.51L601.7,928.62L602.37,928.21L603.04,928.55L604.37,928.03L605.71,929.79L606.38,930.77L607.05,932.13L608.38,933.23L609.05,933.74L609.72,934.43L610.38,935.06L611.05,935.47L611.72,935.93L612.39,936.44L613.06,936.96L614.39,937.38L617.06,937.73L619.74,938.03L622.41,937.93L625.08,938.24L627.75,938.34L630.42,938.13L631.76,937.77L634.43,937.74L635.76,937.1L637.1,936.65L639.1,936.21L640.44,935.78L641.11,936.12L643.11,935.56L643.78,935.2L644.45,934.84L645.78,934.53L647.79,934.06L648.45,933.52L649.12,933L649.79,932.32L651.79,932.94L652.46,932.59L653.13,931.92L653.8,931.29L655.8,931.69L657.14,931.08L657.8,929.74L658.47,929.15L659.14,927.91L659.81,927.57L661.14,926.35L661.81,925.81L662.48,925.33L663.15,926.32L663.81,925.59L664.48,924.36L665.15,922.05L665.82,921.44L666.49,918.74L667.15,921.11L667.82,919.69L668.49,919.24L669.16,916.28L669.83,913.37L670.49,911.8L671.16,908.32L671.83,906.25L672.5,900.99L673.16,897.64L673.83,893.39L674.5,891.55L675.17,883.51L675.84,877.59L676.5,860.89L677.17,856.66L677.84,840.21L678.51,829.58L679.18,813.45L679.84,803.43L680.51,790.88L681.18,782.29L681.85,766.77L682.51,731.42L683.18,710.9L685.85,710.9L688.53,710.9L691.2,728.66L691.86,781.18L692.53,844.28L693.2,903.93L693.87,913.35L694.54,922.33L695.2,928.24L695.87,931.27L696.54,934.25L697.21,936.72L699.21,937.04L700.55,937.52L701.88,938.27L703.22,938.85L705.89,939.01L708.56,939.04L711.23,939.14L713.9,939.18L716.58,939.1L719.25,939.06L721.92,939L724.59,939.07L725.93,939.4L728.6,939.32L731.27,939.13L733.94,939.17L736.61,939.17L739.28,939.38L741.96,939.29L744.63,939.24L747.3,939.38L749.97,939.31L752.64,939.32L755.31,939.27L757.32,939.54L759.32,939.28L761.99,939.45L764.66,939.42L767.33,939.36L770.01,939.42L772.68,939.46L775.35,939.44L778.02,939.4L780.69,939.32L783.36,939.34L786.03,939.47L788.71,939.57L791.38,939.67L794.05,939.52L796.72,939.49L799.39,939.45L802.06,939.53L804.74,939.62L807.41,939.57L810.08,939.54L812.75,939.65L815.42,939.74L818.09,939.71L820.76,939.69L823.44,939.65L826.11,939.77L828.78,939.76L831.45,939.71L834.12,939.64L836.79,939.66L839.46,939.78L840.8,939.73L840.8,940.48L470.8,940.48Z" fill="#1f77b4" fill-opacity="0.32"/>
<path d="M470.8,939.74L473.47,939.79L476.14,939.68L478.81,939.73L481.49,939.77L484.16,939.77L486.83,939.69L489.5,939.76L492.17,939.75L494.84,939.65L497.51,939.66L500.19,939.77L502.86,939.71L505.53,939.68L508.2,939.64L510.87,939.79L513.54,939.48L516.22,939.53L518.89,939.65L521.56,939.54L524.23,939.62L526.9,939.57L529.57,939.66L532.24,939.38L534.92,939.44L537.59,939.58L540.26,939.63L542.93,939.68L545.6,939.53L548.27,939.5L550.94,939.52L553.62,939.54L556.29,939.45L558.96,939.33L561.63,939.36L564.3,939.5L566.97,939.28L569.64,939.03L572.32,938.77L574.32,938.27L576.99,938.13L578.99,937.69L579.66,936.95L580.33,936.37L581,935.68L581.67,935.17L582.33,934.17L583,933.73L583.67,932.88L585.01,933.18L585.67,933.81L586.34,934.61L587.68,935.26L588.35,935.7L589.01,936.21L590.35,936.82L591.68,936.54L592.35,935.81L593.69,935.38L594.36,934.55L595.02,934.11L595.69,933.73L597.03,933.38L597.7,932.94L598.36,932.18L599.03,931.56L599.7,930.79L600.37,930.13L601.03,929.51L601.7,928.62L602.37,928.21L603.04,928.55L604.37,928.03L605.71,929.79L606.38,930.77L607.05,932.13L608.38,933.23L609.05,933.74L609.72,934.43L610.38,935.06L611.05,935.47L611.72,935.93L612.39,936.44L613.06,936.96L614.39,937.38L617.06,937.73L619.74,938.03L622.41,937.93L625.08,938.24L627.75,938.34L630.42,938.13L631.76,937.77L634.43,937.74L635.76,937.1L637.1,936.65L639.1,936.21L640.44,935.78L641.11,936.12L643.11,935.56L643.78,935.2L644.45,934.84L645.78,934.53L647.79,934.06L648.45,933.52L649.12,933L649.79,932.32L651.79,932.94L652.46,932.59L653.13,931.92L653.8,931.29L655.8,931.69L657.14,931.08L657.8,929.74L658.47,929.15L659.14,927.91L659.81,927.57L661.14,926.35L661.81,925.81L662.48,925.33L663.15,926.32L663.81,925.59L664.48,924.36L665.15,922.05L665.82,921.44L666.49,918.74L667.15,921.11L667.82,919.69L668.49,919.24L669.16,916.28L669.83,913.37L670.49,911.8L671.16,908.32L671.83,906.25L672.5,900.99L673.16,897.64L673.83,893.39L674.5,891.55L675.17,883.51L675.84,877.59L676.5,860.89L677.17,856.66L677.84,840.21L678.51,829.58L679.18,813.45L679.84,803.43L680.51,790.88L681.18,782.29L681.85,766.77L682.51,731.42L683.18,710.9L685.85,710.9L688.53,710.9L691.2,728.66L691.86,781.18L692.53,844.28L693.2,903.93L693.87,913.35L694.54,922.33L695.2,928.24L695.87,931.27L696.54,934.25L697.21,936.72L699.21,937.04L700.55,937.52L701.88,938.27L703.22,938.85L705.89,939.01L708.56,939.04L711.23,939.14L713.9,939.18L716.58,939.1L719.25,939.06L721.92,939L724.59,939.07L725.93,939.4L728.6,939.32L731.27,939.13L733.94,939.17L736.61,939.17L739.28,939.38L741.96,939.29L744.63,939.24L747.3,939.38L749.97,939.31L752.64,939.32L755.31,939.27L757.32,939.54L759.32,939.28L761.99,939.45L764.66,939.42L767.33,939.36L770.01,939.42L772.68,939.46L775.35,939.44L778.02,939.4L780.69,939.32L783.36,939.34L786.03,939.47L788.71,939.57L791.38,939.67L794.05,939.52L796.72,939.49L799.39,939.45L802.06,939.53L804.74,939.62L807.41,939.57L810.08,939.54L812.75,939.65L815.42,939.74L818.09,939.71L820.76,939.69L823.44,939.65L826.11,939.77L828.78,939.76L831.45,939.71L834.12,939.64L836.79,939.66L839.46,939.78L840.8,939.73" fill="none" stroke="#1f77b4" stroke-width="3.6" stroke-linejoin="round"/>
<path d="M470.8,992.68L473.47,992.66L476.14,992.72L478.81,992.66L481.49,992.62L484.16,992.69L486.83,992.66L489.5,992.7L492.17,992.49L494.84,992.47L497.51,992.49L500.19,992.56L502.86,992.44L505.53,992.4L508.2,992.33L510.87,992.16L513.54,992.38L516.22,992.26L518.89,992.17L521.56,992.21L524.23,992.21L526.9,992.29L529.57,992.2L532.24,992.21L534.92,992.14L537.59,992.23L540.26,992.08L542.93,992.05L545.6,992.16L548.27,991.74L549.61,991.29L550.94,990.98L551.61,990.68L552.28,990.31L553.62,989.81L554.28,989.42L554.95,989.03L555.62,988.62L556.29,988.25L556.96,987.58L557.62,988.1L558.29,988.61L559.63,989.21L560.29,989.47L560.96,990.08L561.63,990.38L562.3,990.69L563.63,990.07L564.3,989.63L564.97,989.33L566.31,988.79L567.64,988.06L568.31,987.77L568.98,986.71L569.64,986.3L570.31,985.8L572.32,986.08L572.98,985.14L573.65,985.75L574.32,984.48L574.99,985.19L575.66,984.47L576.32,985.46L577.66,984.54L578.99,984.13L579.66,984.52L580.33,985.03L581,986.11L582.33,986.52L583,987.57L583.67,988.64L586.34,988.37L587.68,988.68L588.35,989.04L589.01,989.64L590.35,990.25L592.35,990.57L595.02,990.97L597.7,990.96L599.7,990.7L602.37,990.86L603.04,990.56L605.71,990.43L607.05,990.02L607.71,990.28L608.38,989.76L610.38,989.37L611.05,989.02L612.39,988.52L615.06,988.45L617.06,987.89L618.4,986.86L619.07,986.1L619.74,985.66L620.4,986.4L621.07,987.39L622.41,986.68L623.74,986.06L625.08,985.62L625.75,985.18L626.41,984.82L627.08,983.32L627.75,982.55L628.42,981.06L629.75,980.08L630.42,979.45L631.09,979.95L631.76,978.89L632.42,979.66L633.09,978.59L634.43,977.14L635.76,975.02L636.43,973.86L637.1,971.87L637.77,971.27L638.44,970.29L639.1,968.03L639.77,967.37L640.44,965.35L641.11,964.02L641.77,963.15L642.44,961.92L643.11,962.71L643.78,960.94L645.11,956.98L645.78,955.43L646.45,951.16L647.12,950.63L647.79,942.67L648.45,943.5L649.12,936.7L649.79,928.42L650.46,912.65L651.12,894.5L651.79,867.28L652.46,842.07L653.13,819.34L653.8,797.73L654.46,766.46L655.13,721.71L655.8,710.9L658.47,710.9L661.14,710.9L662.48,731.83L663.15,793.35L663.81,843.44L664.48,894.25L665.15,940.11L665.82,961.48L666.49,967.34L667.15,973.76L667.82,980.2L668.49,983.57L669.16,984.28L669.83,986.08L670.49,987.6L671.16,988.77L671.83,989.6L672.5,990.65L673.16,991.72L673.83,992.44L676.5,992.57L679.18,992.47L681.85,992.57L684.52,992.63L687.19,992.59L689.86,992.73L692.53,992.69L695.2,992.66L697.88,992.65L700.55,992.68L703.22,992.69L705.89,992.71L708.56,992.59L711.23,992.61L713.9,992.71L716.58,992.61L719.25,992.49L721.92,992.58L724.59,992.52L727.26,992.47L729.93,992.55L732.61,992.66L735.28,992.63L737.95,992.63L740.62,992.56L743.29,992.48L745.96,992.42L748.63,992.65L751.31,992.53L753.98,992.44L756.65,992.5L759.32,992.4L761.99,992.44L764.66,992.45L767.33,992.39L770.01,992.34L772.68,992.34L774.01,991.97L776.02,991.71L777.35,991.3L778.02,990.97L778.69,990.66L780.02,990.28L781.36,989.86L783.36,990.13L784.03,989.88L785.37,988.77L786.03,988.43L786.7,987.48L787.37,987.09L788.04,986.52L788.71,985.97L789.37,985.19L790.04,984.3L790.71,983.29L791.38,981.87L792.05,980.41L792.71,978.73L793.38,975.74L794.05,974.02L794.72,976.51L795.38,981.29L796.05,983.75L796.72,987.65L797.39,989.26L798.06,990.26L798.72,990.75L799.39,991.4L800.06,992.03L800.73,992.39L803.4,992.37L806.07,992.45L808.74,992.59L811.41,992.55L814.09,992.59L816.76,992.58L819.43,992.5L822.1,992.69L824.77,992.66L827.44,992.64L830.11,992.74L832.79,992.59L835.46,992.63L838.13,992.71L840.8,992.73L840.8,993.46L470.8,993.46Z" fill="#ff7f0e" fill-opacity="0.32"/>
<path d="M470.8,992.68L473.47,992.66L476.14,992.72L478.81,992.66L481.49,992.62L484.16,992.69L486.83,992.66L489.5,992.7L492.17,992.49L494.84,992.47L497.51,992.49L500.19,992.56L502.86,992.44L505.53,992.4L508.2,992.33L510.87,992.16L513.54,992.38L516.22,992.26L518.89,992.17L521.56,992.21L524.23,992.21L526.9,992.29L529.57,992.2L532.24,992.21L534.92,992.14L537.59,992.23L540.26,992.08L542.93,992.05L545.6,992.16L548.27,991.74L549.61,991.29L550.94,990.98L551.61,990.68L552.28,990.31L553.62,989.81L554.28,989.42L554.95,989.03L555.62,988.62L556.29,988.25L556.96,987.58L557.62,988.1L558.29,988.61L559.63,989.21L560.29,989.47L560.96,990.08L561.63,990.38L562.3,990.69L563.63,990.07L564.3,989.63L564.97,989.33L566.31,988.79L567.64,988.06L568.31,987.77L568.98,986.71L569.64,986.3L570.31,985.8L572.32,986.08L572.98,985.14L573.65,985.75L574.32,984.48L574.99,985.19L575.66,984.47L576.32,985.46L577.66,984.54L578.99,984.13L579.66,984.52L580.33,985.03L581,986.11L582.33,986.52L583,987.57L583.67,988.64L586.34,988.37L587.68,988.68L588.35,989.04L589.01,989.64L590.35,990.25L592.35,990.57L595.02,990.97L597.7,990.96L599.7,990.7L602.37,990.86L603.04,990.56L605.71,990.43L607.05,990.02L607.71,990.28L608.38,989.76L610.38,989.37L611.05,989.02L612.39,988.52L615.06,988.45L617.06,987.89L618.4,986.86L619.07,986.1L619.74,985.66L620.4,986.4L621.07,987.39L622.41,986.68L623.74,986.06L625.08,985.62L625.75,985.18L626.41,984.82L627.08,983.32L627.75,982.55L628.42,981.06L629.75,980.08L630.42,979.45L631.09,979.95L631.76,978.89L632.42,979.66L633.09,978.59L634.43,977.14L635.76,975.02L636.43,973.86L637.1,971.87L637.77,971.27L638.44,970.29L639.1,968.03L639.77,967.37L640.44,965.35L641.11,964.02L641.77,963.15L642.44,961.92L643.11,962.71L643.78,960.94L645.11,956.98L645.78,955.43L646.45,951.16L647.12,950.63L647.79,942.67L648.45,943.5L649.12,936.7L649.79,928.42L650.46,912.65L651.12,894.5L651.79,867.28L652.46,842.07L653.13,819.34L653.8,797.73L654.46,766.46L655.13,721.71L655.8,710.9L658.47,710.9L661.14,710.9L662.48,731.83L663.15,793.35L663.81,843.44L664.48,894.25L665.15,940.11L665.82,961.48L666.49,967.34L667.15,973.76L667.82,980.2L668.49,983.57L669.16,984.28L669.83,986.08L670.49,987.6L671.16,988.77L671.83,989.6L672.5,990.65L673.16,991.72L673.83,992.44L676.5,992.57L679.18,992.47L681.85,992.57L684.52,992.63L687.19,992.59L689.86,992.73L692.53,992.69L695.2,992.66L697.88,992.65L700.55,992.68L703.22,992.69L705.89,992.71L708.56,992.59L711.23,992.61L713.9,992.71L716.58,992.61L719.25,992.49L721.92,992.58L724.59,992.52L727.26,992.47L729.93,992.55L732.61,992.66L735.28,992.63L737.95,992.63L740.62,992.56L743.29,992.48L745.96,992.42L748.63,992.65L751.31,992.53L753.98,992.44L756.65,992.5L759.32,992.4L761.99,992.44L764.66,992.45L767.33,992.39L770.01,992.34L772.68,992.34L774.01,991.97L776.02,991.71L777.35,991.3L778.02,990.97L778.69,990.66L780.02,990.28L781.36,989.86L783.36,990.13L784.03,989.88L785.37,988.77L786.03,988.43L786.7,987.48L787.37,987.09L788.04,986.52L788.71,985.97L789.37,985.19L790.04,984.3L790.71,983.29L791.38,981.87L792.05,980.41L792.71,978.73L793.38,975.74L794.05,974.02L794.72,976.51L795.38,981.29L796.05,983.75L796.72,987.65L797.39,989.26L798.06,990.26L798.72,990.75L799.39,991.4L800.06,992.03L800.73,992.39L803.4,992.37L806.07,992.45L808.74,992.59L811.41,992.55L814.09,992.59L816.76,992.58L819.43,992.5L822.1,992.69L824.77,992.66L827.44,992.64L830.11,992.74L832.79,992.59L835.46,992.63L838.13,992.71L840.8,992.73" fill="none" stroke="#ff7f0e" stroke-width="3.6" stroke-linejoin="round"/>
<path d="M470.8,1045.35L473.47,1045.47L476.14,1045.28L478.81,1045.08L481.49,1045.23L484.16,1045.17L486.83,1045.29L489.5,1045.11L492.17,1045.12L494.84,1045.12L497.51,1045.01L500.19,1045.03L502.86,1044.85L505.53,1044.84L508.2,1044.93L510.87,1044.95L513.54,1044.8L516.22,1044.59L518.89,1044.5L520.22,1044.15L520.89,1043.81L522.23,1043.49L522.89,1043.16L523.56,1042.82L526.23,1042.39L526.9,1041.8L527.57,1041.44L528.24,1040.89L528.9,1040.58L530.24,1041.03L530.91,1041.45L532.24,1042.02L533.58,1042.72L534.25,1043.11L535.58,1042.57L536.25,1042.14L536.92,1041.83L537.59,1041.54L538.25,1040.86L539.59,1040.32L540.26,1039.8L540.93,1039.46L541.59,1038.97L542.93,1038.31L544.27,1037.88L544.93,1037.38L545.6,1037.06L546.27,1037.31L547.61,1037.77L548.27,1038.58L548.94,1039.23L549.61,1039.89L550.28,1040.58L550.94,1041.21L551.61,1041.61L553.62,1042.46L554.95,1042.72L557.62,1042.58L558.96,1042.93L559.63,1043.22L562.3,1043.7L562.97,1044L565.64,1044.42L566.97,1044.7L569.64,1044.42L572.32,1044.01L574.99,1044L577.66,1043.7L580.33,1043.28L581,1042.88L581.67,1042.34L582.33,1041.87L583,1041.6L584.34,1041.01L586.34,1040.62L587.01,1040.08L587.68,1039.53L590.35,1038.76L591.02,1038.47L591.68,1038.75L593.02,1038.28L593.69,1038.02L594.36,1037.55L595.69,1036.9L597.03,1036.18L597.7,1035.15L598.36,1034.6L599.03,1033.72L599.7,1032.5L600.37,1031.55L601.7,1031.93L602.37,1031.02L603.04,1030.59L603.71,1028.83L604.37,1029.25L605.04,1027.49L606.38,1025.58L607.05,1025.95L608.38,1025.4L609.05,1023.14L609.72,1021.77L610.38,1019.62L611.05,1017.2L611.72,1014.73L612.39,1011.16L613.06,1008.56L613.72,1004.76L614.39,998.15L615.06,995.73L615.73,989.69L616.4,985.36L617.06,982.13L617.73,979.67L618.4,974.13L619.07,965.33L619.74,952.96L620.4,946.71L621.07,936.42L621.74,933.27L622.41,924.43L623.07,911.48L623.74,895.49L624.41,878.31L625.08,861.54L625.75,845.72L626.41,824.95L627.08,805.19L627.75,790.99L628.42,780.23L629.09,790.04L629.75,807.75L630.42,823.97L631.09,843.48L631.76,857.07L632.42,875.55L633.09,896.04L633.76,917.69L634.43,944.79L635.1,976.97L635.76,986.85L636.43,998.93L637.1,1009.43L637.77,1021.31L638.44,1027.97L639.1,1031.25L639.77,1033.18L640.44,1035.26L641.11,1037.64L641.77,1040.94L642.44,1042.22L643.11,1042.65L643.78,1042.92L645.11,1043.42L646.45,1043.86L648.45,1044.35L649.79,1044.67L652.46,1044.76L655.13,1044.84L657.8,1044.82L660.48,1044.68L663.15,1044.61L665.82,1044.62L668.49,1044.6L671.16,1044.77L673.83,1044.66L676.5,1044.51L679.18,1044.75L681.85,1044.64L684.52,1044.6L687.19,1044.7L689.86,1044.87L692.53,1044.7L695.2,1044.57L697.88,1044.54L700.55,1044.6L703.22,1044.58L705.89,1044.78L708.56,1044.9L711.23,1044.8L713.9,1044.6L716.58,1044.81L719.25,1044.99L721.92,1044.94L724.59,1044.73L727.26,1044.57L729.93,1044.77L732.61,1044.75L735.28,1044.93L737.95,1044.94L740.62,1044.8L743.29,1044.99L745.96,1044.89L748.63,1044.92L750.64,1044.66L752.64,1044.96L755.31,1044.83L757.98,1044.92L760.66,1045.09L762.66,1044.8L765.33,1044.66L766.67,1044.28L768,1043.73L768.67,1043.03L769.34,1041.61L770.01,1039.02L770.67,1033.17L771.34,1018.09L772.01,975.5L772.68,887.14L773.35,890.02L774.01,977.76L774.68,1018.78L775.35,1033.28L776.02,1039.05L776.68,1041.61L777.35,1042.95L778.02,1043.64L778.69,1043.99L780.02,1044.38L781.36,1044.67L784.03,1044.64L786.7,1044.72L789.37,1044.67L792.05,1044.82L794.72,1044.99L797.39,1044.89L800.06,1045.07L802.73,1045.04L805.4,1045.02L807.41,1044.69L809.41,1044.98L812.08,1044.98L814.75,1044.88L817.42,1044.92L820.1,1044.95L822.77,1045.08L825.44,1045.01L828.11,1044.86L830.78,1045.13L833.45,1045.06L836.12,1045.15L837.46,1044.9L840.13,1044.88L840.8,1044.84L840.8,1046.44L470.8,1046.44Z" fill="#2ca02c" fill-opacity="0.32"/>
<path d="M470.8,1045.35L473.47,1045.47L476.14,1045.28L478.81,1045.08L481.49,1045.23L484.16,1045.17L486.83,1045.29L489.5,1045.11L492.17,1045.12L494.84,1045.12L497.51,1045.01L500.19,1045.03L502.86,1044.85L505.53,1044.84L508.2,1044.93L510.87,1044.95L513.54,1044.8L516.22,1044.59L518.89,1044.5L520.22,1044.15L520.89,1043.81L522.23,1043.49L522.89,1043.16L523.56,1042.82L526.23,1042.39L526.9,1041.8L527.57,1041.44L528.24,1040.89L528.9,1040.58L530.24,1041.03L530.91,1041.45L532.24,1042.02L533.58,1042.72L534.25,1043.11L535.58,1042.57L536.25,1042.14L536.92,1041.83L537.59,1041.54L538.25,1040.86L539.59,1040.32L540.26,1039.8L540.93,1039.46L541.59,1038.97L542.93,1038.31L544.27,1037.88L544.93,1037.38L545.6,1037.06L546.27,1037.31L547.61,1037.77L548.27,1038.58L548.94,1039.23L549.61,1039.89L550.28,1040.58L550.94,1041.21L551.61,1041.61L553.62,1042.46L554.95,1042.72L557.62,1042.58L558.96,1042.93L559.63,1043.22L562.3,1043.7L562.97,1044L565.64,1044.42L566.97,1044.7L569.64,1044.42L572.32,1044.01L574.99,1044L577.66,1043.7L580.33,1043.28L581,1042.88L581.67,1042.34L582.33,1041.87L583,1041.6L584.34,1041.01L586.34,1040.62L587.01,1040.08L587.68,1039.53L590.35,1038.76L591.02,1038.47L591.68,1038.75L593.02,1038.28L593.69,1038.02L594.36,1037.55L595.69,1036.9L597.03,1036.18L597.7,1035.15L598.36,1034.6L599.03,1033.72L599.7,1032.5L600.37,1031.55L601.7,1031.93L602.37,1031.02L603.04,1030.59L603.71,1028.83L604.37,1029.25L605.04,1027.49L606.38,1025.58L607.05,1025.95L608.38,1025.4L609.05,1023.14L609.72,1021.77L610.38,1019.62L611.05,1017.2L611.72,1014.73L612.39,1011.16L613.06,1008.56L613.72,1004.76L614.39,998.15L615.06,995.73L615.73,989.69L616.4,985.36L617.06,982.13L617.73,979.67L618.4,974.13L619.07,965.33L619.74,952.96L620.4,946.71L621.07,936.42L621.74,933.27L622.41,924.43L623.07,911.48L623.74,895.49L624.41,878.31L625.08,861.54L625.75,845.72L626.41,824.95L627.08,805.19L627.75,790.99L628.42,780.23L629.09,790.04L629.75,807.75L630.42,823.97L631.09,843.48L631.76,857.07L632.42,875.55L633.09,896.04L633.76,917.69L634.43,944.79L635.1,976.97L635.76,986.85L636.43,998.93L637.1,1009.43L637.77,1021.31L638.44,1027.97L639.1,1031.25L639.77,1033.18L640.44,1035.26L641.11,1037.64L641.77,1040.94L642.44,1042.22L643.11,1042.65L643.78,1042.92L645.11,1043.42L646.45,1043.86L648.45,1044.35L649.79,1044.67L652.46,1044.76L655.13,1044.84L657.8,1044.82L660.48,1044.68L663.15,1044.61L665.82,1044.62L668.49,1044.6L671.16,1044.77L673.83,1044.66L676.5,1044.51L679.18,1044.75L681.85,1044.64L684.52,1044.6L687.19,1044.7L689.86,1044.87L692.53,1044.7L695.2,1044.57L697.88,1044.54L700.55,1044.6L703.22,1044.58L705.89,1044.78L708.56,1044.9L711.23,1044.8L713.9,1044.6L716.58,1044.81L719.25,1044.99L721.92,1044.94L724.59,1044.73L727.26,1044.57L729.93,1044.77L732.61,1044.75L735.28,1044.93L737.95,1044.94L740.62,1044.8L743.29,1044.99L745.96,1044.89L748.63,1044.92L750.64,1044.66L752.64,1044.96L755.31,1044.83L757.98,1044.92L760.66,1045.09L762.66,1044.8L765.33,1044.66L766.67,1044.28L768,1043.73L768.67,1043.03L769.34,1041.61L770.01,1039.02L770.67,1033.17L771.34,1018.09L772.01,975.5L772.68,887.14L773.35,890.02L774.01,977.76L774.68,1018.78L775.35,1033.28L776.02,1039.05L776.68,1041.61L777.35,1042.95L778.02,1043.64L778.69,1043.99L780.02,1044.38L781.36,1044.67L784.03,1044.64L786.7,1044.72L789.37,1044.67L792.05,1044.82L794.72,1044.99L797.39,1044.89L800.06,1045.07L802.73,1045.04L805.4,1045.02L807.41,1044.69L809.41,1044.98L812.08,1044.98L814.75,1044.88L817.42,1044.92L820.1,1044.95L822.77,1045.08L825.44,1045.01L828.11,1044.86L830.78,1045.13L833.45,1045.06L836.12,1045.15L837.46,1044.9L840.13,1044.88L840.8,1044.84" fill="none" stroke="#2ca02c" stroke-width="3.6" stroke-linejoin="round"/>
<path d="M470.8,1097.8L473.47,1097.62L476.14,1097.61L477.48,1097.27L480.15,1097.21L482.82,1097.2L485.49,1097.08L488.16,1097.01L490.84,1096.82L493.51,1096.52L496.18,1096.83L496.85,1096.4L497.51,1096.03L498.18,1095.34L499.52,1094.48L500.85,1093.77L501.52,1093.25L502.19,1092.64L504.19,1093.12L505.53,1093.97L506.86,1094.69L507.53,1095.16L508.2,1095.83L509.54,1095.34L510.87,1094.73L511.54,1094.24L512.88,1093.61L513.54,1093.22L514.21,1092.49L514.88,1091.9L515.55,1091.44L516.88,1091.09L517.55,1090.47L518.22,1089.73L518.89,1089.26L519.55,1089.52L522.23,1089.63L522.89,1090.61L524.23,1091.38L524.9,1091.82L525.57,1092.26L526.23,1092.52L527.57,1093.18L528.24,1093.75L528.9,1094.15L529.57,1094.64L530.91,1095.06L532.24,1095.33L534.92,1095.02L537.59,1095.08L538.25,1095.41L538.92,1095.71L541.59,1095.38L542.93,1095.02L544.27,1094.58L546.94,1094.27L549.61,1094.05L550.28,1093.74L550.94,1093.27L552.28,1093.02L553.62,1092.27L554.28,1091.97L554.95,1090.85L556.96,1091.26L557.62,1090.61L558.29,1089.27L558.96,1088.02L559.63,1087.45L560.96,1087.16L561.63,1086.16L562.3,1084.8L563.63,1084.31L564.3,1083L564.97,1082.04L565.64,1079.74L566.31,1079.11L566.97,1077.77L567.64,1077.33L568.98,1076.97L569.64,1077.48L570.98,1075.49L571.65,1074.36L572.32,1072.92L572.98,1071.61L573.65,1070.56L574.99,1067.68L575.66,1067.41L576.32,1063.4L576.99,1062.94L577.66,1059.55L578.33,1059.91L579.66,1060.29L580.33,1058.78L581,1057.5L581.67,1052.39L582.33,1045.68L583,1038.79L583.67,1035.35L584.34,1030.99L585.01,1026.54L585.67,1023.03L586.34,1018.62L587.01,1015.12L587.68,1007.68L588.35,1004.3L589.01,1001.22L589.68,994.43L590.35,987.02L591.02,980.63L591.68,979.39L592.35,977.12L593.02,972.28L593.69,969.06L594.36,968.36L595.02,965.17L595.69,966.38L596.36,966.09L597.03,968.69L598.36,976.16L599.03,977.97L599.7,981.43L600.37,987.36L601.03,994.54L601.7,1002.55L602.37,1006.71L603.04,1010.6L603.71,1016.67L604.37,1019.19L605.04,1024.96L605.71,1030.02L606.38,1035.98L607.05,1040.74L607.71,1048.13L608.38,1055.11L609.05,1060.87L609.72,1064.79L610.38,1071.3L611.05,1075.31L611.72,1078.55L612.39,1080.38L613.06,1082.95L613.72,1085.52L614.39,1088.23L615.06,1090.45L615.73,1093.1L616.4,1094.05L617.06,1094.44L619.74,1095.19L620.4,1095.48L621.07,1095.95L621.74,1096.5L622.41,1096.82L625.08,1096.78L627.75,1096.67L629.09,1096.99L631.09,1096.61L633.76,1096.62L636.43,1096.85L639.1,1097L640.44,1096.74L643.11,1096.67L645.78,1096.79L647.79,1097.06L650.46,1096.97L653.13,1096.84L655.8,1096.83L658.47,1097L661.14,1097.07L663.81,1097.11L666.49,1097.01L669.16,1096.92L671.16,1097.2L673.83,1097.1L676.5,1097.17L679.18,1097.27L681.85,1097.32L684.52,1097.41L687.19,1097.51L689.86,1097.55L692.53,1097.64L695.2,1097.57L697.88,1097.57L700.55,1097.71L703.22,1097.59L705.89,1097.68L708.56,1097.67L711.23,1097.68L713.9,1097.68L716.58,1097.6L719.25,1097.56L721.92,1097.44L724.59,1097.47L727.26,1097.59L729.93,1097.57L732.61,1097.64L735.28,1097.42L737.95,1097.28L740.62,1097.25L743.29,1096.76L744.63,1096.29L745.96,1095.89L746.63,1095.46L747.3,1094.99L747.97,1094.36L748.63,1093.65L749.3,1092.61L749.97,1091.37L750.64,1089.72L751.31,1087.46L751.97,1084.13L752.64,1079.56L753.31,1073.19L753.98,1064.2L754.64,1051.69L755.31,1034.76L755.98,1013.84L756.65,991.21L757.32,973.19L757.98,966.98L758.65,975.65L759.32,995.03L759.99,1017.49L760.66,1037.77L761.32,1053.94L761.99,1065.85L762.66,1074.4L763.33,1080.5L763.99,1084.77L764.66,1087.78L765.33,1089.92L766,1091.59L766.67,1092.87L767.33,1093.75L768,1094.59L768.67,1095.15L769.34,1095.5L770.01,1095.8L770.67,1096.15L771.34,1096.46L772.68,1096.85L775.35,1097.26L778.02,1097.3L780.69,1097.43L783.36,1097.49L786.03,1097.51L788.71,1097.55L791.38,1097.61L794.05,1097.7L796.72,1097.63L799.39,1097.65L802.06,1097.55L804.74,1097.64L807.41,1097.54L810.08,1097.55L812.75,1097.71L815.42,1097.73L816.76,1097.43L819.43,1097.56L822.1,1097.68L824.77,1097.78L827.44,1097.84L830.11,1097.62L832.79,1097.61L835.46,1097.75L838.13,1097.58L840.8,1097.71L840.8,1099.42L470.8,1099.42Z" fill="#d62728" fill-opacity="0.32"/>
<path d="M470.8,1097.8L473.47,1097.62L476.14,1097.61L477.48,1097.27L480.15,1097.21L482.82,1097.2L485.49,1097.08L488.16,1097.01L490.84,1096.82L493.51,1096.52L496.18,1096.83L496.85,1096.4L497.51,1096.03L498.18,1095.34L499.52,1094.48L500.85,1093.77L501.52,1093.25L502.19,1092.64L504.19,1093.12L505.53,1093.97L506.86,1094.69L507.53,1095.16L508.2,1095.83L509.54,1095.34L510.87,1094.73L511.54,1094.24L512.88,1093.61L513.54,1093.22L514.21,1092.49L514.88,1091.9L515.55,1091.44L516.88,1091.09L517.55,1090.47L518.22,1089.73L518.89,1089.26L519.55,1089.52L522.23,1089.63L522.89,1090.61L524.23,1091.38L524.9,1091.82L525.57,1092.26L526.23,1092.52L527.57,1093.18L528.24,1093.75L528.9,1094.15L529.57,1094.64L530.91,1095.06L532.24,1095.33L534.92,1095.02L537.59,1095.08L538.25,1095.41L538.92,1095.71L541.59,1095.38L542.93,1095.02L544.27,1094.58L546.94,1094.27L549.61,1094.05L550.28,1093.74L550.94,1093.27L552.28,1093.02L553.62,1092.27L554.28,1091.97L554.95,1090.85L556.96,1091.26L557.62,1090.61L558.29,1089.27L558.96,1088.02L559.63,1087.45L560.96,1087.16L561.63,1086.16L562.3,1084.8L563.63,1084.31L564.3,1083L564.97,1082.04L565.64,1079.74L566.31,1079.11L566.97,1077.77L567.64,1077.33L568.98,1076.97L569.64,1077.48L570.98,1075.49L571.65,1074.36L572.32,1072.92L572.98,1071.61L573.65,1070.56L574.99,1067.68L575.66,1067.41L576.32,1063.4L576.99,1062.94L577.66,1059.55L578.33,1059.91L579.66,1060.29L580.33,1058.78L581,1057.5L581.67,1052.39L582.33,1045.68L583,1038.79L583.67,1035.35L584.34,1030.99L585.01,1026.54L585.67,1023.03L586.34,1018.62L587.01,1015.12L587.68,1007.68L588.35,1004.3L589.01,1001.22L589.68,994.43L590.35,987.02L591.02,980.63L591.68,979.39L592.35,977.12L593.02,972.28L593.69,969.06L594.36,968.36L595.02,965.17L595.69,966.38L596.36,966.09L597.03,968.69L598.36,976.16L599.03,977.97L599.7,981.43L600.37,987.36L601.03,994.54L601.7,1002.55L602.37,1006.71L603.04,1010.6L603.71,1016.67L604.37,1019.19L605.04,1024.96L605.71,1030.02L606.38,1035.98L607.05,1040.74L607.71,1048.13L608.38,1055.11L609.05,1060.87L609.72,1064.79L610.38,1071.3L611.05,1075.31L611.72,1078.55L612.39,1080.38L613.06,1082.95L613.72,1085.52L614.39,1088.23L615.06,1090.45L615.73,1093.1L616.4,1094.05L617.06,1094.44L619.74,1095.19L620.4,1095.48L621.07,1095.95L621.74,1096.5L622.41,1096.82L625.08,1096.78L627.75,1096.67L629.09,1096.99L631.09,1096.61L633.76,1096.62L636.43,1096.85L639.1,1097L640.44,1096.74L643.11,1096.67L645.78,1096.79L647.79,1097.06L650.46,1096.97L653.13,1096.84L655.8,1096.83L658.47,1097L661.14,1097.07L663.81,1097.11L666.49,1097.01L669.16,1096.92L671.16,1097.2L673.83,1097.1L676.5,1097.17L679.18,1097.27L681.85,1097.32L684.52,1097.41L687.19,1097.51L689.86,1097.55L692.53,1097.64L695.2,1097.57L697.88,1097.57L700.55,1097.71L703.22,1097.59L705.89,1097.68L708.56,1097.67L711.23,1097.68L713.9,1097.68L716.58,1097.6L719.25,1097.56L721.92,1097.44L724.59,1097.47L727.26,1097.59L729.93,1097.57L732.61,1097.64L735.28,1097.42L737.95,1097.28L740.62,1097.25L743.29,1096.76L744.63,1096.29L745.96,1095.89L746.63,1095.46L747.3,1094.99L747.97,1094.36L748.63,1093.65L749.3,1092.61L749.97,1091.37L750.64,1089.72L751.31,1087.46L751.97,1084.13L752.64,1079.56L753.31,1073.19L753.98,1064.2L754.64,1051.69L755.31,1034.76L755.98,1013.84L756.65,991.21L757.32,973.19L757.98,966.98L758.65,975.65L759.32,995.03L759.99,1017.49L760.66,1037.77L761.32,1053.94L761.99,1065.85L762.66,1074.4L763.33,1080.5L763.99,1084.77L764.66,1087.78L765.33,1089.92L766,1091.59L766.67,1092.87L767.33,1093.75L768,1094.59L768.67,1095.15L769.34,1095.5L770.01,1095.8L770.67,1096.15L771.34,1096.46L772.68,1096.85L775.35,1097.26L778.02,1097.3L780.69,1097.43L783.36,1097.49L786.03,1097.51L788.71,1097.55L791.38,1097.61L794.05,1097.7L796.72,1097.63L799.39,1097.65L802.06,1097.55L804.74,1097.64L807.41,1097.54L810.08,1097.55L812.75,1097.71L815.42,1097.73L816.76,1097.43L819.43,1097.56L822.1,1097.68L824.77,1097.78L827.44,1097.84L830.11,1097.62L832.79,1097.61L835.46,1097.75L838.13,1097.58L840.8,1097.71" fill="none" stroke="#d62728" stroke-width="3.6" stroke-linejoin="round"/>
<path d="M470.8,1147.28L472.8,1146.82L473.47,1147.25L474.81,1146.69L475.48,1145.8L476.14,1145.02L476.81,1144.63L477.48,1144.26L478.81,1144.81L479.48,1145.34L480.15,1145.74L480.82,1145.43L481.49,1146.1L482.15,1146.44L482.82,1146.98L483.49,1146.41L484.16,1145.83L484.83,1145.36L486.16,1144.95L487.5,1144.12L488.16,1143.38L488.83,1142.23L490.17,1141.67L490.84,1141.09L492.17,1140.34L492.84,1139.47L493.51,1138.29L494.18,1137.27L494.84,1136.76L496.85,1137.7L498.18,1139.22L498.85,1140.62L499.52,1141.36L500.19,1142.52L500.85,1143.19L501.52,1144.56L502.19,1145.07L503.53,1144.52L504.19,1143.74L505.53,1143.4L506.2,1143.07L507.53,1143.98L508.87,1142.99L509.54,1141.83L510.87,1142.27L511.54,1142.65L512.88,1141.76L515.55,1141.67L516.22,1141.01L516.88,1140.18L517.55,1139.25L518.22,1138.27L518.89,1137.47L520.22,1137.1L520.89,1136L521.56,1134.55L522.23,1133.82L522.89,1132.64L523.56,1130.86L524.23,1129.01L525.57,1126.71L526.23,1125.33L526.9,1124.84L527.57,1126.71L528.24,1125.15L528.9,1123.68L529.57,1120.75L530.24,1119.56L530.91,1119.98L531.58,1119.11L532.24,1117.87L532.91,1113.96L534.25,1109.92L534.92,1108.12L535.58,1105.37L536.25,1106.7L536.92,1104.53L538.25,1102.28L538.92,1099.87L539.59,1096.89L540.26,1097.63L540.93,1093.62L541.59,1091L543.6,1086.08L544.27,1086.55L544.93,1088.01L545.6,1091.32L546.27,1087.54L546.94,1088.8L547.61,1086.55L548.27,1086.2L549.61,1090.66L550.28,1088.68L550.94,1087.95L551.61,1082.78L552.28,1085.36L552.95,1084.23L553.62,1085.97L554.28,1086.92L554.95,1087.39L555.62,1087.12L556.96,1088.68L557.62,1090.45L558.96,1088.94L559.63,1091.09L560.29,1091.9L560.96,1091.59L561.63,1091.26L562.3,1092.22L562.97,1093.27L563.63,1096.41L564.97,1099.8L565.64,1098.06L566.31,1100.94L566.97,1103.8L567.64,1105.92L568.31,1107.7L568.98,1108.25L569.64,1108.76L570.31,1109.51L570.98,1111.77L571.65,1112.39L572.32,1113.35L572.98,1110.93L573.65,1112.51L574.32,1113.95L574.99,1117.19L575.66,1119.01L576.32,1119.94L576.99,1120.88L577.66,1124.52L578.33,1129.06L578.99,1130.24L579.66,1130.56L581,1133.27L581.67,1135.83L582.33,1137.62L583,1139.46L583.67,1140.41L584.34,1141.32L585.01,1143.18L585.67,1144.25L586.34,1145.85L587.01,1146.37L587.68,1147.85L588.35,1149.01L589.01,1149.39L589.68,1149.67L591.02,1150.14L591.68,1150.42L592.35,1150.68L594.36,1151.1L597.03,1151.33L599.7,1151.29L602.37,1151.22L605.04,1151.38L607.71,1151.5L610.38,1151.48L613.06,1151.46L615.73,1151.34L618.4,1151.49L621.07,1151.43L623.74,1151.5L626.41,1151.42L629.09,1151.35L631.76,1151.42L634.43,1151.48L637.1,1151.47L639.77,1151.45L642.44,1151.44L645.11,1151.54L647.79,1151.49L650.46,1151.51L653.13,1151.42L655.8,1151.44L658.47,1151.43L661.14,1151.52L663.81,1151.61L666.49,1151.54L669.16,1151.64L671.83,1151.63L674.5,1151.64L677.17,1151.58L679.84,1151.56L682.51,1151.61L685.19,1151.49L687.86,1151.5L690.53,1151.52L693.2,1151.57L695.87,1151.6L698.54,1151.62L701.22,1151.62L703.89,1151.61L706.56,1151.55L709.23,1151.54L711.9,1151.62L714.57,1151.56L717.24,1151.5L719.92,1151.44L722.59,1151.42L725.26,1151.26L727.93,1150.95L729.27,1150.67L731.27,1150.27L732.61,1149.8L733.27,1149.45L733.94,1149.11L734.61,1148.56L735.28,1148.02L735.94,1147.32L736.61,1146.48L737.28,1145.36L737.95,1143.89L738.62,1141.98L739.28,1139.43L739.95,1136.06L740.62,1131.6L741.29,1125.56L741.96,1117.4L742.62,1106.29L743.29,1091.34L743.96,1071.66L744.63,1047.47L745.29,1020.61L745.96,996.03L746.63,980.71L747.97,995.66L748.63,1020.21L749.3,1047.07L749.97,1071.34L750.64,1091.04L751.31,1106.09L751.97,1117.28L752.64,1125.56L753.31,1131.6L753.98,1136.04L754.64,1139.35L755.31,1141.84L755.98,1143.74L756.65,1145.18L757.32,1146.31L757.98,1147.2L758.65,1147.92L759.32,1148.5L759.99,1148.97L760.66,1149.38L761.32,1149.75L761.99,1150.03L763.33,1150.4L764.66,1150.72L766.67,1151.01L769.34,1151.24L772.01,1151.31L774.68,1151.36L777.35,1151.54L780.02,1151.53L782.7,1151.61L785.37,1151.68L788.04,1151.67L790.71,1151.6L793.38,1151.62L796.05,1151.63L798.72,1151.66L801.4,1151.66L804.07,1151.62L806.74,1151.69L809.41,1151.75L812.08,1151.73L814.75,1151.67L817.42,1151.7L820.1,1151.75L822.77,1151.72L825.44,1151.66L828.11,1151.65L830.78,1151.67L833.45,1151.67L836.12,1151.62L838.8,1151.68L840.8,1151.66L840.8,1152.4L470.8,1152.4Z" fill="#9467bd" fill-opacity="0.32"/>
<path d="M470.8,1147.28L472.8,1146.82L473.47,1147.25L474.81,1146.69L475.48,1145.8L476.14,1145.02L476.81,1144.63L477.48,1144.26L478.81,1144.81L479.48,1145.34L480.15,1145.74L480.82,1145.43L481.49,1146.1L482.15,1146.44L482.82,1146.98L483.49,1146.41L484.16,1145.83L484.83,1145.36L486.16,1144.95L487.5,1144.12L488.16,1143.38L488.83,1142.23L490.17,1141.67L490.84,1141.09L492.17,1140.34L492.84,1139.47L493.51,1138.29L494.18,1137.27L494.84,1136.76L496.85,1137.7L498.18,1139.22L498.85,1140.62L499.52,1141.36L500.19,1142.52L500.85,1143.19L501.52,1144.56L502.19,1145.07L503.53,1144.52L504.19,1143.74L505.53,1143.4L506.2,1143.07L507.53,1143.98L508.87,1142.99L509.54,1141.83L510.87,1142.27L511.54,1142.65L512.88,1141.76L515.55,1141.67L516.22,1141.01L516.88,1140.18L517.55,1139.25L518.22,1138.27L518.89,1137.47L520.22,1137.1L520.89,1136L521.56,1134.55L522.23,1133.82L522.89,1132.64L523.56,1130.86L524.23,1129.01L525.57,1126.71L526.23,1125.33L526.9,1124.84L527.57,1126.71L528.24,1125.15L528.9,1123.68L529.57,1120.75L530.24,1119.56L530.91,1119.98L531.58,1119.11L532.24,1117.87L532.91,1113.96L534.25,1109.92L534.92,1108.12L535.58,1105.37L536.25,1106.7L536.92,1104.53L538.25,1102.28L538.92,1099.87L539.59,1096.89L540.26,1097.63L540.93,1093.62L541.59,1091L543.6,1086.08L544.27,1086.55L544.93,1088.01L545.6,1091.32L546.27,1087.54L546.94,1088.8L547.61,1086.55L548.27,1086.2L549.61,1090.66L550.28,1088.68L550.94,1087.95L551.61,1082.78L552.28,1085.36L552.95,1084.23L553.62,1085.97L554.28,1086.92L554.95,1087.39L555.62,1087.12L556.96,1088.68L557.62,1090.45L558.96,1088.94L559.63,1091.09L560.29,1091.9L560.96,1091.59L561.63,1091.26L562.3,1092.22L562.97,1093.27L563.63,1096.41L564.97,1099.8L565.64,1098.06L566.31,1100.94L566.97,1103.8L567.64,1105.92L568.31,1107.7L568.98,1108.25L569.64,1108.76L570.31,1109.51L570.98,1111.77L571.65,1112.39L572.32,1113.35L572.98,1110.93L573.65,1112.51L574.32,1113.95L574.99,1117.19L575.66,1119.01L576.32,1119.94L576.99,1120.88L577.66,1124.52L578.33,1129.06L578.99,1130.24L579.66,1130.56L581,1133.27L581.67,1135.83L582.33,1137.62L583,1139.46L583.67,1140.41L584.34,1141.32L585.01,1143.18L585.67,1144.25L586.34,1145.85L587.01,1146.37L587.68,1147.85L588.35,1149.01L589.01,1149.39L589.68,1149.67L591.02,1150.14L591.68,1150.42L592.35,1150.68L594.36,1151.1L597.03,1151.33L599.7,1151.29L602.37,1151.22L605.04,1151.38L607.71,1151.5L610.38,1151.48L613.06,1151.46L615.73,1151.34L618.4,1151.49L621.07,1151.43L623.74,1151.5L626.41,1151.42L629.09,1151.35L631.76,1151.42L634.43,1151.48L637.1,1151.47L639.77,1151.45L642.44,1151.44L645.11,1151.54L647.79,1151.49L650.46,1151.51L653.13,1151.42L655.8,1151.44L658.47,1151.43L661.14,1151.52L663.81,1151.61L666.49,1151.54L669.16,1151.64L671.83,1151.63L674.5,1151.64L677.17,1151.58L679.84,1151.56L682.51,1151.61L685.19,1151.49L687.86,1151.5L690.53,1151.52L693.2,1151.57L695.87,1151.6L698.54,1151.62L701.22,1151.62L703.89,1151.61L706.56,1151.55L709.23,1151.54L711.9,1151.62L714.57,1151.56L717.24,1151.5L719.92,1151.44L722.59,1151.42L725.26,1151.26L727.93,1150.95L729.27,1150.67L731.27,1150.27L732.61,1149.8L733.27,1149.45L733.94,1149.11L734.61,1148.56L735.28,1148.02L735.94,1147.32L736.61,1146.48L737.28,1145.36L737.95,1143.89L738.62,1141.98L739.28,1139.43L739.95,1136.06L740.62,1131.6L741.29,1125.56L741.96,1117.4L742.62,1106.29L743.29,1091.34L743.96,1071.66L744.63,1047.47L745.29,1020.61L745.96,996.03L746.63,980.71L747.97,995.66L748.63,1020.21L749.3,1047.07L749.97,1071.34L750.64,1091.04L751.31,1106.09L751.97,1117.28L752.64,1125.56L753.31,1131.6L753.98,1136.04L754.64,1139.35L755.31,1141.84L755.98,1143.74L756.65,1145.18L757.32,1146.31L757.98,1147.2L758.65,1147.92L759.32,1148.5L759.99,1148.97L760.66,1149.38L761.32,1149.75L761.99,1150.03L763.33,1150.4L764.66,1150.72L766.67,1151.01L769.34,1151.24L772.01,1151.31L774.68,1151.36L777.35,1151.54L780.02,1151.53L782.7,1151.61L785.37,1151.68L788.04,1151.67L790.71,1151.6L793.38,1151.62L796.05,1151.63L798.72,1151.66L801.4,1151.66L804.07,1151.62L806.74,1151.69L809.41,1151.75L812.08,1151.73L814.75,1151.67L817.42,1151.7L820.1,1151.75L822.77,1151.72L825.44,1151.66L828.11,1151.65L830.78,1151.67L833.45,1151.67L836.12,1151.62L838.8,1151.68L840.8,1151.66" fill="none" stroke="#9467bd" stroke-width="3.6" stroke-linejoin="round"/>
</g>
<path d="M232.5,761.0v12M232.5,1152.4v-12M365.1,761.0v12M365.1,1152.4v-12M499,761.0v12M499,1152.4v-12M636,761.0v12M636,1152.4v-12M773,761.0v12M773,1152.4v-12M101.2,1081.76h12M840.8,1081.76h-12M458.8,1081.76h24M101.2,1011.12h12M840.8,1011.12h-12M458.8,1011.12h24M101.2,940.48h12M840.8,940.48h-12M101.2,869.84h12M840.8,869.84h-12M101.2,799.2h12M840.8,799.2h-12" stroke="#000" stroke-width="2.7"/>
<rect x="101.2" y="761.0" width="82.3" height="40.6" fill="#fff" fill-opacity="0.6"/>
<rect x="756.1" y="761.0" width="85.7" height="40.6" fill="#fff" fill-opacity="0.6"/>
<rect x="101.2" y="761.0" width="369.6" height="391.4" fill="none" stroke="#000" stroke-width="3.2"/>
<rect x="470.8" y="761.0" width="370" height="391.4" fill="none" stroke="#000" stroke-width="3.2"/>
<text x="90.6" y="1164" text-anchor="end" font-family='"Liberation Serif","DejaVu Serif","DejaVu Math TeX Gyre",serif' font-size="32.5">0</text>
<text x="90.6" y="1093.36" text-anchor="end" font-family='"Liberation Serif","DejaVu Serif","DejaVu Math TeX Gyre",serif' font-size="32.5">2</text>
<text x="90.6" y="1022.72" text-anchor="end" font-family='"Liberation Serif","DejaVu Serif","DejaVu Math TeX Gyre",serif' font-size="32.5">4</text>
<text x="90.6" y="952.08" text-anchor="end" font-family='"Liberation Serif","DejaVu Serif","DejaVu Math TeX Gyre",serif' font-size="32.5">6</text>
<text x="90.6" y="881.44" text-anchor="end" font-family='"Liberation Serif","DejaVu Serif","DejaVu Math TeX Gyre",serif' font-size="32.5">8</text>
<text x="90.6" y="810.8" text-anchor="end" font-family='"Liberation Serif","DejaVu Serif","DejaVu Math TeX Gyre",serif' font-size="32.5">10</text>
<text x="100.3" y="1185" text-anchor="middle" font-family='"Liberation Serif","DejaVu Serif","DejaVu Math TeX Gyre",serif' font-size="32.5">−<tspan dx="4">1</tspan></text>
<text x="499.4" y="1185" text-anchor="middle" font-family='"Liberation Serif","DejaVu Serif","DejaVu Math TeX Gyre",serif' font-size="32.5">−<tspan dx="4">1</tspan></text>
<text x="232.9" y="1185" text-anchor="middle" font-family='"Liberation Serif","DejaVu Serif","DejaVu Math TeX Gyre",serif' font-size="32.5">0</text>
<text x="635.3" y="1185" text-anchor="middle" font-family='"Liberation Serif","DejaVu Serif","DejaVu Math TeX Gyre",serif' font-size="32.5">0</text>
<text x="365.5" y="1185" text-anchor="middle" font-family='"Liberation Serif","DejaVu Serif","DejaVu Math TeX Gyre",serif' font-size="32.5">1</text>
<text x="773.4" y="1185" text-anchor="middle" font-family='"Liberation Serif","DejaVu Serif","DejaVu Math TeX Gyre",serif' font-size="32.5">1</text>
<text transform="translate(285,1198.6) scale(1.2,1)" text-anchor="middle" font-family='"Liberation Serif","DejaVu Serif","DejaVu Math TeX Gyre",serif' font-size="33" font-style="italic">ω</text>
<text transform="translate(655.3,1198.8) scale(1.2,1)" text-anchor="middle" font-family='"Liberation Serif","DejaVu Serif","DejaVu Math TeX Gyre",serif' font-size="33" font-style="italic">ω</text>
<text transform="translate(50,957.5) rotate(-90)" text-anchor="middle" font-family='"Liberation Serif","DejaVu Serif","DejaVu Math TeX Gyre",serif' font-size="30" font-style="italic"><tspan font-family='"DejaVu Math TeX Gyre","DejaVu Serif",serif' font-style="normal" font-size="28" stroke="#000" stroke-width="0.5">𝒜</tspan><tspan font-size="20" dy="7">k</tspan><tspan font-size="20" dy="-19" dx="-9">v</tspan><tspan dy="12" font-style="normal">(</tspan>ω<tspan font-style="normal">)</tspan></text>
<text x="107.8" y="788.2" font-family='"Liberation Serif","DejaVu Serif","DejaVu Math TeX Gyre",serif' font-size="32" font-style="italic">k</text><text x="127.7" y="788.2" textLength="22" lengthAdjust="spacingAndGlyphs" fill="#000" font-family='"Liberation Serif","DejaVu Serif","DejaVu Math TeX Gyre",serif' font-size="32">=</text>
<text x="154" y="788.2" font-family='"Liberation Serif","DejaVu Serif","DejaVu Math TeX Gyre",serif' font-size="32">Γ</text>
<text x="762.7" y="788.2" font-family='"Liberation Serif","DejaVu Serif","DejaVu Math TeX Gyre",serif' font-size="32" font-style="italic">k</text><text x="782.6" y="788.2" textLength="22" lengthAdjust="spacingAndGlyphs" fill="#000" font-family='"Liberation Serif","DejaVu Serif","DejaVu Math TeX Gyre",serif' font-size="32">=</text>
<text x="809.5" y="788.2" font-family='"Liberation Serif","DejaVu Serif","DejaVu Math TeX Gyre",serif' font-size="32">K</text>
<text x="124.5" y="834" font-family='"Liberation Sans","DejaVu Sans",sans-serif' font-size="41.5">(d)</text>
<text x="765.7" y="834" font-family='"Liberation Sans","DejaVu Sans",sans-serif' font-size="41.5">(e)</text>
<text x="107.5" y="922.8" fill="#1f77b4" font-family='"Liberation Serif","DejaVu Serif","DejaVu Math TeX Gyre",serif' font-size="29" font-style="italic">T</text><text x="123.8" y="922.8" textLength="20.5" lengthAdjust="spacingAndGlyphs" fill="#1f77b4" font-family='"Liberation Serif","DejaVu Serif","DejaVu Math TeX Gyre",serif' font-size="29">=</text>
<text x="143.5" y="922.8" fill="#1f77b4" font-family='"Liberation Serif","DejaVu Serif","DejaVu Math TeX Gyre",serif' font-size="29">0.02</text>
<text x="107.3" y="978.46" fill="#ff7f0e" font-family='"Liberation Serif","DejaVu Serif","DejaVu Math TeX Gyre",serif' font-size="29">0.04</text>
<text x="107.3" y="1031.44" fill="#2ca02c" font-family='"Liberation Serif","DejaVu Serif","DejaVu Math TeX Gyre",serif' font-size="29">0.06</text>
<text x="107.3" y="1084.42" fill="#d62728" font-family='"Liberation Serif","DejaVu Serif","DejaVu Math TeX Gyre",serif' font-size="29">0.08</text>
<text x="107.3" y="1137.4" fill="#9467bd" font-family='"Liberation Serif","DejaVu Serif","DejaVu Math TeX Gyre",serif' font-size="29">0.10</text>
<rect x="395.0" y="761.0" width="187.2" height="143.7" fill="#fff"/>
<clipPath id="clipf"><rect x="395.0" y="761.0" width="187.2" height="143.7"/></clipPath><g clip-path="url(#clipf)">
<circle cx="395" cy="789.18" r="4.3" fill="#4a5c9c" stroke="#3a4a85" stroke-width="1.4"/>
<circle cx="409.82" cy="789.18" r="4.3" fill="#4a5c9c" stroke="#3a4a85" stroke-width="1.4"/>
<circle cx="422.36" cy="789.18" r="4.3" fill="#4a5c9c" stroke="#3a4a85" stroke-width="1.4"/>
<circle cx="433.21" cy="789.18" r="4.3" fill="#4a5c9c" stroke="#3a4a85" stroke-width="1.4"/>
<circle cx="442.79" cy="789.47" r="4.3" fill="#4a5c9c" stroke="#3a4a85" stroke-width="1.4"/>
<circle cx="451.35" cy="790.36" r="4.3" fill="#4a5c9c" stroke="#3a4a85" stroke-width="1.4"/>
<circle cx="459.1" cy="791.25" r="4.3" fill="#4a5c9c" stroke="#3a4a85" stroke-width="1.4"/>
<circle cx="466.18" cy="792.44" r="4.3" fill="#4a5c9c" stroke="#3a4a85" stroke-width="1.4"/>
<circle cx="472.68" cy="793.62" r="4.3" fill="#4a5c9c" stroke="#3a4a85" stroke-width="1.4"/>
<circle cx="478.71" cy="794.81" r="4.3" fill="#4a5c9c" stroke="#3a4a85" stroke-width="1.4"/>
<circle cx="484.32" cy="796.29" r="4.3" fill="#4a5c9c" stroke="#3a4a85" stroke-width="1.4"/>
<circle cx="489.56" cy="798.36" r="4.3" fill="#4a5c9c" stroke="#3a4a85" stroke-width="1.4"/>
<circle cx="494.49" cy="801.03" r="4.3" fill="#4a5c9c" stroke="#3a4a85" stroke-width="1.4"/>
<circle cx="499.14" cy="803.4" r="4.3" fill="#4a5c9c" stroke="#3a4a85" stroke-width="1.4"/>
<circle cx="503.54" cy="805.77" r="4.3" fill="#4a5c9c" stroke="#3a4a85" stroke-width="1.4"/>
<circle cx="507.71" cy="808.73" r="4.3" fill="#4a5c9c" stroke="#3a4a85" stroke-width="1.4"/>
<circle cx="511.67" cy="811.4" r="4.3" fill="#4a5c9c" stroke="#3a4a85" stroke-width="1.4"/>
<circle cx="515.45" cy="814.07" r="4.3" fill="#4a5c9c" stroke="#3a4a85" stroke-width="1.4"/>
<circle cx="519.07" cy="817.03" r="4.3" fill="#4a5c9c" stroke="#3a4a85" stroke-width="1.4"/>
<circle cx="522.53" cy="823.84" r="4.3" fill="#4a5c9c" stroke="#3a4a85" stroke-width="1.4"/>
<circle cx="525.85" cy="827.4" r="4.3" fill="#4a5c9c" stroke="#3a4a85" stroke-width="1.4"/>
<circle cx="529.04" cy="831.55" r="4.3" fill="#4a5c9c" stroke="#3a4a85" stroke-width="1.4"/>
<circle cx="532.1" cy="838.66" r="4.3" fill="#4a5c9c" stroke="#3a4a85" stroke-width="1.4"/>
<circle cx="535.06" cy="843.1" r="4.3" fill="#4a5c9c" stroke="#3a4a85" stroke-width="1.4"/>
<circle cx="537.91" cy="846.66" r="4.3" fill="#4a5c9c" stroke="#3a4a85" stroke-width="1.4"/>
<circle cx="540.67" cy="850.51" r="4.3" fill="#4a5c9c" stroke="#3a4a85" stroke-width="1.4"/>
<circle cx="543.34" cy="854.36" r="4.3" fill="#4a5c9c" stroke="#3a4a85" stroke-width="1.4"/>
<circle cx="545.92" cy="857.92" r="4.3" fill="#4a5c9c" stroke="#3a4a85" stroke-width="1.4"/>
<circle cx="548.42" cy="861.47" r="4.3" fill="#4a5c9c" stroke="#3a4a85" stroke-width="1.4"/>
<circle cx="550.85" cy="865.33" r="4.3" fill="#4a5c9c" stroke="#3a4a85" stroke-width="1.4"/>
<circle cx="553.2" cy="868.88" r="4.3" fill="#4a5c9c" stroke="#3a4a85" stroke-width="1.4"/>
<circle cx="555.49" cy="872.14" r="4.3" fill="#4a5c9c" stroke="#3a4a85" stroke-width="1.4"/>
<circle cx="557.72" cy="875.7" r="4.3" fill="#4a5c9c" stroke="#3a4a85" stroke-width="1.4"/>
<circle cx="559.89" cy="878.66" r="4.3" fill="#4a5c9c" stroke="#3a4a85" stroke-width="1.4"/>
<circle cx="562" cy="881.62" r="4.3" fill="#4a5c9c" stroke="#3a4a85" stroke-width="1.4"/>
<circle cx="564.06" cy="884.59" r="4.3" fill="#4a5c9c" stroke="#3a4a85" stroke-width="1.4"/>
</g>
<circle cx="419" cy="871.2" r="4.3" fill="#4a5c9c" stroke="#3a4a85" stroke-width="1.4"/>
<text x="429.5" y="878.3" font-family='"Liberation Serif","DejaVu Serif","DejaVu Math TeX Gyre",serif' font-size="28.5" textLength="102.5" lengthAdjust="spacing">Gap at Γ</text>
<path d="M451.35,761.0v6M451.35,904.7v-6M484.32,761.0v6M484.32,904.7v-6M507.71,761.0v6M507.71,904.7v-6M525.85,761.0v6M525.85,904.7v-6M540.67,761.0v6M540.67,904.7v-6M553.2,761.0v6M553.2,904.7v-6M564.06,761.0v6M564.06,904.7v-6M573.63,761.0v6M573.63,904.7v-6M395.0,815.0h10M582.2,815.0h-10M395.0,889.9h10M582.2,889.9h-10" stroke="#000" stroke-width="2.2"/>
<rect x="395.0" y="761.0" width="187.2" height="143.7" fill="none" stroke="#000" stroke-width="3.2"/>
<text x="381.5" y="822.8" text-anchor="end" font-family='"Liberation Serif","DejaVu Serif","DejaVu Math TeX Gyre",serif' font-size="23">0.4</text>
<text x="381.5" y="897.7" text-anchor="end" font-family='"Liberation Serif","DejaVu Serif","DejaVu Math TeX Gyre",serif' font-size="23">0.3</text>
<text x="369.5" y="935" font-family='"Liberation Serif","DejaVu Serif","DejaVu Math TeX Gyre",serif' font-size="23">10<tspan font-size="17" dy="-9.5">−2</tspan></text>
<text x="557" y="935" font-family='"Liberation Serif","DejaVu Serif","DejaVu Math TeX Gyre",serif' font-size="23">10<tspan font-size="17" dy="-9.5">−1</tspan></text>
<text x="480.5" y="951.5" font-family='"Liberation Serif","DejaVu Serif","DejaVu Math TeX Gyre",serif' font-size="29" font-style="italic" stroke="#000" stroke-width="0.4">T</text>
<text x="518.5" y="805.1" font-family='"Liberation Sans","DejaVu Sans",sans-serif' font-size="41.5">(f)</text>
</svg>
</body></html>
